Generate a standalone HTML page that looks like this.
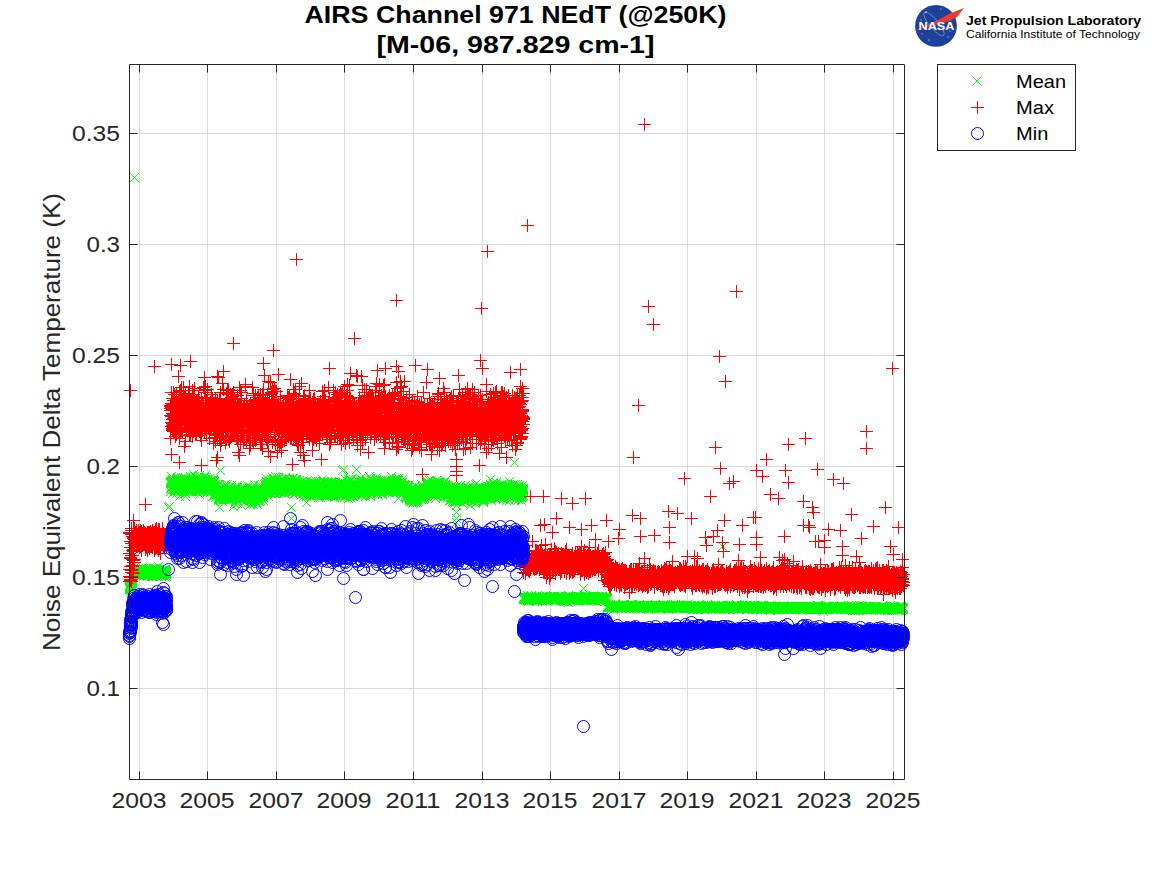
<!DOCTYPE html>
<html><head><meta charset="utf-8"><style>
html,body{margin:0;padding:0;background:#fff;width:1167px;height:875px;overflow:hidden}
svg{display:block}
text{font-family:"Liberation Sans",sans-serif}
</style></head><body>
<svg width="1167" height="875" viewBox="0 0 1167 875">
<defs>
<marker id="mx" markerUnits="userSpaceOnUse" markerWidth="20" markerHeight="20" refX="10" refY="10" viewBox="0 0 20 20" overflow="visible"><path d="M5.5 5.5L14.5 14.5M5.5 14.5L14.5 5.5" stroke="#00ff00" stroke-width="1" fill="none"/></marker>
<marker id="mp" markerUnits="userSpaceOnUse" markerWidth="20" markerHeight="20" refX="10" refY="10" viewBox="0 0 20 20" overflow="visible"><path d="M3.5 10H16.5M10 3.5V16.5" stroke="#ff0000" stroke-width="1" fill="none"/></marker>
<marker id="mo" markerUnits="userSpaceOnUse" markerWidth="20" markerHeight="20" refX="10" refY="10" viewBox="0 0 20 20" overflow="visible"><circle cx="10" cy="10" r="6" stroke="#0000ff" stroke-width="1" fill="none"/></marker>
</defs>
<rect width="1167" height="875" fill="#fff"/>
<g stroke="#dadada" stroke-width="1" fill="none"><path d="M139.5 64.5V779.5"/><path d="M207.5 64.5V779.5"/><path d="M276.5 64.5V779.5"/><path d="M344.5 64.5V779.5"/><path d="M413.5 64.5V779.5"/><path d="M482.5 64.5V779.5"/><path d="M550.5 64.5V779.5"/><path d="M619.5 64.5V779.5"/><path d="M687.5 64.5V779.5"/><path d="M756.5 64.5V779.5"/><path d="M824.5 64.5V779.5"/><path d="M893.5 64.5V779.5"/><path d="M129.5 688.5H904.5"/><path d="M129.5 577.5H904.5"/><path d="M129.5 466.5H904.5"/><path d="M129.5 355.5H904.5"/><path d="M129.5 244.5H904.5"/><path d="M129.5 133.5H904.5"/></g>
<path d="M129.5 588.5l0 0 0-3 0 4 0-3 0 1 0 0 0-1 1-1 0 3 0 0 0-3 0 6 0-2 0-3 0 3 0-2 0 0 1 2 0-3 0 2 0 2 0-1 0-2 0 2 0-4 0 2 0 1 0-3 1 2 0 3 0 1 0-2 0 0 0-3 0 0 0-1 0 3 0 1 0-2 1-17 0 2 0 1 0-1 0 2 0-2 0 0 0-2 0 2 0 2 1-2 0 0 0 1 0-1 0 1 0-396 0 396 0 0 0-2 0 2 0-4 0 3 1-2 0 2 0 1 0-2 0 1 0-3 0 1 0 3 0-3 0 3 0-3 1 0 0 0 0 2 0 1 0-3 0 2 0 3 0-4 0 0 0 2 1-1 0-1 0-2 0 4 0-2 0 1 0-2 0 4 0-1 0 1 0-2 1 1 0 1 0 0 0-1 0-1 0-1 0 0 0-1 0 3 0-1 0-4 1 4 0 2 0-2 0-3 0 3 0 1 0-1 0-1 0 4 0 0 1-3 0 1 0 0 0 0 0 2 0-2 0-1 0-1 0 0 0 1 0 2 1-1 0-1 0 0 0 0 0 1 0-3 0-2 0 3 0-1 0 5 0-3 1 0 0-3 0 4 0-2 0 3 0 0 0-3 0 2 0-6 0 4 1 3 0-1 0-1 0 0 0-3 0 1 0 2 0 3 0-7 0 5 0 0 1 1 0-4 0 1 0 1 0-2 0 0 0 0 0 2 0 1 0-1 0 0 1-1 0 0 0 3 0-2 0 0 0 2 0 0 0 0 0-1 0-1 1 1 0-1 0 3 0-2 0 0 0-1 0 2 0-6 0 5 0 0 0-3 1 6 0-4 0 0 0-2 0 4 0-2 0-1 0 1 0 1 0 1 0-2 1-2 0 1 0-3 0 3 0 2 0 0 0-1 0-1 0 4 0-2 1 1 0-1 0-2 0 4 0-5 0 0 0 1 0 0 0 0 0 0 0 3 1-2 0 1 0-4 0 1 0 4 0-4 0 4 0-4 0 3 0-3 0 2 1-2 0 2 0 3 0-4 0 5 0-5 0-1 0 2 0-1 0 4 1-1 0 0 0-1 0 3 0-3 0 0 0-2 0-1 0 2 0 2 0 0 1-4 0 3 0-1 0-2 0 3 0-5 0 4 0 4 0-6 0 2 0-3 1 2 0 2 0-3 0 2 0-1 0 0 0 1 0 1 0 1 0-1 1-2 0 4 0-1 0-5 0 4 0 0 0 1 0-1 0-3 0 2 0-4 1 4 0 4 0-3 0 1 0-3 0-1 0 0 0 2 0-1 0 0 0 3 1-5 0 1 0 1 0 1 0 0 0-3 0 3 0 0 0 1 0-3 1 2 0 0 0-1 0 1 0-1 0 3 0-8 0 3 0 0 0 2 0 0 1 0 0 2 0-4 0 1 0 2 0-2 0 3 0 0 0-2 0-2 0 6 1-2 0 0 0-1 0 0 0 1 0-1 0-1 0 2 0-1 0-1 1-1 0 4 0-1 0 3 0-5 0 0 0 2 0 1 0-1 0 0 0 2 1-4 0-1 0 1 0 0 0 2 0 1 0-1 0 2 0-4 0 4 0-4 1 3 0-4 0 3 0-1 0 1 0 0 0-1 0 0 0 0 0-2 1 1 0-2 0 3 0 4 0-3 0-3 0 1 0 3 0-3 0-2 0 1 1 0 0 0 0 3 0-1 0-3 0 2 0-1 0 0 0-1 0 6 1-4 0 2 0 1 0-3 0 2 0 0 0-1 0 4 0-3 0-1 0 1 2-66 1-1 1-15 0-3 0-5 0-2 0 0 0 1 1 4 0 2 0-12 0 8 0-3 0 6 0 1 0-6 0 1 0-2 1 5 0-7 0 1 0 2 0 7 0 4 0-8 0-5 0 5 0-4 0 5 1-6 0 3 0 1 0 2 0-2 0 5 0-4 0-7 0 10 0-5 0-1 1 8 0-9 0 4 0-3 0 7 0-6 0 2 0-6 0 11 0-9 1 7 0 1 0 0 0 2 0-11 0 6 0-1 0 1 0 2 0-3 0-3 1 2 0 6 0-10 0 5 0-4 0 7 0-9 0 4 0 1 0 1 0 8 1-3 0-9 0 11 0-12 0-2 0 1 0 6 0 1 0-9 0 9 1-2 0 3 0-4 0 5 0-1 0-7 0 10 0-5 0 2 0 2 0-8 1 3 0-2 0-1 0 4 0 1 0 3 0 0 0-5 0-3 0 15 0-4 1-8 0-3 0 2 0 3 0 3 0-1 0-2 0-2 0 1 0-2 1 2 0-1 0 2 0-8 0 5 0 0 0-3 0 4 0-3 0 1 0 1 1 1 0-2 0 6 0-3 0 1 0-1 0-3 0-1 0 7 0-5 0-5 1-1 0 8 0-3 0 2 0-1 0 0 0 1 0-4 0 4 0 4 1-1 0-9 0 2 0 0 0 4 0 4 0-2 0-8 0 7 0 2 0-4 1 8 0-9 0 7 0 4 0-13 0 3 0 4 0 9 0-18 0 9 0-1 1-3 0-2 0 2 0 0 0-3 0 10 0-9 0 2 0-1 0 1 1 2 0-3 0 2 0 7 0-3 0-5 0 5 0-6 0 3 0-6 0 1 1 1 0 8 0-4 0 1 0-1 0 1 0 0 0 1 0-2 0-4 0 1 1 7 0 1 0-3 0-8 0 11 0-4 0-2 0 1 0-2 0 8 1 0 0-10 0 3 0 2 0 3 0-13 0 12 0 3 0-8 0 1 0 5 1-3 0-6 0 0 0 1 0-2 0 5 0-1 0 2 0 2 0 4 0-6 1-7 0 11 0-5 0 5 0-6 0 3 0-2 0 0 0 5 0-7 1 3 0 0 0-2 0-6 0 9 0-12 0 5 0 4 0 3 0 2 0-1 1 0 0-4 0 6 0-6 0 5 0-12 0 5 0 1 0 2 0-8 0 11 1 1 0-1 0-4 0 7 0-8 0 6 0-4 0 0 0 0 0 0 1 4 0 2 0 0 0-2 0-1 0-1 0 5 0-8 0-1 0 3 0-7 1 6 0 0 0-3 0 1 0 5 0-3 0 1 0 3 0-6 0-2 0 4 1 2 0-8 0 9 0-4 0 0 0-2 0 3 0 4 0-2 0 1 1-4 0 7 0-1 0-5 0-9 0 10 0 9 0-10 0-3 0 10 0-9 1 4 0 1 0-8 0 6 0 4 0-6 0 4 0-3 0 4 0 3 1-10 0 2 0 3 0-4 0 0 0 1 0 1 0-2 0 4 0 1 0 0 1 0 0 2 0-9 0 4 0 1 0 1 0-7 0 12 0-10 0 4 0 2 1 1 0-6 0 1 0 3 0 1 0 1 0-4 0-2 0-2 0 11 1-11 0 7 0-1 0 1 0 1 0 1 0-5 0 2 0-9 0 8 0-4 1 3 0 5 0-4 0 3 0-4 0 2 0-3 0-8 0 7 0 2 0 1 1 0 0-1 0 4 0-1 0-4 0 5 0-11 0 7 0 0 0 5 1-6 0-4 0 6 0 6 0-7 0 0 0 0 0 1 0 4 0 3 0-6 1-2 0 7 0-6 0 0 0-2 0 0 0 2 0-1 0 2 0-1 0 2 1-4 0 1 0 1 0 0 0 0 0 4 0-8 0-3 0 9 0-3 1 5 0-5 0-4 0 12 0-6 0-3 0-1 0 5 0-5 0 4 0 3 1-9 0 3 0 3 0 5 0-3 0-5 0 7 0-7 0 1 0 2 0-5 1 15 0-7 0-3 0-3 0-2 0 6 0 1 0-4 0 1 0 3 1-2 0-6 0 9 0-2 0 2 0-5 0-5 0 4 0 5 0 7 0 1 1-7 0-7 0 5 0 3 0 0 0-1 0 4 0-8 0-4 0 5 0-1 1 12 0-8 0-5 0 8 0 1 0-3 0 1 0 3 0-2 0-4 1 5 0 1 0-2 0 2 0-1 0-3 0 1 0 3 0-4 0 6 0 0 1-11 0 7 0-2 0 0 0 3 0-1 0 3 0-1 0 1 0-4 0 1 1 7 0-14 0 15 0-9 0 7 0-14 0 8 0 5 0-3 0 3 1-7 0 1 0 0 0 4 0 0 0 12 0-14 0 0 0-1 0 2 0-4 0 3 1 0 0-1 0-22 0 21 0 8 0-8 0 4 0 3 0-2 0-2 0 3 0-9 1 1 0 3 0 1 0 0 0 7 0 0 0-7 0 1 0-4 0 5 1-6 0 10 0-7 0 4 0-7 0 10 0-3 0 5 0-7 0-6 0 3 1-2 0 10 0-8 0 0 0 5 0-2 0 1 0-3 0-6 0 3 0-3 1 12 0-1 0-5 0 4 0 0 0 0 0-1 0 2 0-3 0-8 1-2 0 14 0-2 0-12 0 10 0-4 0 2 0-8 0 12 0-3 0 3 1 1 0 1 0 1 0-4 0-1 0-3 0 4 0-2 0-4 0 9 0-2 1-12 0 3 0 6 0-4 0 9 0-4 0 2 0 1 0 1 0-5 1 3 0-2 0 2 0 0 0 3 0-3 0-4 0 2 0-5 0 6 0 4 1-8 0-3 0 5 0-1 0 2 0-3 0 3 0-4 0 9 0-6 0 2 1 1 0-3 0 2 0-2 0-1 0 1 0 2 0-6 0 1 0 1 1 1 0 6 0-5 0-1 0 2 0 3 0-6 0 6 0-12 0 5 0 9 1 0 0-5 0-2 0 5 0-5 0 7 0-1 0-2 0-5 0 6 1-4 0 0 0-1 0 1 0 2 0 2 0 0 0 9 0-14 0 6 0-7 1 2 0-3 0 8 0-3 0-1 0-1 0 4 0-5 0 3 0 8 0-10 1-1 0-2 0 7 0-3 0-3 0 0 0 3 0-4 0 11 0-8 1 0 0 0 0-6 0 2 0 3 0 2 0-5 0 11 0-5 0 3 0 0 1-5 0 10 0-9 0-7 0-2 0 9 0 3 0-3 0 6 0-7 0 3 1 0 0-6 0 5 0 0 0 3 0 0 0-1 0-6 0 5 0 2 1-4 0 3 0 0 0 1 0-4 0 2 0-2 0 0 0-2 0 1 0-3 1 3 0 3 0 0 0 0 0-3 0 6 0-7 0 5 0-2 0-4 0 0 1 5 0-2 0 1 0 10 0-9 0-2 0 2 0-4 0 1 0 2 1-4 0 3 0-1 0 1 0-7 0 13 0-7 0 3 0-6 0-1 0 5 1-1 0 3 0-6 0 0 0 5 0 1 0 1 0-3 0 1 0-4 0 8 1-1 0 0 0-10 0 9 0-6 0 5 0-1 0 3 0-5 0 0 1-3 0-1 0 7 0-6 0 6 0-4 0 0 0 5 0 0 0-7 0 3 1 1 0 2 0-5 0 1 0 1 0 3 0 1 0-5 0 8 0-5 0-4 1-3 0 4 0-7 0 9 0 2 0 2 0-3 0-7 0 5 0 3 1-10 0 5 0 5 0-2 0-8 0 6 0 2 0 7 0-9 0-2 0 5 1 0 0 1 0 3 0-6 0-4 0 5 0 0 0 3 0 0 0-6 0 5 1 1 0-4 0 4 0-3 0 0 0-1 0 4 0 7 0-9 0-5 1 3 0-1 0 3 0-2 0 10 0-7 0 4 0-9 0 2 0 8 0-13 1 6 0-6 0 11 0-10 0 4 0 0 0-5 0 15 0-10 0 7 0-9 1-3 0 6 0 0 0 10 0-14 0-2 0 3 0 4 0 1 0-5 1 1 0 4 0 2 0-6 0 2 0-10 0 6 0 5 0-1 0-1 0 6 1-6 0-3 0 4 0 0 0-4 0 7 0 3 0-8 0-2 0 3 0 5 1-6 0-1 0 1 0 3 0-1 0-1 0 5 0 4 0-10 0 5 1-2 0 9 0-14 0 2 0 2 0-5 0 4 0 3 0-8 0 6 0 6 1-9 0-1 0-5 0 8 0-5 0 8 0 4 0-4 0-5 0 5 0-4 1-2 0 2 0 2 0-2 0 4 0 5 0-5 0 0 0-5 0 7 1-3 0 2 0-6 0 3 0-9 0 7 0-1 0-1 0 10 0-12 0 5 1 0 0 3 0 1 0-9 0 4 0-1 0 5 0 1 0-5 0 0 0-2 1 5 0 4 0-4 0-4 0-1 0 0 0-3 0 12 0-6 0-2 1 9 0-7 0 4 0-4 0 3 0-4 0-2 0 3 0 1 0 1 0-3 1-2 0-1 0 3 0-3 0 0 0 3 0 0 0 0 0-5 0-3 0 7 1-1 0-2 0 2 0 2 0-4 0 2 0-5 0 3 0-3 0-2 1 7 0-12 0 10 0 3 0-2 0-7 0 6 0-7 0 3 0 8 0-5 1 4 0-8 0-4 0 5 0 7 0-2 0 1 0-5 0 0 0 0 1 11 0-10 0 6 0-7 0 5 0-8 0 2 0 3 0-4 0 1 0 1 1-1 0 7 0-1 0-9 0 11 0-7 0 0 0 0 0 4 0-1 0-4 1 2 0-5 0 11 0-9 0-1 0 1 0 3 0 2 0-4 0 2 1-2 0 6 0-4 0-7 0 12 0-4 0 6 0-10 0 1 0 1 0-4 1 3 0 6 0-2 0-11 0 13 0-3 0 2 0-3 0 0 0 0 0 0 1-4 0 7 0-3 0 1 0 0 0-2 0 0 0-4 0 6 0 0 1-2 0-6 0 11 0-5 0 1 0-1 0-2 0 1 0-2 0 2 0 9 1-3 0 3 0-10 0-4 0 2 0-5 0 14 0 0 0-4 0 1 0 0 1-2 0 3 0-6 0 2 0 1 0-5 0 2 0 5 0 0 0-10 1 12 0-2 0 1 0-3 0 3 0-7 0 4 0-3 0 2 0 6 0 1 1-5 0-2 0 4 0-1 0 6 0-5 0-11 0 9 0-2 0-1 0 3 1 0 0-2 0 7 0-4 0 0 0-1 0 4 0-8 0 8 0-5 1 6 0 0 0-4 0-3 0 3 0 0 0-7 0 4 0-1 0 8 0 1 1-9 0 1 0-3 0 6 0 2 0 3 0-11 0 8 0-4 0-2 0 1 1-1 0 4 0-1 0 4 0-6 0-5 0 3 0 5 0-7 0 3 1 5 0-7 0 8 0-2 0-3 0 1 0-1 0 0 0 0 0 2 0-1 1-2 0-1 0 11 0-11 0 3 0 5 0-1 0-6 0 10 0-1 0-8 1-3 0 7 0-3 0 0 0-2 0 0 0 3 0 3 0-11 0-1 1 12 0-6 0 5 0-2 0 4 0-1 0-4 0 0 0 2 0 1 0-5 1-3 0 6 0-1 0 0 0-3 0 6 0-9 0 5 0 6 0-8 0 5 1 0 0 0 0-7 0 9 0-3 0 1 0 0 0-1 0 4 0 1 1-12 0 4 0 2 0-7 0 13 0-8 0 5 0-2 0-1 0-3 0 2 1 2 0 2 0-3 0-1 0 1 0 5 0-3 0-4 0-2 0 3 0-2 1 2 0 7 0-3 0-2 0 1 0 5 0 15 0 11 0-36 0 5 0-2 0 1 1 0 0-2 0 4 0-10 0 9 0 1 0-6 0 0 0 10 0-10 0 2 1-1 0 0 0 0 0-5 0 16 0-11 0 4 0-2 0 5 0-2 0 2 1 0 0-1 0-3 0 3 0-9 0 9 0-1 0-1 0-6 0 9 1-7 0 5 0-9 0 6 0-2 0 0 0 0 0 9 0-7 0 2 0 6 1-13 0 11 0-7 0-1 0 1 0-5 0 1 0 2 0 2 0 4 0 1 1-5 0 3 0 0 0-2 0 1 0-3 0 5 0-3 0 1 0 0 1 0 0-3 0-2 0 5 0-2 0 0 0 2 0-3 0 5 0 0 0-5 1 5 0-5 0 6 0 0 0-3 0 4 0 0 0-2 0-8 0 7 0 0 1 3 0-7 0 6 0-1 0 0 0-5 0 1 0 7 0-1 0-3 1 4 0-3 0-2 0-4 0 9 0-4 0 1 0-7 0 5 0 3 0-2 1-2 0-1 0 5 0-2 0 0 0 0 0-1 0 1 0-1 0 2 1-4 0 1 0 4 0-1 0 1 0 7 0-5 0 2 0-3 0-2 0-2 1-4 0 2 0-3 0 4 0-2 0 3 0 3 0-1 0 4 0 0 0 1 1-1 0-2 0-3 0 4 0-3 0 0 0 2 0-5 0-2 0 7 1 5 0-2 0 9 0-18 0 3 0-6 0 5 0 10 0-1 0-10 0 3 1-2 0-2 0 4 0 0 0 1 0 1 0 1 0 3 0-5 0-1 0 1 1 2 0-3 0-3 0 2 0 5 0-7 0 7 0-8 0 7 0 0 1-3 0 1 0-1 0 7 0-8 0-1 0 4 0 3 0-3 0-2 0 5 1-7 0 0 0-1 0 8 0-12 0 3 0 6 0 0 0 5 0-5 0-3 1 7 0-1 0 0 0 0 0-2 0-7 0 1 0 11 0-7 0-7 1 7 0 3 0-2 0-1 0-8 0 8 0-1 0 7 0-6 0 0 0-2 1 1 0 2 0-3 0-1 0-2 0 5 0-1 0 0 0-5 0 3 0-4 1 10 0 1 0-3 0-2 0 2 0-6 0 0 0 9 0-8 0 4 1-3 0-6 0 6 0 6 0 1 0-13 0 3 0 4 0 5 0 1 0 1 1 1 0-8 0-2 0 7 0-4 0 1 0-1 0-1 0 5 0-7 0-2 1 3 0 3 0-1 0 0 0-6 0 4 0 7 0-5 0-2 0 7 1-6 0 4 0-2 0 1 0 2 0 5 0-4 0-7 0-1 0 3 0 0 1 3 0-2 0 0 0-6 0 5 0 3 0 4 0-4 0-2 0-5 0 5 1 0 0-1 0 1 0 1 0 0 0 7 0-12 0-2 0 7 0-6 1 4 0 0 0-2 0 5 0 0 0-2 0 2 0 1 0-5 0 4 0-2 1 0 0-2 0 8 0-5 0-7 0 7 0-11 0 11 0 1 0 3 0-5 1-3 0 9 0-3 0 1 0-5 0 3 0-9 0 8 0-9 0 4 1-2 0 10 0-1 0-6 0 7 0-4 0-8 0 6 0-5 0 7 0 1 1-4 0 5 0 1 0-7 0 6 0-3 0-1 0 8 0-9 0 1 0 1 1 3 0 0 0-6 0 8 0 2 0 1 0-7 0-2 0-2 0 5 1-2 0 0 0-2 0-5 0 6 0 1 0-1 0-4 0 5 0 0 0-4 1 7 0-3 0 1 0 1 0-2 0 0 0 2 0 1 0 1 0-4 0 3 1 2 0-10 0 4 0 1 0 1 0 6 0-2 0-5 0 0 0-4 1 1 0 8 0-11 0 9 0-5 0 1 0 1 0 7 0-5 0 0 0 2 1-11 0 14 0-12 0 3 0 5 0-7 0-2 0 11 0-6 0 5 0-2 1-2 0 7 0-7 0 8 0-11 0 0 0 1 0 3 0-4 0 1 1 8 0-5 0 4 0-3 0-3 0-1 0 3 0 0 0-2 0 0 0 7 1-2 0-2 0-3 0 0 0 9 0-9 0 10 0-11 0-3 0 13 0-8 1 6 0-4 0-2 0 4 0-4 0 2 0-2 0-6 0 8 0-3 1 1 0 2 0-6 0 7 0 0 0 5 0-4 0-2 0-4 0 3 0-5 1 6 0-2 0-1 0 2 0 1 0-1 0-5 0 9 0-4 0 1 1-1 0-4 0 4 0-2 0-2 0 4 0 2 0 0 0-2 0-3 0 1 1 1 0-5 0 8 0-2 0-5 0 10 0 1 0-11 0 4 0-3 0 6 1-7 0 6 0 0 0 2 0-10 0 4 0 2 0 4 0-3 0 2 1-1 0-5 0 3 0-1 0 0 0-2 0 6 0-2 0-7 0 9 0-5 1-3 0 10 0-5 0-18 0 20 0-2 0 0 0-6 0 9 0-5 0 2 0 0 1-3 0-1 0 4 0-19 0 24 0-7 0 0 0 3 0-3 0 7 0-3 1 7 0-8 0 7 0-10 0 3 0-4 0 2 0 0 0 4 0 2 0-5 1-5 0 5 0 0 0-1 0 5 0 1 0-7 0 0 0-7 0 7 0 5 1-6 0 7 0-1 0 0 0 0 0-3 0 4 0 0 0-2 0-2 1 5 0 1 0-8 0 5 0-2 0 8 0-10 0-1 0-1 0 7 0-7 1 6 0-4 0 6 0 1 0-1 0-12 0 2 0-4 0 19 0-12 0 1 1 2 0 2 0-4 0 2 0-1 0-4 0 11 0 0 0-7 0 0 1 7 0 2 0-8 0 1 0-3 0 3 0-11 0 1 0 10 0-2 0 2 1-1 0 1 0-1 0-1 0 2 0-4 0 7 0-8 0 2 0 5 0-5 1 5 0 2 0-3 0-4 0 8 0-5 0-5 0 11 0-7 0 1 1 2 0-6 0 5 0-7 0 1 0 2 0 9 0-6 0 2 0-5 0 3 1-9 0 6 0 3 0-4 0-5 0 1 0 8 0 3 0-6 0 7 0-11 1 7 0-1 0 3 0-9 0 9 0-4 0-3 0 1 0 1 0 2 1-4 0 0 0 3 0 0 0 2 0 1 0-10 0 7 0-19 0 20 0-1 0-4 1 6 0 4 0-7 0-2 0 6 0-3 0 0 0 1 0-3 0 2 0-3 1-4 0 10 0-2 0-2 0 5 0-5 0 5 0-1 0-4 0-4 1 6 0-1 0 3 0-9 0 5 0 1 0 1 0-1 0 1 0-10 0 7 1-1 0-3 0 6 0-2 0-3 0-1 0 7 0-11 0 9 0-4 0 5 1 6 0-3 0-4 0 6 0 1 0-3 0 3 0-6 0 2 0-3 1-1 0 1 0-2 0 2 0 8 0-5 0-3 0 7 0-1 0-10 0 2 1 9 0-6 0 0 0-3 0-2 0 8 0-7 0 5 0 5 0-5 0-3 1 4 0-1 0-3 0 2 0-5 0-2 0 4 0-4 0 4 0 2 1 1 0 6 0-10 0 1 0 0 0-2 0 11 0-10 0 2 0 0 0 10 1-10 0-2 0 8 0-7 0-6 0 12 0-1 0-8 0 0 0 5 0-4 1-2 0 1 0 11 0-2 0-8 0 3 0 1 0-1 0 1 0 6 1-9 0 0 0 3 0-3 0 1 0 0 0-2 0 8 0-7 0 7 0-8 1 0 0 4 0-1 0 4 0-1 0 6 0-19 0 7 0 3 0 0 0 0 1 10 0-18 0 11 0-3 0 0 0 4 0-4 0 3 0 2 0 0 1-11 0 4 0-2 0 1 0 3 0 8 0-10 0 1 0 1 0 6 0-8 1 4 0 1 0-1 0-9 0 2 0 8 0-9 0 5 0-4 0 7 1-2 0-6 0 5 0-3 0 2 0 7 0-4 0 0 0 5 0-6 0 5 1-4 0 0 0-2 0-2 0-1 0 1 0 5 0-1 0-4 0 7 0-6 1 0 0-3 0 2 0 6 0-1 0-4 0 6 0-4 0 0 0 4 1-2 0-3 0-3 0 9 0-14 0 7 0-5 0 5 0 5 0-4 0-1 1 2 0 7 0-2 0-4 0-4 0 1 0 3 0-2 0 0 0-3 0-1 1 1 0 5 0-5 0 13 0-7 0 0 0 1 0-7 0 0 0 3 1 3 0 0 0 4 0-1 0-1 0 0 0-3 0 2 0-4 0-1 0 5 1-9 0 11 0 2 0-9 0 5 0-2 0-4 0 5 0 0 0 2 0-5 1 2 0-3 0 6 0-4 0 3 0-5 0 3 0-4 0 1 0 6 1-4 0 0 0 3 0-6 0 10 0-10 0 2 0 9 0-14 0 13 0-5 1 0 0-6 0 5 0-5 0 8 0-5 0-1 0 0 0 2 0 4 0-2 1-5 0 0 0-1 0 7 0-1 0-6 0-2 0 6 0-2 0 4 1-2 0 1 0 2 0 1 0-5 0 4 0-5 0-2 0 5 0 3 0 1 1-5 0-6 0 7 0-2 0 3 0 2 0-6 0-1 0 2 0-1 0-2 1 5 0-4 0 2 0 0 0-1 0 4 0-4 0 2 0 3 0-4 1-4 0 3 0 0 0 4 0 4 0-5 0-2 0 6 0-8 0 4 0 1 1-2 0-1 0 2 0 4 0-3 0-4 0 3 0 2 0 3 0-3 0-2 1 4 0-2 0-3 0-2 0 2 0 3 0-7 0-2 0 8 0-8 1 1 0 4 0 0 0 1 0 0 0 2 0-3 0-2 0-7 0 14 0-1 1-1 0-2 0-3 0 5 0-2 0-5 0 8 0-8 0 3 0 8 0-9 1 3 0 4 0-4 0-5 0 3 0 2 0-6 0 11 0-4 0 1 1-1 0 0 0-3 0-4 0 8 0-2 0 5 0-9 0 4 0 7 0-12 1 0 0 5 0 6 0-11 0 5 0-1 0-1 0 1 0 5 0-4 0-5 1 2 0 3 0-5 0 2 0 1 0-6 0 14 0-12 0 6 0-1 1-2 0 7 0-4 0-3 0 7 0-2 0-6 0-2 0 9 0-4 0-5 1 8 0-8 0 3 0 0 0-5 0 10 0 10 0-10 0-1 0-2 0 0 1 2 0 1 0-4 0 2 0-1 0 3 0 1 0 1 0-6 0 0 1 4 0-3 0 0 0 2 0 0 0 4 0-10 0 9 0-6 0 4 0-7 1 4 0-1 0 8 0-10 0 8 0-7 0-1 0 5 0 3 0-4 0 2 1-1 0-1 0 5 0-5 0 4 0-8 0 4 0 4 0-5 0-6 1 11 0-1 0-3 0 2 0-2 0 3 0 3 0-3 0-1 0-2 0 2 1-2 0 6 0-7 0 1 0 4 0 0 0 0 0-3 0 3 0-6 0 0 1 1 0 6 0 3 0-6 0 0 0 1 0 7 0-5 0 0 0-3 1 4 0 3 0-4 0-3 0 8 0-5 0 6 0-10 0 4 0 1 0-7 1 7 0 2 0-3 0 2 0 0 0-4 0 6 0-6 0 2 0-1 1 5 0-4 0 0 0-6 0 7 0 5 0-11 0 8 0-1 0-6 0 5 1 5 0-3 0 1 0 3 0-5 0 4 0-7 0 1 0 9 0-1 0-1 1-9 0 5 0-3 0 10 0-11 0 0 0 2 0 4 0-3 0 1 1 2 0-1 0-7 0 2 0 10 0-5 0 6 0-1 0-1 0-4 0 5 1-7 0 10 0-6 0 0 0-4 0 0 0 1 0-1 0-1 0-1 0 5 1 3 0 3 0-4 0-3 0 2 0 4 0-6 0 4 0-3 0-1 1-2 0 5 0-6 0-1 0 5 0 2 0 0 0 0 0-4 0 1 0 4 1 3 0-17 0 14 0-3 0-1 0-3 0 1 0-2 0 5 0-5 0 3 1-4 0 9 0-2 0-6 0 6 0-4 0-1 0 3 0 3 0 2 1-4 0 3 0-2 0 0 0 1 0-8 0 3 0 7 0-10 0 2 0 10 1-11 0 4 0 1 0-2 0 4 0 0 0-6 0 9 0-9 0 1 0 1 1 1 0-4 0 5 0-9 0 6 0-2 0 1 0 2 0 1 0-3 1 3 0-6 0 4 0 5 0-6 0 1 0 1 0 3 0-1 0-2 0-3 1 4 0-11 0 12 0-4 0 5 0-3 0 5 0-7 0-5 0 7 0-1 1 1 0 4 0-7 0 5 0 1 0 1 0-11 0 7 0-3 0 2 1-3 0 2 0 4 0 3 0-4 0-7 0 9 0-9 0 3 0 5 0-6 1 5 0-4 0-3 0 5 0-3 0 8 0 0 0-1 0-9 0 10 0-6 1 1 0-1 0-3 0 2 0 3 0 2 0-4 0-2 0-1 0 0 1 7 0-4 0-1 0-7 0-1 0 9 0 0 0 1 0-3 0-3 0-4 1 3 0-5 0 9 0 0 0 3 0-11 0 1 0 7 0-1 0-8 0 4 1 3 0-2 0 3 0-1 0-2 0 3 0-1 0 4 0-9 0 4 1-2 0 2 0 2 0 1 0-10 0 12 0-2 0 0 0-2 0 3 0-2 1-8 0 4 0 2 0 0 0-1 0 4 0-6 0 1 0-1 0 4 0 1 1-4 0 4 0-3 0 7 0-13 0 8 0 4 0-6 0-2 0 1 1 5 0-4 0 6 0-4 0-2 0 0 0 4 0 1 0-6 0-1 0 0 1 6 0 4 0-8 0 4 0-4 0 5 0-8 0 7 0-7 0 2 0 4 1-2 0 1 0 2 0-1 0 4 0-2 0-6 0 3 0-2 0 0 1 8 0-9 0 8 0 0 0 5 0-10 0 1 0 0 0-2 0 7 0 1 1-15 0 7 0 5 0-8 0 1 0 3 0 0 0-1 0 0 0 7 0-14 1 6 0-2 0 5 0-3 0 4 0-2 0 8 0-13 0 3 0 5 1-4 0 1 0-6 0 8 0-3 0 3 0-5 0 1 0-1 0 9 0-13 1 8 0 0 0 3 0-3 0-5 0 6 0-8 0 10 0-5 0-2 1 1 0 4 0-8 0 12 0-9 0 8 0-5 0 7 0-12 0 8 0-3 1-2 0 5 0-4 0-2 0 2 0-2 0 2 0 1 0 4 0-5 0-2 1 6 0-5 0-2 0-1 0 11 0-7 0 7 0-10 0 0 0 10 1-7 0 0 0 0 0-3 0 8 0-9 0 8 0-7 0 13 0-7 0 2 1-10 0 7 0-4 0 0 0 0 0 6 0-3 0-2 0 0 0-1 0 1 1 1 0-3 0 1 0-5 0 8 0 2 0-3 0 7 0-8 0 3 1 4 0-3 0-4 0 4 0-2 0 5 0-1 0-3 0 3 0 4 0-2 1-1 0-4 0-1 0 0 0 6 0-7 0 5 0 5 0-12 0 7 0-5 1 4 0 2 0-5 0-1 0 3 0 2 0-2 0-2 0 7 0-7 1-1 0 6 0 7 0-9 0 1 0-3 0 2 0-2 0 5 0-3 0-1 1 7 0-9 0 9 0-4 0-3 0 3 0-1 0 2 0-1 0 7 0-3 1 0 0-8 0 3 0 6 0-2 0-3 0 0 0 4 0-11 0 4 1-2 0 10 0-10 0 4 0 6 0-6 0 2 0-1 0 3 0 5 0-12 1 4 0 6 0 3 0-9 0 5 0-2 0 0 0-8 0-1 0 7 0-1 1 0 0-4 0 10 0-6 0 10 0-10 0 2 0 1 0-4 0-2 1 1 0 2 0-1 0 9 0-9 0 4 0 0 0-2 0-4 0 5 0 2 1-3 0 0 0-8 0 3 0 4 0 1 0 2 0 9 0 7 0 6 0 4 0-30 0 2 0-4 0 6 1 0 0-3 0 4 0-5 0 0 0 0 0 9 0-13 0 6 0-2 1 2 0-6 0 8 0 0 0-3 0-1 0 2 0 3 0-9 0 11 0-7 1 5 0-6 0 10 0-6 0 5 0-9 0 0 0 7 0-2 0-1 0 3 1-3 0-3 0-5 0-2 0 11 0 0 0-6 0 6 0-3 0 1 1 3 0-9 0 7 0 1 0-3 0 1 0-4 0 4 0 2 0 1 0-6 1 6 0-2 0 1 0-2 0 2 0-2 0 9 0-10 0 5 0-4 0-6 1 7 0 3 0-2 0 1 0-6 0 4 0-6 0 11 0-1 0-9 1 2 0-3 0 2 0 1 0-3 0 3 0 4 0-3 0 3 0-3 0 1 1-5 0 8 0-8 0 3 0-3 0 6 0-5 0 6 0 5 0-6 0-10 1 12 0-3 0 2 0-1 0 3 0-1 0-4 0-4 0 4 0 3 1-9 0 7 0-7 0 11 0 2 0-3 0-5 0 5 0 2 0 1 0-1 1-1 0-8 0 3 0 2 0-1 0-7 0 6 0-2 0 3 0 1 0-7 1 3 0 3 0-4 0 4 0-3 0 0 0 6 0-4 0-1 0 7 1-6 0 1 0 0 0 11 0-9 0 1 0-5 0 5 0 1 0-9 0 6 1 5 0 0 0-5 0 7 0-11 0 7 0-2 0-6 0 7 0-8 0 2 1 2 0-4 0 9 0-6 0-3 0 6 0-1 0-4 0 2 0 5 1 0 0-9 0 9 0 0 0 1 0-6 0-1 0 2 0-2 0 2 0-1 1 1 0-1 0 2 0 0 0-1 0-1 0 8 0-3 0-1 0-5 1 5 0-3 0 3 0-1 0 8 0-9 0-4 0 8 0 0 0 1 0-15 1 6 0 1 0-3 0 6 0 2 0 2 0-1 0-3 0 5 0-4 0-12 1 9 0-1 0 4 0-3 0 0 0 7 0-8 0-3 0 6 0 2 1-3 0 0 0-2 0-2 0 2 0-1 0 8 0-6 0 7 0-6 0-3 1 4 0 0 0 4 0-12 0 6 0 3 0-4 0 3 0-2 0 7 0-1 1-12 0 2 0 2 0 3 0 0 0-1 0 4 0 1 0-3 0-2 1 2 0-4 0 6 0 0 0-6 0 9 0-6 0 3 0-3 0 0 0 3 1-6 0 3 0-4 0 6 0-2 0-1 0 0 0 4 0-2 0-1 0-1 1 8 0-1 0-10 0 9 0-3 0 0 0 0 0-7 0 14 0-1 1-7 0-1 0 1 0-3 0 4 0-2 0-4 0 2 0 0 0 0 0 1 1 3 0-4 0-4 0 11 0-7 0 7 0-4 0 1 0-5 0 3 0-2 1 1 0 2 0-3 0 5 0-9 0 2 0 5 0 0 0 2 0 2 1-4 0 1 0-2 0 0 0-1 0 1 0-3 0 2 0 3 0-1 0 2 1-6 0 1 0 3 0-5 0 0 0 5 0-3 0 4 0-3 0-2 0-2 1 8 0-5 0-3 0-2 0 1 0 3 0 6 0-8 0 4 0 0 1-13 0 8 0 7 0-10 0 11 0-4 0-6 0 13 0-7 0 6 0-5 1-4 0 7 0 3 0-2 0-9 0 6 0-6 0 2 0 7 0-10 0 14 1-15 0 1 0 8 0-4 0 1 0-3 0 6 0-2 0-1 0-3 1-2 0 5 0-8 0 6 0 4 0 1 0-4 0-8 0 11 0 1 0-3 1 5 0-1 0-10 0 5 0-1 0 8 0-2 0-3 0 1 0 1 0-5 1 1 0 1 0-1 0 0 0 2 0-6 0 1 0 7 0 3 0 1 1-13 0 7 0-4 0 1 0 1 0 3 0 0 0-11 0 7 0 6 0-3 1-7 0 2 0 1 0 7 0 2 0-10 0 6 0-3 0 3 0-3 0-3 1 2 0 0 0 7 0-8 0 5 0-5 0 1 0 3 0-3 0 9 1-2 0-9 0 6 0 4 0-10 0 3 0 6 0-8 0 5 0-2 0 1 1-5 0 4 0-2 0 8 0-4 0-2 0 0 0 3 0-9 0 2 0 1 1 0 0-3 0 8 0-4 0 7 0-5 0-1 0 3 0 0 0-3 1 3 0 3 0-7 0 7 0-6 0 4 0-3 0-1 0 2 0-5 0-2 1 6 0-1 0-3 0 12 0-7 0-4 0 5 0 0 0-3 0 0 0-6 1 8 0 6 0-3 0 0 0-6 0-2 0 7 0-2 0-2 0 0 1 4 0-1 0-4 0 2 0-6 0 2 0 6 0-4 0-1 0 4 0 4 1-8 0 2 0 0 0 10 0-5 0-3 0-6 0 8 0-1 0-3 0-2 1 1 0-4 0 5 0-1 0-1 0 2 0-5 0 10 0-5 0-3 1 7 0-1 0-4 0-3 0 5 0 2 0 0 0 1 0 0 0-8 0 5 1-7 0 10 0-2 0 2 0-3 0 0 0-2 0-8 0 9 0 10 1-4 0-6 0 2 0 1 0-4 0 2 0 1 0-3 0 4 0 2 0-1 1-2 0-2 0 4 0-5 0 0 0 7 0-6 0-4 0 8 0 0 0 1 1-4 0 4 0-4 0-4 0 3 0 2 0-5 0 3 0 2 0-2 1 1 0 0 0-3 0 4 0 1 0-9 0 5 0 5 0-1 0-9 0 8 1 4 0-2 0 0 0-3 0 0 0-4 0 4 0-29 0 38 0-9 0-3 0 5 1-9 0 15 0-6 0-3 0 0 0-2 0 4 0-1 0-5 0 9 1-5 0-3 0 8 0-1 0-5 0 0 0 6 0-5 0 2 0 4 0-9 1-1 0 2 0 1 0 2 0 4 0-5 0 7 0-5 0-8 0 7 0 3 1 1 0-6 0 2 0 8 0-7 0-4 0-2 0 4 0 3 0-6 1 9 0-7 0-4 0 9 0-2 0-1 0 5 0-7 0 5 0-4 0 7 1-5 0 0 0 2 0-3 0 2 0-2 0 3 0-2 0-2 0 4 0-1 1-5 0 2 0-4 0 6 0 3 0 5 0-7 0 2 0 2 0-3 1-9 0 5 0 3 0 0 0-1 0-4 0-3 0 8 0 3 0-6 0 4 1-4 0 1 0-2 0 6 0-7 0 110 0 1 0-1 0-1 0 1 0 0 1-1 0 1 0 0 0 1 0-1 0 0 0 1 0-3 0 3 0-1 1-1 0 1 0 1 0-2 0 0 0 2 0 1 0 0 0-2 0-1 0 0 1 1 0-1 0 1 0 1 0-2 0 2 0-2 0 0 0 0 0 2 0-1 1 0 0-3 0 2 0 1 0-3 0 5 0-2 0 1 0-1 0 1 1 0 0 2 0-4 0 3 0-3 0 1 0 0 0 0 0-2 0 2 0-1 1 1 0 0 0 0 0 0 0 1 0-1 0 1 0 0 0-1 0 0 0 1 1-1 0 1 0-2 0 1 0 0 0 0 0 0 0 0 0-2 0 3 1-1 0 1 0-2 0 2 0-2 0 3 0-2 0 0 0-3 0 1 0 2 1-1 0 0 0 1 0 1 0-1 0 0 0-1 0 0 0 1 0 0 0 0 1 0 0 0 0 1 0 0 0-2 0 0 0 2 0-1 0 1 0-2 1-1 0 0 0 1 0 1 0 2 0-1 0 0 0 0 0-3 0 2 0 0 1 2 0-3 0 0 0 1 0 0 0 0 0 0 0 0 0-1 0 1 0 2 1-3 0 2 0-2 0-1 0 3 0-1 0 1 0 0 0-1 0-1 1 3 0-2 0 2 0-1 0 0 0 0 0 0 0-1 0 3 0-4 0 0 1 2 0-1 0 1 0-1 0 1 0-1 0-1 0 1 0 1 0-1 0-1 1 1 0 1 0 0 0 0 0 0 0-1 0 2 0 0 0-2 0 0 1 0 0 1 0-1 0 0 0-1 0 1 0 0 0 1 0 0 0-1 0 0 1-1 0 2 0-1 0 1 0 0 0 0 0-1 0 0 0-1 0 1 0 1 1 1 0-2 0 0 0 3 0-3 0 0 0 0 0 0 0-2 0 3 1-3 0 2 0 0 0 1 0-1 0 0 0-1 0 1 0 0 0-1 0 0 1 0 0 1 0-2 0 2 0 0 0 1 0-2 0 0 0 1 0 0 1-3 0 4 0-1 0 0 0-1 0 1 0 0 0 2 0-1 0 0 0-2 1 0 0 1 0-1 0 3 0-2 0-1 0 1 0 2 0-2 0 1 0-3 1 1 0 1 0 0 0 0 0 0 0 1 0-3 0 2 0 1 0-1 1 1 0-1 0 0 0-1 0 2 0-2 0 1 0 0 0 1 0-1 0-1 1 2 0-2 0 0 0-1 0 2 0 0 0-2 0 2 0 0 0-1 0-1 1 2 0 1 0-3 0 3 0-1 0 1 0-2 0 2 0-1 0 1 1-1 0 1 0-1 0-1 0 0 0-1 0 2 0 0 0 0 0 0 0 0 1 0 0-1 0 2 0 1 0-3 0 0 0 1 0-1 0 2 0-2 0 0 1 0 0 2 0-3 0 2 0-2 0 3 0-1 0 1 0 1 0-2 1 1 0 0 0 0 0-2 0 2 0-1 0 2 0-1 0-1 0 1 0 0 1-1 0 3 0-4 0 0 0 0 0 1 0 0 0 1 0 0 0-1 0 0 1-1 0 2 0 1 0-2 0 1 0-1 0 0 0 0 0 1 0-2 1 1 0 1 0 0 0 0 0-3 0 1 0 1 0-1 0-1 0 3 0-1 1-2 0 2 0 0 0 1 0 0 0-2 0 0 0 1 0 1 0-1 0-1 1 2 0-1 0 1 0 0 0 0 0-3 0 1 0 0 0 0 0 1 1 0 0 1 0-2 0 2 0 0 0-3 0 1 0 0 0 2 0 0 0 1 1-4 0 2 0 0 0 0 0 0 0-2 0 2 0 0 0-1 0 2 0-2 1 1 0-1 0-1 0 2 0 0 0-1 0 1 0 2 0-1 0-1 1-1 0 2 0-2 0 0 0 3 0-2 0 1 0-1 0 3 0 0 0-3 1 1 0-1 0 1 0 0 0 0 0-1 0 0 0 3 0-2 0 1 0-1 1-1 0-1 0 0 0-1 0 1 0 0 0 2 0-3 0 3 0-3 1 5 0-3 0 0 0 2 0-2 0 0 0 0 0 1 0-1 0 2 0-1 1-1 0 1 0-1 0 0 0 0 0 1 0-2 0 1 0 1 0-2 0 1 1-1 0 1 0 0 0 0 0-1 0-1 0-1 0 7 0-5 0 0 1-1 0 3 0 0 0 0 0-2 0 2 0-2 0 2 0-1 0-2 0 2 1-1 0 4 0-4 0 1 0 0 0-1 0 0 0 1 0 0 0 0 0 0 1 0 0-1 0 1 0 0 0 1 0 0 0 0 0 0 0-2 0 2 1-1 0 0 0 0 0 1 0-2 0 2 0-1 0-1 0 1 0-1 0 2 1-2 0 1 0 1 0-3 0 3 0-1 0 0 0 0 0-1 0 3 0-1 1 0 0 0 0 0 0-1 0-1 0 0 0 0 0 1 0 1 0-2 1 1 0 1 0-1 0 0 0-1 0 1 0-1 0 0 0 1 0 0 0 1 1-2 0 1 0-1 0-1 0 1 0 1 0 0 0 0 0-2 0 3 0 0 1 0 0-3 0 2 0-1 0 0 0 1 0-2 0 3 0 0 0 0 1 0 0-3 0 2 0 0 0-1 0 2 0 2 0-4 0 2 0-1 0 0 1 0 0 1 0-2 0 1 0 2 0-2 0 0 0-2 0 2 0 1 1-1 0 2 0-4 0 3 0-3 0 1 0-1 0 3 0-1 0-1 0 1 1-2 0 1 0 1 0-1 0 1 0-2 0 2 0 0 0 0 0 1 0-1 1-1 0 1 0-1 0 3 0-2 0 0 0 0 0-1 0 1 0 0 1 2 0-1 0 1 0-2 0 0 0 1 0-11 0 9 0 0 0 2 0-1 0 0 1-2 0 1 0 0 0 0 0 1 0-1 0 0 0 3 0-2 0-1 0 3 1-2 0 0 0-3 0 4 0-1 0 1 0 1 0-3 0 3 0-1 1-1 0-2 0 4 0-2 0 1 0-2 0 2 0 0 0 0 0-2 0-1 1 1 0 0 0 1 0 0 0 0 0 1 0 1 0-2 0-2 0 2 0 0 1 0 0 0 0 0 0-2 0 2 0 0 0 0 0 0 0 1 0-3 1 2 0 0 0-1 0 1 0 1 0-1 0-1 0 0 0 1 0-1 0 1 1-1 0 1 0 1 0 0 0-1 0 0 0 1 0-2 0 1 0-1 0 2 1-1 0-1 0 0 0 2 0-1 0-2 0 4 0-2 0 0 0 0 1-1 0-1 0 2 0 0 0 0 0 1 0-1 0-1 0 1 0 1 0-2 1 3 0-3 0 3 0-2 0-2 0 2 0 0 0 0 0 0 0 0 0-3 1 4 0-1 0 0 0 1 0-1 0-1 0 2 0-1 0 0 0-1 1 1 0-1 0 3 0-3 0 2 0-3 0 2 0 0 0 1 0-1 0 2 1 1 0-4 0 2 0-2 0 0 0 1 0 1 0 0 0-1 0 1 0-2 1 0 0 1 0-2 0 3 0-1 0 0 0 0 0-1 0 1 0-2 1 2 0 0 0 2 0-2 0 1 0-1 0-2 0 3 0-1 0-1 0 2 1-2 0 1 0 1 0 0 0-2 0 1 0 0 0 1 0-1 0-2 0 2 1 2 0-3 0 1 0 1 0-1 0-1 0 1 0 0 0-1 0 1 1-1 0-1 0 1 0 1 0 0 0-1 0 2 0 0 0-1 0 1 0 0 1 0 0-2 0 2 0 0 0-1 0 0 0 0 0 0 0-2 0 4 0-2 1 2 0-2 0-1 0 2 0-1 0 1 0-1 0 0 0-1 0 0 1 1 0-1 0 1 0 1 0-2 0 1 0-1 0 1 0 0 0 1 0 0 1-2 0 2 0-2 0 0 0 0 0-1 0 2 0-2 0 2 0 3 0-4 1-1 0 2 0-1 0 1 0 0 0 0 0 2 0-2 0 0 0 0 1-1 0 0 0 0 0 2 0-1 0 1 0 7 0 2 0-2 0 1 0-1 1 1 0-1 0 0 0-1 0 2 0 0 0 0 0-2 0 2 0-2 0 0 1 0 0 2 0-1 0-1 0 1 0 0 0 0 0 0 0 0 0 1 1 0 0-1 0 0 0 1 0-1 0 1 0-1 0 0 0-2 0 1 0 0 1 1 0 2 0-3 0 1 0-1 0 1 0 0 0 1 0-2 0 1 0 0 1 0 0-1 0 0 0 1 0 1 0-1 0-1 0 1 0-1 0 2 1 2 0-3 0 1 0-2 0 1 0 0 0 1 0-1 0 1 0-2 0 1 1 0 0 0 0 0 0 2 0-2 0 1 0-1 0 2 0-2 0 1 1 0 0-4 0 3 0 1 0 0 0-2 0 1 0 1 0-2 0 0 0 2 1 0 0 0 0 0 0-1 0-1 0 1 0 0 0 0 0 0 0 1 0-2 1 1 0-1 0 3 0-2 0 1 0 0 0-1 0 0 0 0 0 0 1-1 0 1 0 1 0-1 0 1 0 0 0 0 0-1 0 0 0 1 0-1 1-1 0 2 0-1 0 1 0-1 0-1 0 1 0 0 0-1 0 2 0-1 1-1 0 0 0 1 0 1 0-1 0 1 0-1 0 1 0-2 0 2 1-1 0 1 0-2 0 0 0 2 0-2 0 1 0 0 0 2 0-1 0 0 1-1 0-1 0 3 0-2 0 0 0 0 0-1 0 2 0-1 0-1 0 0 1-1 0 2 0 0 0-1 0 1 0 0 0 1 0-1 0 0 0-1 1 0 0 0 0 1 0 0 0 1 0 0 0-2 0 2 0 0 0-1 0 1 1-1 0 2 0-1 0-1 0-1 0 1 0-1 0 1 0-1 0 2 0-1 1 1 0 0 0-1 0 1 0 0 0-2 0 2 0-1 0 2 0-2 1 1 0-2 0 2 0 0 0-1 0 1 0-2 0 1 0 0 0 0 0 0 1 1 0-1 0 0 0 0 0 1 0 1 0-1 0 0 0-2 0 1 0-1 1 0 0 2 0-1 0 1 0-1 0 0 0 0 0-1 0 1 0 1 1 0 0-1 0 1 0-1 0 1 0 1 0-2 0-1 0-1 0 2 0 0 1 1 0-1 0 0 0 1 0-2 0 1 0 0 0 0 0-1 0 2 0 0 1-1 0-2 0 2 0 0 0 1 0-1 0 0 0 1 0 0 0-1 1-1 0 0 0 2 0-1 0 0 0 0 0 0 0 0 0-1 0 1 0 0 1 0 0-1 0 3 0-3 0 2 0-2 0 2 0-2 0 2 0-1 0 1 1-1 0 0 0 0 0 0 0 0 0 1 0-2 0 0 0 0 0 2 1-2 0 1 0 0 0 0 0 0 0 0 0-1 0 2 0-1 0 1 0 0 1-1 0-1 0 1 0 1 0 1 0-1 0 0 0 0 0 1 0-1 0-1 1-1 0 3 0-2 0 0 0-1 0 0 0 1 0 0 0 0 0 1 1-1 0 0 0 0 0-1 0-1 0 2 0 1 0-1 0 0 0 0 0 2 1-1 0-1 0 0 0 1 0-1 0 0 0 1 0 0 0-1 0 3 0-2 1-2 0 2 0-1 0 2 0-1 0-1 0 1 0-2 0 1 0 1 1-1 0-1 0 0 0 1 0 1 0-1 0 0 0-1 0 1 0 0 0 1 1-1 0 1 0 0 0-1 0-1 0 1 0 1 0 1 0-2 0-1 0 0 1 0 0 1 0 0 0 0 0 0 0 0 0-1 0 1 0 0 0 0 1 0 0-1 0 2 0-1 0 0 0 0 0 0 0 1 0 0 0-2 0 0 1 2 0-1 0 2 0-3 0 1 0 0 0 0 0-1 0 1 0 2 1-2 0-2 0 3 0 0 0 0 0-2 0 2 0 0 0-1 0 0 0 1 1 0 0-1 0 0 0 2 0 0 0-3 0 3 0-2 0 1 0-2 0 1 1 0 0 1 0-1 0 1 0 0 0-1 0 1 0-1 0 0 0 0 1-1 0 1 0 0 0 1 0-1 0 2 0-1 0-1 0 0 0 0 0-1 1 2 0-1 0-1 0 2 0-1 0 0 0-1 0 1 0 1 0-1 0 0 1-1 0 2 0-1 0 0 0 1 0 0 0-1 0 1 0 1 0-3 1 1 0-1 0 1 0 1 0-1 0-1 0 1 0 1 0-2 0 0 0 2 1-2 0 1 0-1 0 0 0 2 0 0 0-1 0 2 0-2 0 1 0-1 1-1 0 2 0-1 0 1 0-1 0 0 0 2 0-1 0-1 0 1 1-2 0 2 0 2 0-3 0 1 0-2 0 1 0 1 0-2 0 0 0 2 1-1 0 1 0 0 0-2 0 0 0 0 0 2 0-2 0 0 0 1 0 0 1 0 0-1 0 2 0-2 0 1 0 0 0-1 0 2 0 0 0 0 1 1 0 0 0-1 0 0 0-1 0-1 0 2 0-1 0 0 0 0 0 1 1-1 0 2 0-1 0-1 0 1 0 0 0-2 0 1 0 0 0 0 0 0 1 0 0 1 0 0 0-2 0 2 0-1 0 0 0 0 0 2 0-2 1 0 0 1 0-1 0 1 0 0 0 1 0-2 0 0 0 1 0 1 0-1 1 0 0 0 0-1 0-1 0 3 0-1 0-3 0 3 0-1 0-1 0 1 1 1 0-1 0 0 0 0 0 0 0 1 0-2 0 0 0 1 0-1 1 1 0 0 0 1 0-1 0 1 0-1 0 1 0-1 0-1 0 1 0 0 1 0 0 1 0 0 0 1 0-2 0 0 0 1 0 1 0-2 0 1 0-1 1 0 0 1 0 0 0 0 0-1 0 0 0-1 0 2 0-2 0 1 1 1 0-1 0 1 0-1 0 3 0-4 0 1 0 0 0 3 0-3 0 1 1 0 0-2 0 2 0 0 0 1 0 0 0-1 0 0 0-1 0 0 0 0 1 1 0-1 0 1 0 0 0 1 0-2 0 0 0 1 0 0 0 0 1 1 0-2 0 1 0 1 0 0 0-3 0 1 0 2 0-1 0 0 0 0 1 1 0-1 0-1 0 1 0 1 0-1 0-2 0 0 0 2 0-2 0 2 1-1 0 1 0-1 0-2 0 4 0-2 0 0 0 2 0-1 0 0 1-1 0 1 0 0 0-1 0 1 0 0 0-1 0 0 0 1 0-1 0 1 1 0 0-1 0-2 0 3 0 0 0-1 0 0 0 1 0-2 0 3 0-1 1 1 0-2 0 1 0 0 0-2 0 1 0 1 0-1 0 0 0 1 1 1 0-2 0 0 0 0 0 1 0-2 0 2 0 0 0 0 0 0 0 0 1 1 0-1 0-1 0 2 0-1 0-1 0 0 0 1 0-2 0 2 0 0 1 1 0-2 0 0 0 0 0 1 0 0 0 0 0 0 0-1 0 1 1 0 0 0 0 0 0-2 0 1 0 0 0 0 0 0 0 1 0 0 0 1 1-2 0-1 0 2 0-1 0 0 0 1 0-1 0-1 0 2 0-2 1 2 0-2 0 0 0 2 0 0 0-1 0-1 0 2 0 0 0 0 0-1 1-1 0 1 0 2 0-2 0 0 0 0 0 1 0 0 0-1 0 2 0-1 1 0 0-1 0-1 0 2 0-1 0 1 0-2 0 3 0-1 0 0 1-1 0 1 0 0 0 0 0 0 0-2 0 2 0 0 0-1 0 1 0 0 1 0 0-1 0 0 0 1 0 0 0-1 0 1 0-2 0 2 0-1 0 1 1 1 0-2 0 1 0-2 0 2 0 1 0-3 0 1 0-2 0 3 1 1 0-2 0 1 0 1 0-2 0 1 0-1 0 0 0 1 0 0 0 0 1 0 0-1 0 1 0 0 0 0 0-2 0 1 0 0 0 2 0-1 0 1 1-2 0-1 0 1 0 1 0-1 0 1 0 1 0-2 0 1 0-2 1 1 0 0 0 0 0-1 0 1 0 1 0 0 0 0 0-1 0 2 0-1 1-1 0 1 0-1 0 1 0 0 0 0 0 1 0 1 0-2 0 0 0 0 1 0 0 0 0-1 0 1 0 2 0-2 0 1 0-1 0 1 0-1 1-1 0 0 0 1 0 1 0-2 0 0 0-1 0 2 0-1 0 0 0 0 1 0 0 1 0-1 0 1 0-1 0 0 0 1 0 0 0-1 0 1 0-1 1 1 0-1 0 0 0 1 0-1 0 1 0 0 0-1 0 0 0 1 1 2 0-2 0 0 0 0 0 0 0 1 0-2 0 0 0 2 0-2 0 0 1 1 0 0 0 1 0 1 0-4 0 1 0 0 0 1 0-1 0 1 0 0 1 0 0-1 0 1 0-1 0 0 0 0 0 1 0-2 0 2 0 1 1-1 0-1 0 1 0 1 0-1 0-1 0 1 0-1 0 0 0 1 0-1 1 0 0 2 0-1 0 1 0-3 0 0 0 1 0 1 0-2 0 2 0-1 1 0 0 1 0-1 0 0 0 0 0 0 0 2 0-2 0 0 0 0 1 1 0 0 0 0 0-1 0 2 0-1 0-2 0 0 0 1 0 0 0-1 1 1 0 1 0 1 0-1 0 0 0 1 0 1 0-1 0-1 0 0 0-1 1 1 0 1 0-1 0-1 0 1 0 0 0-1 0-1 0 2 0-1 1 2 0-2 0 1 0-1 0 2 0 0 0-1 0 1 0-2 0 1 0-1 1 1 0-1 0 1 0-2 0 1 0 2 0-3 0 1 0 0 0-2 0 3 1-1 0 2 0-3 0 2 0 1 0-3 0 2 0 0 0 0 0 1 1-1 0-1 0 0 0 1 0 1 0-1 0 0 0 0 0 0 0 0 0 1 1 0 0-2 0 0 0 1 0 0 0 0 0 1 0-2 0 1 0 0 0 1 1-2 0 2 0 0 0-1 0 1 0-1 0 0 0 2 0-1 0-1 1 0 0-1 0 0 0 2 0-1 0 1 0-1 0 0 0 0 0 0 0-1 1 1 0-2 0 0 0 1 0 0 0 1 0 0 0 1 0 1 0-4 0 3 1 0 0-2 0 1 0-2 0 2 0 1 0-2 0 0 0 1 0 0 1 0 0-1 0 1 0-1 0 3 0-1 0-1 0-1 0 0 0 0 0 0 1 1 0-1 0 1 0 0 0-1 0 2 0-1 0 0 0-1 0 0 1 1 0-1 0 1 0-1 0 1 0 0 0 0 0-1 0 0 0 1 0-1 1 1 0 1 0-3 0 1 0 1 0-1 0 0 0 0 0 1 0-2 0 2 1 0 0 0 0-1 0 1 0-1 0 0 0 3 0-1 0-2 0 0 1 1 0 1 0-1 0 0 0 0 0 1 0-2 0 0 0 1 0 0 0 0 1 1 0-1 0 0 0-1 0 1 0 0 0-1 0 1 0-1 0 1 0 0 1-2 0 2 0-61 0 60 0 0 0 2 0-1 0 1 0-2 0 2 0-2 1 1 0-2 0 2 0-1 0 0 0 1 0 0 0 0 0 0 0 0 0 0 1 0 0 0 0 2 0-3 0 0 0 0 0 0 0 1 0 1 0 0 0-1 1 0 0 1 0-1 0 1 0-2 0 2 0 0 0-2 0 1 0 0 1-1 0 2 0 0 0-1 0 0 0 0 0 0 0 1 0-2 0 1 0 0 1-1 0 0 0 1 0-2 0 2 0 0 0-1 0 1 0-1 0 0 0 2 1-2 0-1 0 2 0-1 0 0 0 2 0-1 0 1 0-2 0 0 1 0 0 1 0-1 0-1 0 2 0-1 0 1 0 0 0 2 0-2 0 1 1-2 0 1 0 0 0-2 0 1 0 0 0 1 0-1 0 0 0 0 0 1 1 0 0 0 0 0 0 0 0-1 0 1 0 0 0 0 0 1 0-1 1-1 0 2 0 0 0 0 0 0 0-2 0 1 0 1 0 0 0-1 0 0 1-1 0 1 0-2 0 2 0 1 0-2 0 2 0 1 0-2 0-1 0 1 1-1 0 2 0-2 0 1 0-1 0 1 0-1 0 1 0-1 0 2 1-1 0 0 0 1 0-2 0 0 0 1 0-1 0 2 0-1 0 0 0 0 1-3 0 4 0-1 0-2 0 1 0 1 0 1 0-1 0 0 0 0 0-1 1 0 0 1 0-1 0 1 0 0 0-2 0 2 0 0 0 0 0 1 1-2 0 3 0-2 0 2 0-2 0 0 0 0 0 0 0-1 0 0 0 1 1 0 0-1 0 1 0-1 0 1 0 1 0-2 0 0 0 1 0-1 0 2 1 0 0 0 0-1 0-1 0 0 0 1 0 1 0-1 0 0 0 1 1 0 0-2 0 1 0 1 0-3 0 1 0 1 0-1 0 1 0 0 0-2 1 1 0-1 0 1 0 1 0 0 0 0 0 1 0-2 0 0 0 1 0 1 1-1 0 0 0 0 0-1 0-1 0 2 0 0 0 0 0-1 0 0 1 2 0-1 0 1 0-2 0 1 0 0 0 1 0-1 0 0 0 0 0 0 1 0 0 0 0-1 0 1 0-1 0 1 0 0 0 0 0 0 0 0 0-1 1 2 0-2 0-1 0 2 0 0 0 0 0 0 0-1 0 2 0-3 1 4 0-4 0 1 0 1 0-1 0 1 0-1 0 1 0-2 0 3 0-1 1-1 0 1 0 1 0-1 0-1 0 1 0 0 0 0 0 0 0 0 0-1 1 1 0-1 0 1 0-1 0 1 0 0 0 1 0-2 0 2 0-2 1-1 0 1 0 2 0-1 0 0 0 0 0 0 0-1 0 2 0 0 0-1 1-1 0 0 0 1 0 0 0-1 0 2 0 0 0-1 0 0 0 0 1 0 0 0 0-1 0 2 0-2 0 1 0 1 0 1 0-2 0 1 0 0 1 0 0 1 0-3 0 2 0-1 0 0 0 0 0-1 0-1 0 2 0 0 1-1 0 1 0-1 0 0 0 1 0 1 0-3 0 2 0 1 0-2 1 1 0 0 0 1 0-2 0 0 0 0 0 1 0 0 0 0 0-2 0 3 1-2 0 1 0 0 0 0 0 0 0 0 0-1 0 0 0 3 0-1 0 0 1 0 0-2 0 3 0-2 0 0 0 1 0-2 0 2 0-3 0 3 1-1 0-1 0 2 0 0 0 0 0 0 0-1 0 1 0 0 0 0 0 0 1-2 0 1 0-1 0 0 0 1 0 0 0 0 0 0 0 0 0 0 0 0 1 0 0 1 0-2 0 0 0 2 0-1 0-2 0 3 0 0 0-3 1 1 0 0 0 0 0 0 0 1 0 1 0-3 0 2 0 1 0-3 0 2 1 0 0-1 0 2 0 0 0 0 0 1 0-3 0-1 0 2 0 0 0 1 1-1 0-1 0 2 0-1 0 0 0 0 0 0 0 0 0 0 0-2 1 1 0 1 0 1 0 0 0 0 0 1 0-1 0 0 0 0 0-1 0-1 1 0 0 1 0-1 0 1 0 1 0-2 0 2 0-1 0-1 0 2 0 0 1-1 0 1 0-2 0 1 0 0 0-1 0 1 0 1 0-1 0-1 1 0 0 0 0 0 0 0 0 1 0 0 0-1 0 1 0 1 0-1 0 0 1 1 0-1 0 1 0 1 0-2 0-1 0 1 0-1 0 1 0 1 0 0 1 1 0-1 0-1 0-2 0 3 0-1 0 0 0 0 0 2 0-1 1-1 0-1 0 1 0 0 0 1 0 0 0 0 0-2 0 2 0 2 0-4 1 0 0 1 0 1 0-1 0 0 0 1 0-2 0-1 0 1 0 2 0 0 1-1 0-1 0 0 0 1 0 1 0-1 0-1 0 0 0 1 0 1 1-1 0 0 0 0 0 0 0-1 0 0 0 1 0 0 0 1 0-1 0-1 1 1 0 0 0 1 0-1 0 1 0 0 0 0 0 0 0-2 0 2 0 1 1-1 0 1 0-1 0-1 0 1 0-1 0 0 0 2 0-3 0 2 1-1 0-1 0 2 0-1 0 0 0 1 0 0 0 0 0-1 0 0 0 1 1-1 0 1 0-2 0 1 0 0 0 1 0-2 0 1 0 1 0 2 0-2 1 0 0-1 0 2 0-2 0 0 0 0 0-1 0 0 0 1 0 0 1 1 0-1 0 2 0-1 0-1 0 0 0 1 0-1 0 1 0-1 0 0 1 0 0 2 0-2 0 0 0-1 0 1 0 1 0-1 0 1 0 0 0-1 1 0 0 1 0 0 0-1 0-1 0 2 0-1 0 0 0 0 0 2 1-2 0 0 0-1 0 1 0 0 0 1 0 0 0-1 0 1 0-1 0 0 1 0 0-1 0-1 0 4 0-3 0 1 0 1 0-1 0 1 0-2 0 1 1 1 0 1 0-1 0-1 0 1 0-1 0-1 0 1 0 1 0-1 1-1 0 1 0-1 0 0 0 2 0 0 0 0 0-2 0 0 0 2 0-1 1 0 0-1 0 1 0-1 0 2 0 0 0-2 0 2 0-2 0 2 1-1 0 0 0 1 0-2 0 1 0 0 0-1 0 0 0 1 0 0 0-1 1 2 0 0 0 0 0-1 0 0 0 1 0-1 0-1 0 0 0 2 0 0 1-2 0 1 0 1 0 0 0-1 0 0 0 1 0 1 0-1 0 0 1 1 0-3 0 2 0 1 0-1 0-1 0 0 0 0 0-1 0 1 0-1 1 1 0 0 0 0 0 0 0 0 0-1 0 2 0-1 0 1 0-1 0 0 1 0 0 0 0 0 0 0 0 0 0 0 0 0 0 0 0 0 0 1 1-1 0 0 0 0 0 0 0 1 0-1 0 0 0 0 0 1 0-1 0 0 1 0 0-1 0 2 0 1 0-2 0 1 0-1 0 2 0-2 0 1 0 0 1 0 0 0 0-1 0 0 0 1 0-1 0 2 0-1 0-1 0-1 1 2 0 1 0-1 0 0 0 0 0-1 0 0 0 1 0 0 0-1 0-1 1 2 0 0 0-1 0 1 0-1 0 0 0 0 0 0 0 1 0 0 0 0 1-1 0 0 0 0 0-1 0 1 0 1 0 0 0-1 0 1 0-2 1 2 0-1 0 0 0 1 0-1 0 2 0-2 0 0 0 1 0-2 0 1 1-1 0 3 0-2 0 0 0-1 0 3 0-3 0 0 0 1 0-1 0 0 1 1 0 1 0 0 0-2 0 1 0 1 0 0 0-1 0 0 0 0 1 1 0-1 0 2 0-2 0 1 0 0 0 2 0-1 0-3 0 2 0-2 1 3 0-2 0-1 0 1 0 0 0 2 0-2 0 1 0-1 0 0 0-1 1 1 0 0 0 0 0 0 0 0 0 0 0 1 0-1 0 0 0 0 1 0 0 0 0-1 0 2 0 0 0 0 0 0 0-2 0 1 0 0 0 0 1 1 0 0 0-2 0 1 0 1 0-1 0 1 0-2 0 1 0 0 0-1 1 2 0 0 0 0 0-1 0 0 0 0 0 1 0 0 0 1 0-2 1 1 0-1 0 0 0 0 0 0 0 0 0 1 0 0 0-1 0 0 0 0 1 0 0 1 0-1 0-1 0 1 0 1 0 1 0-1 0-2 0 1 0 0 1 0 0 0 0 2 0-3 0 1 0 0 0 0 0 0 0 1 0-1 1 1 0-1 0 1 0-2 0 1 0 0 0 1 0-1 0 0 0 0 0 2 1-3 0 2 0-1 0 2 0-1 0-1 0 1 0 0 0-1 0-1 0 0 1 1 0 0 0 0 0 1 0 0 0 1 0-2 0-1 0 2 0 0 1-2 0 2 0 1 0-1 0 1 0-3 0 2 0-2 0 0 0 0 0 2 1 0 0 1 0-2 0-1 0 2 0-1 0-1 0 2 0 0 0-1 0 1 1 0 0-1 0 0 0 1 0 1 0-2 0 1 0 0 0 0 0-1 1 0 0 1 0-1 0-2 0 3 0-1 0 0 0 2 0-1 0-2 0 1 1-1 0 2 0-3 0 3 0-1 0 0 0 1 0 1 0-3 0 1 0 0 1 0 0 0 0 1 0 0 0-1 0-1 0 2 0 1 0-1 0 0 1 0 0-2 0 2 0 0 0-1 0 1 0-1 0 0 0 0 0-1 0 1 1 2 0 0 0-2 0 1 0 1 0-2 0 0 0-1 0 3 0-2 1 0 0 0 0 0 0 3 0-1 0 0 0-3 0 2 0-1 0 0 0 1 1 1 0 0 0-2 0 4 0-2 0-2 0 0 0 0 0 1 0-1 0 0 1 1 0-1 0 1 0-1 0 0 0 2 0-1 0 0 0 0 0 1 1-1 0 1 0-2 0 2 0-1 0-1 0 0 0-1 0 1 0 1 0-1 1 2 0-3 0 1 0 0 0 0 0 1 0 0 0 1 0-2 0 0 0 0 1-1 0 1 0 1 0 0 0-1 0 0 0-1 0 0 0 1 0 1 1 0 0-1 0 1 0-2 0 1 0 1 0-1 0 1 0-1 0 0 0 1 1-1 0 0 0 1 0-1 0 1 0 1 0 0 0-2 0 2 0-3 0 0 1 2 0-1 0 0 0 0 0 0 0 0 0 0 0 0 0 0 0 1 1 0 0 0 0-1 0 0 0 0 0 0 0 1 0-1 0 1 0 0 0-1 1 1 0-1 0 0 0 1 0 0 0-1 0 1 0 0 0 0 0-1 0 1 1-2 0 3 0-4 0 2 0 0 0 1 0 0 0 0 0-2 0 3 1-1 0-2 0 2 0-2 0 1 0 1 0 0 0-2 0 1 0 1 0 0 1 0 0-2 0 2 0 0 0-1 0 2 0-2 0 1 0-1 0 1 0 0 1-1 0 1 0 0 0-1 0-1 0 2 0-1 0 1 0-1 0 2 1-1 0 1 0 0 0-1 0-1 0-1 0 2 0 0 0 0 0 1 0-2 1 0 0 1 0-1 0 0 0 1 0-1 0 1 0-1 0 0 0 0 0 1 1-1 0 1 0-2 0 2 0 0 0 0 0 0 0-1 0 1 0 0 1 0 0 0 0 0 0 0 0-2 0 1 0 0 0 2 0-1 0 0 0-1 1 0 0 1 0-1 0 1 0-1 0 0 0 0 0 0 0 0 0 2 0-1 1 0 0-1 0 1 0-1 0 0 0 0 0-1 0 2 0-1 0 1 1-1 0-1 0 1 0 0 0 2 0-2 0 0 0 1 0-1 0 1 0 0 1-1 0 2 0 0 0-1 0 1 0-1 0-1 0 0 0 0 0 1 0 0 1 1 0 0 0-1 0 0 0 1 0-1 0-2 0 1 0 1 0 0 1 0 0 0 0-2 0 3 0-1 0 0 0-2 0 2 0-1 0-1 0 2 1 0 0-1 0 0 0 1 0 0 0 0 0 0 0-2 0 2 0-1 0 1 1-1 0 0 0 2 0-1 0 0 0 0 0 1 0-4 0 3 0 0 1 1 0-1 0 0 0 0 0 0 0-1 0 1 0 1 0-1 0-2 0 2 1-1 0 1 0-1 0 1 0 0 0 0 0-1 0 1 0 1 0-2 0 1 1-1 0 0 0 1 0 0 0 0 0-1 0 1 0-1 0-2 0 4 1-1 0-1 0 2 0-1 0-2 0 2 0 2 0-2 0 0 0-2 0 0 1 0 0 3 0-1 0-2 0 2 0-2 0 0 0 2 0-1 0 1 1 0 0 1 0-2 0 0 0 0 0 3 0-1 0 0 0-1 0 0 0 1 1-1 0-2 0 0 0 4 0-3 0 0 0 1 0 1 0-2 0 1 0 0 1-1 0 1 0 1 0-1 0 0 0 0 0 0 0-1 0 0 0 1 1-2 0 1 0 1 0 1 0-1 0-1 0-1 0 2 0 0 0 0 0 0 1-1 0 0 0 1 0-1 0-1 0 1 0 0 0 2 0 1 0-2 0-1 1 1 0 0 0-1 0-2 0 3 0-1 0 1 0-1 0 0 0 1 1-2 0 1 0 1 0 0 0-2 0 2 0 1 0-1 0 0 0 0 0 0 1-1 0 2 0-1 0-2 0 2 0 0 0 0 0-1 0 1 0-3 0 4 1-1 0-2 0 0 0 4 0-2 0-1 0 1 0-1 0 1 0 0 1 0 0-1 0 1 0 0 0-1 0 2 0-1 0-1 0 2 0-1 0 1 1-2 0 0 0 1 0-1 0 1 0-2 0 3 0-1 0 1 0 0 0-1 1 1 0-3 0 1 0 0 0 1 0-1 0 1 0 1 0-1 0 0 1-2 0 1 0 1 0-1 0 1 0-1 0 1 0-1 0 1 0 1 0-1 1 2 0-2 0 0 0-1 0 2 0-1 0 0 0 1 0-2 0 1 0 0 1-1 0 0 0 2 0-2 0 0 0 0 0 0 0 0 0 1 0-1 1-1 0 2 0 0 0 1 0-2 0 0 0 2 0-1 0-1 0 0 0 1 1 0 0-1 0 0 0 0 0 2 0-3 0 1 0 2 0-3 0 1 0 1 1-1 0 0 0 0 0 1 0-1 0 0 0 1 0 0 0 1 0-2 1 1 0-1 0 2 0 0 0-2 0-1 0 3 0-3 0 0 0 1 0 2 1 0 0-1 0 0 0 0 0 1 0-2 0 2 0-1 0-1 0-1 0 3 1-1 0-1 0 0 0 0 0 0 0 1 0 0 0 0 0-1 0 2 1-2 0 0 0 1 0-1 0 1 0 0 0 1 0-2 0-1 0 3 0-1 1 1 0-1 0-1 0 1 0-1 0 0 0 1 0 0 0-2 0 2 0 0 1 1 0-2 0 1 0-1 0 0 0 2 0-1 0 0 0 1 0 0 1-2 0 0 0 1 0 0 0-1 0 1 0-1 0 1 0 0 0 0 0 0 1 0 0 0 0-1 0 1 0 0 0-1 0 3 0-2 0 0 0 0 0 0 1 0 0-1 0 1 0 1 0 0 0-1 0 0 0-1 0 1 0 1 1 1 0-2 0-1 0 0 0 1 0 1 0-2 0 0 0-1 0 3 0-2 1 1 0 0 0-2 0 1 0 2 0-1 0 0 0 1 0-1 0 0 0 0 1 0 0 1 0-1 0 1 0 0 0-1 0 0 0-1 0 1 0 1 1 0 0-1 0 0 0 0 0 0 0 0 0 2 0-4 0 1 0 2 0-1 1 0 0 0 0 0 0 0 0-1 0 1 0 1 0 0 0-1 0 0 0 0 1-1 0 1 0-1 0 0 0 1 0 0 0 0 0 0 0-1 0 1 1 0 0 0 0 0 0 0 0 1 0 0 0 1 0-2 0 1 0-2 0 2 1-1 0 0 0 1 0-1 0-1 0 2 0-1 0 1 0-2 0 0 1 0 0 0 0 2 0-1 0-1 0 1 0 0 0-1 0 1 0-1 0 2 1-1 0 0 0-3 0 3 0 0 0-1 0 1 0-1 0 2 0-2 0 1 1 1 0 0 0-1 0-1 0-1 0 2 0 0 0 0 0 0 0 2 1-1 0-1 0 0 0 0 0 0 0 0 0 0 0 0 0 0 0 0 0-1 1 3 0-2 0 0 0-1 0 1 0-1 0 2 0-1 0-1 0-1 0 3 1-2 0 1 0 0 0-2 0 2 0 1 0-2 0-1 0 0 0 2 1 0 0 1 0-1 0-1 0 1 0 0 0 0 0-1 0 1 0 1 0-1 1 0 0-1 0 1 0-1 0 0 0 2 0-1 0 0 0-1 0 1 0 1 1-1 0 0 0 1 0 1 0-2 0 1 0-1 0 0 0 0 0 1 1-1 0 0 0 0 0 0 0 0 0 1 0-1 0-1 0 2 0-2 0 2 1-3 0 2 0 2 0-2 0 1 0-1 0-1 0 1 0 1 0 0 0 0 1 0 0-1 0-2 0 1 0 2 0-2 0 1 0 0 0-1 0 1 1 0 0 0 0 0 0 0 0-1 0-1 0 4 0-3 0 1 0 0 0 0 1-1 0 1 0 0 0 0 0 0 0 0 0-1 0 1 0 1 0 0 0 0 1-2 0 2 0-1 0 1 0 0" fill="none" stroke="none" marker-mid="url(#mx)"/>
<path d="M129.5 532.5l0 0 0 37 0-36 0 20 0 23 0 5 1-5 0-19 0-10 0 11 0-17 0 6 0 19 0 14 0-190 0 187 0 2 1-51 0 15 0 27 0 9 0-7 0 9 0-26 0 21 0-42 0 36 0-40 1 6 0 14 0 9 0 6 0-10 0 14 0-10 0 18 0-11 0 6 0-7 1-45 0 17 0 14 0 22 0-23 0-20 0 8 0 11 0 13 0-2 0-10 1 12 0-17 0 14 0-22 0 8 0-17 0 9 0 5 0-6 0-3 0 6 1-1 0 1 0-2 0-5 0 5 0-1 0-3 0 2 0 3 0 0 0-4 1-1 0 2 0 0 0 2 0 9 0-9 0-7 0 15 0-7 0-2 1 4 0-4 0 10 0-8 0 0 0-2 0 4 0-3 0-1 0 1 0-3 1 8 0 2 0-10 0 2 0 4 0-7 0 2 0 5 0-1 0 1 0-10 1 13 0-4 0-1 0 9 0-4 0-11 0 15 0-11 0 2 0-5 1 12 0-7 0 3 0 2 0-4 0-9 0 16 0-9 0-5 0 5 0 0 1 0 0 1 0 3 0 6 0-4 0-3 0 9 0-10 0 11 0-11 0-8 1 14 0-7 0 0 0 0 0 1 0 3 0-3 0-6 0 8 0 0 1-3 0 3 0 1 0-11 0-1 0 5 0 8 0-11 0 12 0-8 0 5 1-4 0-1 0 1 0-2 0-1 0 1 0 2 0 0 0-5 0 4 0 1 1-33 0 38 0-1 0-2 0 1 0-7 0 4 0 5 0-1 0 5 0 3 1-2 0-11 0 0 0 1 0 8 0-5 0-2 0-4 0 5 0-1 0 7 1 5 0-17 0-1 0 11 0-1 0-6 0 4 0 1 0-7 0 8 0-5 1 3 0 5 0-10 0 8 0 0 0 3 0-11 0 6 0-9 0 7 1 6 0 3 0-6 0-8 0-2 0 9 0-5 0 5 0-2 0 0 0 8 1-14 0 5 0 5 0 3 0-12 0-1 0 4 0-6 0 2 0 12 0-10 1-2 0 4 0 2 0-4 0 4 0 4 0-1 0-4 0 6 0 2 1-5 0-11 0 13 0-6 0 6 0-7 0 0 0 0 0 0 0 11 0-11 1 1 0 2 0-6 0 3 0-2 0 9 0-11 0 6 0 1 0 5 0-2 1-2 0-6 0-168 0 184 0-5 0-4 0-9 0 4 0-3 0 0 0 2 1-4 0 1 0 4 0 1 0-8 0 8 0 8 0-8 0-2 0 0 0 13 1-6 0 0 0-1 0-3 0 9 0-10 0-9 0 13 0 1 0-2 0 1 1 0 0-1 0 8 0-2 0-4 0-2 0-3 0-3 0-1 0 0 1 5 0-1 0 5 0-3 0-10 0 2 0 5 0 14 0-13 0 4 0-1 1-4 0 6 0-13 0 5 0-3 0 9 0 8 0-11 0-4 0 0 0 5 1 0 0 2 0-4 0-1 0 9 0 0 0-2 0-8 0 10 0 9 1-19 0 9 0-5 0 3 0-1 0 2 0-6 0 4 0-4 0 4 0-1 1-3 0 2 0-2 0 4 0 0 0 0 0-12 0 10 0-2 0 0 0 7 1-1 0-3 0 6 0 0 0-5 0 3 0 4 0-13 0-1 0 1 1 3 0 2 0 6 0-9 0 10 0-1 0 0 0-6 0-4 0 10 0-4 1-3 0 5 0-2 0-5 0 5 0-1 0-2 0 3 0-6 0 4 1-2 0 6 0-3 0-2 0 5 0-7 0 0 0 8 0-9 0 11 0-2 4-134 0-4 0 32 0-23 0-7 0-3 1-2 0 51 0-32 0-6 0-24 0 18 0 16 0-62 0 43 0-2 1-7 0 27 0-16 0 20 0 0 0-25 0 24 0-5 0-10 0 17 0-11 1-1 0-18 0 27 0-14 0 18 0-17 0 14 0-10 0 6 0-32 0 24 1-3 0 0 0-10 0-9 0 29 0-8 0 2 0 10 0-19 0 23 1-8 0-4 0-2 0 19 0-15 0 2 0-19 0 17 0-18 0 4 0 13 1-8 0-18 0 9 0 5 0 14 0-13 0 18 0-9 0-20 0 36 0-20 1-7 0 0 0 8 0-5 0 8 0 6 0-7 0-10 0 20 0-15 1 8 0-44 0 52 0-20 0 17 0-24 0 12 0 18 0-2 0-10 0 5 1-33 0 16 0 6 0-22 0 17 0 9 0 8 0-14 0 27 0 24 0-48 1 9 0 4 0 4 0-41 0 32 0-57 0 41 0-6 0 0 0 10 0 9 1-12 0-20 0 17 0 24 0-25 0 18 0 7 0-21 0-1 0-10 0 33 1-7 0-8 0 3 0-10 0 5 0 20 0-11 0 3 0-2 0-14 0 10 1-17 0-14 0 26 0-8 0 1 0-9 0 12 0 1 0-7 0-4 1-1 0 3 0 20 0-20 0 20 0-24 0 2 0 47 0-50 0 27 0-20 1 14 0 2 0 4 0-12 0-5 0 35 0-21 0 0 0-16 0-11 0 27 1 10 0-24 0-6 0 24 0-18 0 12 0-17 0 12 0-9 0 4 1-4 0 12 0-7 0 7 0-9 0 13 0-15 0 4 0 16 0-10 0-15 1 7 0-3 0 21 0-12 0 0 0-18 0 28 0 0 0 4 0-27 0 27 1-25 0-16 0 29 0 13 0-31 0 17 0 8 0 13 0-24 0 8 1 10 0-20 0-48 0 49 0 4 0 15 0-19 0 6 0-7 0 7 0 18 0-12 1-2 0-13 0 0 0 17 0 4 0-27 0 8 0-3 0 4 0 14 0-23 1 25 0 5 0-41 0 25 0-4 0-9 0 34 0-5 0-26 0 3 1 8 0 13 0-2 0-33 0 7 0-5 0 17 0 8 0 3 0 7 0-17 1-1 0 15 0-15 0 11 0-36 0 41 0-11 0 1 0 6 0-10 0-18 1 12 0 25 0-21 0 1 0-5 0 3 0-5 0-5 0 12 0-7 1-6 0 26 0-15 0 6 0 15 0 1 0-25 0 10 0-5 0-12 0 15 1-9 0-2 0 8 0 3 0 9 0-13 0 13 0-16 0 0 0 13 0-23 1 20 0 8 0-20 0-1 0 8 0 5 0-11 0 1 0-13 0 20 1 6 0 1 0-11 0 7 0 11 0-2 0-13 0-1 0 9 0-5 0-17 1 24 0-11 0 13 0-18 0 19 0-10 0-10 0-2 0 28 0-14 1 5 0-16 0 3 0-2 0 7 0-5 0 6 0-21 0 42 0-37 0 62 1-46 0 11 0-14 0 12 0-4 0-21 0 2 0-3 0 23 0-12 0 3 1 1 0-3 0 1 0-28 0 17 0 20 0-6 0-3 0 8 0-2 1 2 0 7 0-38 0 28 0-30 0 41 0-7 0-47 0 37 0 1 0 14 0-18 1 3 0 10 0-35 0 27 0 8 0 0 0-3 0-24 0 32 0-25 0-18 1 34 0-4 0 3 0 3 0 11 0-7 0-26 0 21 0-1 0-6 1 2 0-2 0 10 0-18 0-17 0 25 0-8 0 6 0 4 0-19 0 20 1-14 0 1 0 4 0-3 0 16 0-17 0 10 0 0 0-2 0 12 0 4 1-5 0 15 0-22 0 14 0-4 0-19 0 23 0-23 0-2 0-2 1 18 0-19 0 24 0-24 0 10 0 4 0-5 0-3 0 16 0 2 0-10 1-19 0 31 0-16 0-3 0 9 0-24 0 33 0-23 0 18 0-4 0-10 1 16 0-3 0-7 0 4 0 2 0-10 0-4 0 10 0-18 0 7 1 19 0 0 0-9 0 12 0-12 0-6 0 18 0-10 0 1 0-3 0 28 1-19 0 4 0-12 0 8 0-14 0 4 0 2 0 1 0 20 0-27 0 18 1-7 0-1 0 21 0-32 0-10 0 36 0-9 0-25 0 24 0-18 1 10 0 16 0-25 0 8 0 17 0-15 0-4 0 20 0-4 0 1 0 29 1-60 0 1 0-25 0 37 0-12 0 8 0-5 0 22 0 4 0-18 0 45 0-19 1-32 0 9 0 1 0 9 0 4 0-52 0 45 0-1 0 5 0-15 1 9 0-11 0 10 0-3 0 5 0-22 0-1 0 40 0-16 0-12 0 18 1 15 0-11 0-25 0 4 0-13 0 3 0 29 0 15 0-25 0-17 0-11 1 29 0-3 0-1 0 2 0 21 0-28 0 10 0 1 0 13 0-18 1-1 0 9 0-7 0-12 0 11 0-4 0-5 0-26 0 22 0 8 0 14 1 5 0-61 0 49 0-3 0 3 0 5 0-16 0-20 0 34 0-7 0 10 1-3 0-8 0 11 0-10 0 7 0-14 0 14 0 1 0-13 0 8 1 18 0-23 0-9 0 30 0 7 0-21 0 3 0 3 0-12 0 13 0-12 1-23 0 21 0 8 0 17 0-22 0-6 0 8 0-2 0-5 0 20 0-9 1-13 0 10 0 8 0-26 0-12 0 25 0-6 0-7 0 11 0-10 1 36 0-18 0 8 0-18 0 13 0-35 0 16 0 17 0-22 0 18 0-24 1 19 0 9 0 3 0-8 0-7 0 31 0-33 0 3 0 5 0 5 0-16 1 4 0 16 0-1 0-20 0 20 0-16 0 23 0 6 0-35 0-8 1 14 0 6 0-6 0 5 0 20 0-12 0 4 0-28 0 26 0-9 0 5 1-2 0 15 0-38 0 30 0-28 0 27 0-5 0 17 0-18 0 6 1-31 0 29 0-2 0-4 0 0 0-72 0 78 0-20 0 17 0 13 0-4 0-13 1-15 0 6 0-3 0 10 0 4 0 13 0-17 0 0 0 23 0-21 0-16 1 23 0-18 0 16 0 11 0-5 0-15 0 6 0-7 0 22 0-5 1-6 0 5 0 13 0-27 0 14 0 11 0-21 0 17 0-8 0-17 0 10 1-22 0 34 0-26 0 14 0-3 0 26 0-14 0-6 0 18 0-28 0 22 1-8 0-2 0 6 0-22 0 32 0-13 0 0 0-1 0-2 0 30 1-33 0-15 0 11 0-28 0 37 0-10 0 4 0-7 0 8 0 36 0-46 1 21 0-3 0 0 0-5 0 8 0 3 0-18 0-25 0 35 0-20 0 39 1-31 0 9 0-30 0 31 0-2 0 14 0-11 0 1 0-1 0-26 1 32 0-8 0 0 0 3 0-11 0 3 0 0 0 7 0 9 0-10 0 3 1-15 0 30 0-6 0 0 0-29 0 25 0-25 0 9 0-3 0-6 0 17 1 16 0-27 0 18 0-10 0-6 0 9 0 2 0-14 0-6 0 7 1-26 0-2 0 26 0 11 0-6 0-2 0-4 0 0 0 8 0-5 0 1 1 7 0 12 0-28 0-4 0 42 0-36 0 4 0 13 0-8 0 16 0-13 1 9 0-6 0 4 0-11 0-2 0 9 0-14 0 26 0-15 0-3 1 22 0-25 0-1 0 18 0-12 0 2 0 2 0 6 0-12 0 18 0-22 1 10 0-6 0 20 0-25 0 38 0-38 0 14 0-1 0 3 0-1 0-20 1-1 0 14 0 3 0-18 0 20 0 12 0-14 0 6 0-19 0 37 1-25 0 1 0 0 0-5 0 4 0 2 0-15 0 20 0-2 0-10 0-9 1 9 0-7 0 32 0-7 0-12 0-5 0 14 0-3 0 13 0-53 0 39 1-31 0 47 0-49 0 13 0 2 0 7 0 0 0 15 0-13 0 3 1 2 0-21 0 31 0-27 0 25 0-4 0-20 0 32 0-13 0-2 0-2 1 0 0 5 0 6 0-37 0 45 0-18 0 2 0-11 0 1 0 11 0-26 1 5 0 22 0-5 0-7 0 24 0-17 0 2 0-5 0 1 0-9 1 24 0-33 0 11 0-15 0 17 0 7 0-2 0 6 0-13 0 11 0-17 1 2 0 9 0 17 0-39 0 13 0 0 0 14 0-9 0 8 0 10 0-10 1-3 0-10 0-7 0 12 0 22 0-30 0 12 0-11 0 16 0 14 1-33 0 14 0-3 0-3 0-6 0 15 0 0 0 24 0-50 0 23 0-9 1 2 0 29 0-9 0-17 0 1 0 4 0 26 0-15 0-13 0-13 0 8 1 24 0-29 0 6 0-17 0 27 0-4 0 30 0-54 0 10 0-7 1 28 0-8 0-15 0 24 0-63 0 68 0-4 0-38 0 17 0-8 0 22 1-45 0 46 0-15 0 28 0-22 0 16 0-6 0-2 0 1 0-7 0-6 0-4 1 9 0 11 0 12 0-16 0-5 0-1 0 2 0-13 0-4 0 22 1 7 0 4 0-8 0-13 0 26 0-13 0-10 0 25 0-22 0 15 0-18 1 4 0 0 0 0 0-1 0 4 0 20 0-21 0-11 0-15 0 33 1 10 0-32 0 17 0 29 0-42 0 4 0 16 0-22 0-3 0 11 0-34 1 18 0 27 0-13 0 0 0 3 0-4 0-4 0 2 0-9 0 20 0-6 1 9 0-12 0 24 0-19 0-35 0 47 0-23 0 28 0 22 0-51 1-4 0 21 0 4 0-1 0-19 0-4 0-9 0 28 0-13 0-16 0 29 1 5 0-5 0-10 0 14 0-36 0 30 0 5 0-10 0-14 0 7 0 35 1-92 0 58 0-17 0 27 0-19 0 16 0-11 0 12 0-14 0 22 0 0 1-4 0 1 0 0 0-9 0 4 0 8 0-11 0-10 0-15 0 33 0 11 1-13 0-2 0-9 0 7 0 11 0 14 0-15 0-5 0 24 0-2 0-51 1 20 0-15 0-5 0 29 0-4 0-1 0 11 0-8 0 3 0 1 1-14 0 36 0-15 0-12 0 6 0-12 0 11 0 1 0-17 0 3 0 43 1-48 0 30 0-24 0-36 0 39 0 14 0-24 0 36 0-12 0-8 0 22 0-29 1 33 0-25 0 6 0-9 0-5 0 2 0 16 0-11 0-5 0-7 1-11 0 46 0-21 0-18 0 10 0 8 0-9 0 4 0 1 0 6 0-4 1 9 0 1 0-8 0 1 0-7 0 14 0 21 0-26 0 3 0 13 0-29 1 8 0 11 0-8 0 11 0-12 0 20 0-13 0-13 0-9 0 27 1-17 0-1 0-5 0-7 0 28 0-17 0 6 0-11 0 0 0 10 0-3 1 16 0-4 0-2 0 10 0-13 0-11 0 19 0 9 0-23 0 19 0-9 1-7 0-18 0 11 0-2 0 20 0-25 0 31 0-4 0-16 0-2 1-9 0 15 0-4 0 1 0-3 0 4 0 20 0-20 0-8 0-6 0 19 1-17 0 14 0-1 0-8 0-14 0 20 0-23 0 39 0-29 0 8 0 4 1-9 0 22 0-20 0 11 0 4 0 10 0-6 0 7 0-8 0-31 1 30 0-12 0 8 0-3 0 13 0-34 0 27 0-9 0-21 0 20 0 6 1-4 0 1 0-7 0 10 0-4 0-12 0 32 0-35 0 29 0-21 0-32 1 46 0-16 0-6 0 7 0 27 0-36 0 37 0-8 0 0 0-6 1-15 0 5 0 10 0 5 0-1 0-9 0-5 0 50 0-58 0 14 0-14 1 27 0-19 0 12 0 11 0-48 0 17 0-12 0 8 0 0 0 6 0 25 1-16 0 6 0 13 0-16 0-4 0 16 0-10 0-15 0-14 0 17 1 8 0-9 0 16 0 13 0-9 0-40 0 24 0-6 0 22 0 0 0-10 1-2 0-3 0-16 0-139 0 159 0-10 0 7 0 25 0-24 0 12 0-8 0-15 1 22 0-12 0 10 0-6 0 13 0-6 0-7 0-12 0 37 0-26 1-16 0 18 0-4 0-11 0 10 0-6 0 22 0 14 0-33 0 9 0 8 1-25 0 8 0-1 0 25 0-10 0-17 0 11 0 0 0 0 0-34 0 32 1 4 0 4 0-5 0-11 0 5 0 14 0 23 0-42 0 22 0 0 1-14 0-35 0 42 0-12 0-1 0 13 0-16 0-2 0 23 0 1 0 8 1-14 0-4 0 6 0 6 0 6 0-7 0-1 0-15 0 18 0 8 1 13 0-33 0-22 0 7 0 17 0-16 0 4 0 30 0-38 0-8 0 19 1 5 0 40 0-35 0 2 0-2 0-30 0 4 0 4 0 15 0-17 0 28 1-9 0 6 0 1 0-7 0-20 0 9 0 12 0-19 0 14 0-12 1 20 0 0 0-4 0 7 0 3 0-11 0 3 0 13 0-11 0-4 0-3 1-3 0-3 0 14 0-4 0-7 0 17 0 2 0-13 0-11 0 14 0-4 1 7 0-6 0 11 0-25 0 13 0-3 0 7 0-12 0-7 0-1 1 16 0 20 0-1 0-24 0 5 0 4 0-33 0 37 0 8 0-18 0-19 1 4 0 27 0-16 0 4 0 9 0-7 0-4 0 0 0-17 0 35 0 1 1-20 0 12 0-22 0 22 0-7 0-6 0-4 0 22 0-12 0 10 1-19 0 40 0-26 0-19 0 30 0-29 0 27 0-2 0 10 0-25 0-14 1 23 0 10 0-12 0-2 0 18 0-7 0-27 0 19 0-18 0 9 0-16 1 10 0-3 0-8 0 20 0 4 0-9 0-11 0 35 0-20 0-3 1-1 0 23 0-30 0 13 0-15 0 26 0-27 0 4 0 18 0-2 0 5 1-2 0 14 0-31 0 15 0 3 0-4 0 12 0-5 0-6 0 10 0-21 1 8 0-9 0 21 0-23 0-1 0 14 0-3 0-14 0 13 0 14 1-14 0-15 0 12 0-10 0 2 0 20 0-4 0 10 0-25 0 7 0-10 1 23 0-21 0-1 0-2 0 20 0-1 0-4 0 13 0-13 0-10 0 33 1-34 0 3 0 21 0-13 0 2 0-21 0 10 0-2 0 15 0-8 1 8 0-13 0 5 0 7 0-18 0 3 0 23 0-19 0 47 0-31 0-1 1-10 0 6 0-3 0-17 0 10 0 2 0 19 0-18 0-25 0 30 0-5 1 12 0-6 0-26 0 5 0 10 0-9 0 15 0-7 0 6 0 9 1-10 0-2 0 15 0 1 0-4 0-24 0 19 0-4 0 14 0-40 0 28 1 1 0 5 0-10 0 0 0 5 0-18 0 19 0-20 0 9 0 19 0-5 1 0 0 8 0-20 0 14 0-15 0 1 0 24 0-25 0 20 0-7 1 14 0-27 0 21 0-19 0 3 0 16 0 6 0-14 0 12 0-10 0-7 1 12 0-25 0 0 0-18 0 35 0-13 0 5 0 5 0-1 0 8 0-8 1 15 0-34 0 30 0 1 0-62 0 46 0 22 0-20 0 28 0-5 0-15 1-5 0 10 0-7 0-3 0 4 0-12 0 6 0-8 0 33 0-21 0 5 1-9 0-5 0 25 0-4 0-19 0-3 0 9 0 3 0-10 0 17 0-9 1-13 0 9 0 3 0 0 0-7 0 13 0-24 0 22 0-7 0-10 1 3 0-10 0-10 0 10 0 20 0-4 0-12 0 6 0-6 0 23 0-20 1 11 0 4 0 2 0 12 0-22 0-16 0 25 0 1 0-27 0 19 0 5 1-8 0 4 0-25 0 14 0-2 0 31 0-18 0-4 0-6 0 12 1-1 0-4 0-10 0 2 0-6 0-3 0 24 0-11 0 12 0-7 0-1 1-1 0 4 0 21 0-14 0-15 0 22 0-19 0-10 0-8 0 3 1 27 0 6 0-25 0 9 0-13 0 14 0 12 0-6 0-9 0-6 0 12 1 3 0-9 0 2 0 12 0-8 0-16 0 28 0-15 0-20 0 42 0-4 1-15 0-8 0-13 0 14 0-18 0 30 0 0 0-30 0 43 0-10 1 18 0-21 0 8 0-10 0-16 0 13 0-24 0 12 0 10 0-12 0-3 1 23 0-10 0 1 0 5 0-28 0 26 0-12 0 15 0-1 0-3 0 17 1-15 0-5 0 4 0 2 0 11 0 9 0-20 0-7 0 1 0 1 1 16 0-21 0-8 0-16 0 28 0 2 0-6 0 4 0 2 0-9 0 9 1-11 0 6 0 32 0-21 0-4 0-3 0 2 0 14 0-24 0 10 0-4 1 16 0-6 0-14 0-14 0 29 0 7 0-21 0 22 0-32 0 1 1-5 0 27 0-12 0 17 0-44 0 39 0-6 0 17 0-12 0-32 0 45 1-18 0 13 0-24 0 15 0 6 0 8 0-10 0-22 0 10 0-8 0 15 1-35 0 50 0-34 0 24 0-20 0 37 0-5 0-40 0 0 0 23 1-22 0 15 0 13 0-21 0-32 0 37 0 1 0 6 0 10 0-4 0-22 0 2 1 16 0 12 0-21 0-3 0 6 0-1 0 7 0-5 0 5 0-11 0 19 1-2 0-2 0-6 0-8 0-6 0 17 0-6 0-1 0 20 0-20 1 20 0 6 0-8 0-17 0 8 0-8 0 7 0 0 0-19 0 14 0 4 1 9 0-6 0-4 0-5 0 16 0-19 0-73 0 69 0 11 0-3 0-12 0 22 1 5 0-10 0-2 0 2 0 8 0-21 0 12 0 12 0-23 0 18 1-51 0 53 0 9 0-10 0-4 0-16 0 0 0-1 0 18 0-8 0 14 1-15 0 11 0-4 0-5 0-5 0 14 0-50 0 69 0-33 0 11 0 17 1-37 0 4 0 22 0-26 0 13 0-1 0 6 0-6 0 10 0-21 1 13 0-15 0 22 0-27 0 25 0-12 0 24 0-13 0 4 0-14 0 10 1 7 0-4 0 25 0-31 0 22 0-38 0 10 0 4 0-2 0 10 0-11 1-10 0 10 0-10 0 14 0 0 0-41 0 56 0-25 0 8 0 4 1-4 0 13 0 3 0-46 0 57 0-31 0 8 0-4 0-15 0 15 0 2 1 1 0 10 0-1 0-18 0 23 0-8 0-18 0 17 0 4 0-12 0 2 1-28 0 6 0 17 0 2 0 13 0-35 0 15 0 8 0-11 0-1 1 32 0-18 0 16 0-29 0 22 0 1 0 12 0-21 0 14 0-3 0-12 1-15 0-13 0 20 0 4 0 11 0 4 0-24 0 17 0 1 0 3 0-29 1 5 0 23 0-10 0-10 0 29 0-25 0-9 0 9 0 25 0-19 1 12 0-4 0 30 0-44 0 13 0-1 0-6 0 5 0-22 0 24 0-20 1 27 0-13 0-17 0 13 0 13 0-17 0-15 0 21 0 3 0-1 0 3 1 12 0-2 0 1 0-15 0 23 0-39 0 2 0-4 0 17 0 5 1-14 0 12 0 15 0-10 0-1 0 8 0 4 0-25 0 7 0-17 0 9 1 0 0 4 0-14 0 14 0 6 0-14 0 7 0 15 0-1 0-18 1 4 0 4 0 9 0 4 0-16 0 1 0 7 0-9 0 10 0-20 0 7 1 28 0-18 0-13 0 24 0-11 0-1 0 2 0 22 0-28 0-6 0 17 1 2 0-19 0 6 0 22 0-9 0 9 0-20 0 4 0-14 0-13 1 36 0-23 0 12 0-9 0 9 0-32 0 53 0-20 0-8 0 7 0-29 1 35 0-15 0 21 0-26 0 30 0-61 0 36 0 21 0-5 0-13 0 16 1-20 0 21 0 7 0 1 0-38 0 36 0-1 0-12 0 0 0 4 1-13 0 2 0 10 0 4 0-10 0-32 0 38 0-30 0 38 0-6 0-19 1 21 0 0 0-16 0-12 0 30 0-10 0-8 0 21 0-23 0 21 0 6 1-27 0 1 0 16 0-8 0-22 0 34 0-18 0 19 0-30 0 20 1 1 0 1 0-22 0-2 0 26 0 4 0-10 0 4 0-14 0-11 0 34 1 3 0 5 0-18 0-21 0-15 0 36 0 9 0-5 0 0 0-21 0 27 1 3 0 14 0-15 0 3 0-52 0 12 0 6 0 26 0-10 0-12 1 1 0 17 0-26 0 25 0 0 0 19 0-24 0-50 0 28 0 38 0-14 0-3 1-7 0 13 0-18 0 8 0-1 0 20 0-6 0-23 0 15 0-6 0 8 1 4 0-9 0 17 0-8 0-18 0 12 0-13 0-6 0 2 0 3 1 1 0 18 0-2 0-17 0 2 0 14 0 3 0 10 0-13 0 3 0-24 1 14 0 10 0-14 0-1 0 35 0-14 0-34 0 34 0-9 0-11 0 6 1-1 0 14 0-14 0 1 0-12 0 0 0 11 0 1 0 8 0 3 1-7 0-21 0 25 0-24 0 20 0 4 0 10 0-21 0 6 0-2 0-17 1 28 0-16 0 14 0-23 0 20 0 3 0-8 0 25 0-22 0 7 0-33 1 32 0-28 0 6 0 3 0 4 0 26 0-23 0 4 0-9 0 6 1-19 0 24 0 0 0-21 0-7 0 15 0 10 0-13 0-9 0 26 0-25 1 28 0 6 0-37 0 30 0 0 0 0 0 10 0 3 0-15 0 0 0-4 1-3 0 18 0-4 0-8 0-120 0 66 0 83 0-12 0-3 0-52 0 41 0 19 1 4 0-18 0-14 0 2 0 5 0-2 0 13 0-2 0-42 0 35 0 4 1-20 0-5 0 17 0-1 0 29 0-27 0 11 0 5 0-2 0-63 0 42 0 8 1-9 0-3 0 22 0-27 0 1 0 1 0 13 0-2 0 7 0 1 1-44 0 18 0 17 0 9 0 1 0-23 0 5 0-21 0 37 0-28 0 30 1-10 0-9 0-9 0 39 0-51 0 16 0 30 0-27 0 19 0 10 0-1 1-6 0-5 0 10 0-9 0 3 0-9 0-2 0-12 0 33 0-14 1 19 0-41 0-9 0 24 0-7 0 8 0-5 0 2 0 6 0 15 0-7 1-18 0 9 0-1 0 22 0-58 0 29 0 14 0-12 0 20 0-21 0 9 1 10 0 11 0-6 0-19 0 17 0-23 0 7 0 17 0-30 0 31 1-27 0 21 0-7 0 5 0-2 0-20 0 16 0 8 0-11 0 12 0-33 1 16 0 24 0-14 0-1 0 3 0 19 0-31 0 18 0-10 0 0 1-17 0 34 0-12 0-10 0 3 0-5 0 19 0-28 0 10 0 5 0 3 1-11 0-1 0 26 0 4 0-29 0 5 0-1 0-3 0 22 0-41 0 11 1 9 0 10 0 4 0 1 0 0 0-23 0 14 0 7 0 8 0 0 1-16 0-2 0 11 0 3 0 19 0-27 0-3 0 10 0-25 0 27 0-15 1-1 0 7 0-14 0 7 0 32 0-47 0 23 0-13 0 32 0 1 0-44 1 27 0-1 0 6 0 3 0-7 0 4 0-16 0 29 0-14 0-20 1 10 0 1 0-12 0-8 0 11 0 27 0 3 0-16 0 13 0-29 0 13 1-5 0 18 0-26 0 11 0 0 0-4 0-8 0 21 0-20 0-46 0 60 0-19 1-1 0 5 0 2 0 21 0-20 0-1 0 3 0 12 0 6 0-18 1 4 0 17 0 2 0-14 0-2 0-26 0 16 0 25 0-19 0-17 0 18 1-3 0 14 0-8 0 3 0 16 0-22 0-6 0 11 0 2 0-16 0 20 1-26 0 8 0 16 0 19 0-27 0 13 0-12 0-9 0 6 0 12 1-1 0 12 0-14 0 11 0 2 0-29 0-1 0 11 0 15 0 2 0-22 1 2 0-6 0 1 0 37 0-27 0-13 0 3 0-10 0 36 0-16 0 26 1-16 0-21 0-4 0 0 0 27 0 39 0-55 0-1 0 3 0-12 1-17 0 24 0-8 0 14 0-3 0-4 0 13 0-21 0 28 0-4 0 2 1-18 0 8 0 13 0-9 0-22 0 23 0-10 0 2 0 1 0-16 0 9 1-4 0 2 0 15 0-1 0 4 0-11 0 2 0-2 0-6 0 23 1-14 0 5 0-2 0 17 0-29 0 6 0-9 0 5 0 15 0-10 0-38 1 30 0 13 0-2 0-6 0 12 0-9 0 2 0-53 0 61 0-1 0-25 0 15 1 18 0-12 0 9 0-16 0 13 0-9 0-2 0 6 0 8 0-19 1 6 0-9 0 7 0 3 0-2 0 3 0 13 0-24 0-14 0 42 0 4 1-36 0 9 0 15 0-11 0-5 0-4 0-9 0 41 0-23 0-18 0 25 1 5 0-9 0 3 0-21 0 22 0-9 0-2 0-4 0 12 0 29 1-34 0 3 0-2 0 1 0 20 0-9 0 13 0-3 0-38 0 39 0-21 1-17 0 2 0 13 0 17 0-5 0-7 0-12 0 8 0 5 0 3 0-11 1-17 0 6 0 21 0-7 0 9 0 4 0-21 0 14 0 14 0-36 1 8 0 20 0-16 0 7 0-4 0 1 0-1 0 15 0-10 0-3 0 5 1-8 0-7 0-4 0 20 0-13 0-4 0 19 0 7 0-7 0 0 0-20 1 36 0-1 0-25 0-2 0-23 0 17 0 20 0 9 0-23 0-6 1 10 0-6 0 5 0 9 0-37 0 28 0-28 0 39 0-21 0-19 0 35 1-6 0-8 0 25 0-23 0-3 0 9 0-2 0-42 0 72 0-32 1 10 0-12 0-2 0 1 0-7 0 25 0-27 0 15 0 4 0-26 0 28 1-17 0 0 0-2 0 21 0-26 0 1 0 19 0 22 0-13 0 2 0-32 1 33 0-17 0-1 0 26 0-4 0-15 0-20 0 22 0 7 0-8 1 12 0-20 0 12 0 5 0-12 0-34 0 50 0-14 0 3 0-17 0 16 1 1 0 0 0-4 0 2 0-5 0 5 0-8 0-2 0 25 0-48 0 10 1 19 0-5 0 29 0-13 0 6 0-25 0 2 0-11 0 10 0 16 1-18 0 19 0-7 0-26 0 6 0 13 0 11 0-17 0 0 0 7 0 3 1 1 0 7 0-28 0 16 0 10 0 12 0-11 0-8 0 3 0-12 0 7 1-10 0 1 0 4 0 8 0 11 0-12 0 18 0 3 0-5 0-9 1-2 0-4 0 10 0-8 0-8 0 15 0 3 0-14 0-6 0 7 0-20 1 41 0-23 0 15 0-4 0-11 0 4 0-24 0 22 0-13 0 23 0-12 1 8 0-11 0-11 0 6 0 25 0-6 0-9 0-24 0 15 0 11 1-7 0 30 0-36 0 13 0-16 0-1 0-3 0 23 0 3 0 7 0-5 1-13 0-9 0 3 0-16 0 21 0-2 0 0 0 24 0-34 0 17 0-11 1 4 0 2 0 18 0-21 0 9 0 19 0 0 0-14 0 1 0 15 1-13 0-12 0-4 0-1 0 11 0-4 0 29 0-33 0 26 0-16 0-2 1 9 0-11 0-1 0-19 0 16 0-11 0 15 0 37 0 7 0 5 0 4 0-57 0-1 0-8 0 5 1 29 0-13 0-14 0 12 0-11 0-16 0 15 0 2 0-9 0 3 1 11 0-13 0 8 0 6 0-49 0 33 0 6 0-7 0 18 0 11 0-9 0-29 1 32 0-21 0 12 0-15 0 35 0-18 0-10 0 9 0 15 0-48 0 40 1-10 0-21 0 24 0 4 0-12 0-9 0 4 0 10 0 10 0-8 1 7 0-22 0-2 0 30 0 5 0-27 0 8 0-1 0 8 0 1 0-4 1-6 0-22 0 40 0-41 0 13 0-10 0 12 0-5 0 6 0-5 0 17 1-2 0-20 0 28 0-22 0 35 0-24 0 3 0-7 0 11 0 24 1-26 0-2 0-7 0-3 0 17 0 3 0-27 0 12 0-2 0-4 0 7 1-8 0-2 0 41 0-56 0 18 0 13 0-14 0-6 0 17 0 3 0 11 1-37 0 19 0 10 0 13 0-11 0-23 0 15 0-4 0 7 0 4 1 9 0-26 0 23 0-18 0-5 0 0 0 1 0 15 0-2 0-36 0 30 1 8 0 2 0 0 0-12 0 8 0-28 0 20 0-9 0-9 0 1 0 14 1 9 0-28 0 20 0 9 0-13 0 17 0-15 0 12 0-3 0 13 1 1 0-31 0 28 0 15 0-51 0 40 0-11 0-17 0 27 0-8 0-15 1 3 0 1 0 3 0 0 0-3 0-7 0 10 0 6 0 6 0-18 0-3 1-21 0 46 0-4 0-27 0-8 0 22 0-16 0 23 0 18 0-27 1-11 0 24 0 1 0-4 0-5 0-4 0 6 0-24 0 22 0-2 0 5 1-32 0 29 0 2 0-13 0 12 0-13 0 11 0-22 0 14 0 7 1-5 0 16 0-8 0-22 0 9 0 19 0-6 0 8 0-16 0 7 0 5 1-24 0 17 0-19 0 4 0 27 0-8 0-3 0-4 0 11 0-18 0 34 1-17 0 0 0 2 0-15 0 18 0-5 0-12 0 3 0-1 0-8 1-13 0 21 0 7 0 11 0-10 0 15 0-21 0 1 0 3 0-6 0 16 1-23 0 12 0 2 0-6 0 48 0-39 0-10 0 18 0-13 0 5 0-13 1-14 0 44 0-15 0-12 0-9 0 6 0-53 0 55 0 2 0-22 0 17 1 23 0-7 0 11 0-14 0-12 0 22 0-21 0-106 0 114 0 1 0-1 0-21 1 33 0-23 0 17 0-17 0 9 0 8 0-29 0 2 0-33 0 59 0-18 0-4 1 28 0-6 0-6 0 10 0-16 0 14 0-1 0 0 0-10 0 15 1 3 0 5 0-25 0 0 0 16 0-11 0 23 0-19 0-4 0-14 0 20 1-12 0 21 0-8 0 0 0-6 0-13 0 13 0-10 0 11 0-7 0 19 1-1 0-14 0 4 0-40 0 35 0 7 0 26 0-31 0-30 0 41 0-11 1-170 0 163 0-4 0 19 0-17 0 21 0-9 0-14 0 11 0 9 0-18 0-8 1 17 0 27 0-33 0-1 0-4 0 26 0-17 0 2 0 5 0-1 0-23 1 27 0-21 0-5 0 13 0 8 0-6 0-7 0-1 0 4 0 2 1-11 0-4 0 14 0-3 0-18 0 23 0 13 0 3 0-5 0-16 0-2 1 14 0-17 0-5 0 42 0-45 0 19 0-17 0 23 0-18 0 16 0 4 1-2 0 3 0 12 0-36 0 4 0 26 0-12 0 6 0-7 0-2 1-3 0 18 0-8 0 15 0-34 0 1 0 9 0-23 0 0 0 15 0 1 1 5 0-6 0 13 0-9 0-15 0 24 0 16 0-4 0-20 0 19 0-8 1-8 0 12 0-16 0 23 0-31 0 1 0-13 0 30 0-13 0 2 1 12 0 12 0-17 0-27 0 46 0-31 0 15 0 4 0 6 0-11 0 18 1-11 0-4 0-5 0 4 0-13 0 1 0 13 0 20 0-43 0 20 0 7 1-17 0 5 0 14 0-27 0 24 0 4 0-9 0 10 0-9 0-4 1 3 0-19 0 4 0 25 0-9 0 7 0 4 0-26 0 46 0-46 0 28 1-31 0 24 0-9 0-20 0 17 0 0 0-3 0 6 0-5 0 9 0 11 1-21 0-6 0 40 0-40 0-15 0 42 0-33 0 26 0-11 0-13 1 23 0-21 0 28 0-38 0 28 0-5 0-9 0-17 0 19 0 8 0 0 1 14 0-2 0-29 0 8 0-7 0 13 0 3 0 3 0-11 0 20 0-35 1 24 0 16 0-25 0 5 0-23 0 36 0 1 0-8 0 4 0-25 1 34 0-7 0 12 0-31 0-3 0-3 0-3 0 24 0-5 0-11 0 17 1 9 0-23 0 14 0-5 0 2 0 10 0-18 0 10 0-27 0 26 0 34 1-18 0-10 0-22 0 19 0-8 0-4 0 7 0 1 0 17 0-21 1-23 0 20 0 20 0-16 0 9 0-2 0-8 0 12 0 3 0 1 0-26 1 13 0 0 0 3 0-20 0 7 0 19 0 3 0-14 0-17 0 38 1-13 0 5 0-15 0 2 0 3 0 2 0-19 0 12 0-45 0 51 0-19 1 35 0-9 0 1 0 9 0-12 0-12 0 2 0 4 0-10 0-7 0 18 1 22 0-21 0-17 0-12 0 0 0 12 0 18 0-12 0-8 0 13 1-1 0 10 0-2 0-6 0-14 0-1 0 12 0-5 0 22 0-1 0-31 1 34 0-38 0 22 0 8 0-30 0 22 0-4 0 14 0-15 0-4 0 17 1-1 0 3 0-13 0-12 0 28 0-6 0 23 0-34 0-17 0 16 1 10 0-26 0 8 0 13 0-6 0 14 0-15 0 33 0-33 0 8 0-13 1 12 0 1 0-10 0-6 0 39 0-28 0 0 0-20 0 47 0-35 0 12 1 1 0 13 0-26 0 17 0-1 0-9 0-8 0-2 0 11 0-13 1 20 0 10 0-9 0 8 0-25 0-11 0 23 0 9 0-15 0-9 0 10 1 4 0-48 0 57 0-14 0 8 0-7 0-27 0 43 0-25 0 35 0-1 0-25 1 2 0 15 0-10 0 16 0 1 0-36 0-8 0 36 0 8 0-21 1-5 0 10 0-10 0-23 0 9 0 12 0 19 0-18 0 6 0-16 0 33 1-40 0 31 0-5 0-1 0-1 0 145 0-2 0 4 0 8 0-9 0-10 1 6 0 6 0-1 0-1 0-2 0-5 0 2 0-3 0 10 0 0 1 8 0-7 0-5 0 4 0 1 0-11 0 8 0-18 0 13 0 2 0 0 1 7 0-8 0 5 0-9 0 12 0-5 0 7 0-7 0-2 0-5 0 11 1 3 0-6 0-1 0-337 0 333 0 11 0-9 0 6 0-13 0 10 0 0 1 3 0 3 0-10 0 0 0 6 0 2 0-13 0 4 0 12 0-10 0 1 1 0 0 3 0 0 0-4 0 11 0-2 0-6 0-1 0-4 0 7 0-9 1 4 0 1 0 1 0-66 0 64 0 9 0-8 0 5 0-2 0-3 0 3 1-3 0-3 0-1 0 7 0-6 0 5 0-1 0 2 0-1 0-3 0 5 1-3 0 2 0-2 0-2 0-19 0 19 0 1 0-3 0 5 0-1 0-1 1-2 0 9 0 0 0-1 0-6 0 2 0 4 0-8 0 7 0 0 1 3 0-6 0-6 0 7 0-1 0 0 0-1 0 1 0 1 0-6 0 1 1-2 0 0 0 9 0 1 0-14 0 10 0 1 0 0 0 3 0-17 0 18 1-10 0-8 0 17 0-3 0-10 0-3 0 10 0 7 0-1 0-8 1 1 0 6 0-5 0-2 0 3 0-4 0-6 0 10 0-4 0 9 0-4 1-4 0-4 0 4 0 3 0-3 0-6 0 7 0 5 0-9 0 1 0-6 1 9 0-3 0 5 0-4 0-3 0 9 0-4 0 4 0 5 0-10 1 9 0-8 0-5 0 10 0-13 0 12 0-1 0-38 0 40 0 2 0-3 0-2 1 4 0-1 0 1 0-6 0 7 0 0 0 1 0-23 0 17 0-7 0 7 1-8 0 7 0-1 0 0 0 0 0 0 0 8 0-12 0 3 0 0 1 3 0-6 0 2 0-62 0 69 0 6 0-8 0-5 0 11 0-3 0-4 0 0 1 3 0 0 0-6 0 5 0-9 0 6 0-2 0-35 0 39 0 3 0 4 1-3 0-10 0 6 0 6 0-12 0 5 0 7 0-25 0 14 0 4 0-2 1 5 0-6 0 3 0-2 0-3 0 4 0 16 0-10 0 10 0-19 0 6 1 1 0-6 0 2 0 3 0 8 0-10 0-6 0-1 0 18 0-12 1 1 0 1 0-6 0 0 0 6 0 4 0-2 0-5 0 2 0 7 0-5 1-3 0 7 0 10 0-18 0-2 0 3 0-6 0 3 0 2 0 0 0 0 1 0 0-5 0 10 0-4 0-1 0 4 0-4 0 4 0 11 0-17 1-1 0 3 0 4 0-15 0 14 0 0 0 0 0-4 0 3 0 1 0 0 1-6 0 7 0-7 0 9 0-34 0 30 0-3 0 5 0-5 0 13 0-12 1 8 0-5 0 0 0 7 0-5 0-7 0 4 0-3 0 6 0-4 1-9 0 5 0 4 0 4 0 0 0-12 0 10 0-3 0-12 0 13 0-2 1-1 0-7 0 19 0-10 0 3 0 10 0-5 0-2 0-2 0-6 0 3 1-43 0 45 0 5 0-2 0 0 0-1 0-1 0 1 0-13 0 2 0 0 1 8 0 4 0-2 0 2 0-3 0 2 0-9 0 10 0-8 0 3 0 0 1-7 0 3 0-1 0 13 0-13 0 12 0-5 0-2 0 1 0 7 0-16 1 10 0 4 0-9 0 6 0 0 0-4 0 9 0-9 0 2 0 4 1-3 0 1 0-6 0 11 0 4 0-5 0-4 0 5 0-2 0-6 0 1 1 4 0-68 0 66 0-4 0 3 0 5 0-5 0-2 0 3 0-11 0 12 0 6 1-9 0-8 0 10 0-2 0-7 0 3 0 8 0 1 0-4 0-1 1 4 0-7 0 2 0 1 0 0 0 0 0-8 0 12 0-6 0 3 0-1 1 0 0 7 0-7 0 9 0-8 0-7 0 7 0-3 0 8 0-12 0 6 1-11 0 11 0-7 0 12 0-2 0-3 0 4 0-8 0 3 0-2 1 5 0-9 0 14 0-8 0-3 0 13 0 2 0-6 0-18 0 15 0-4 1-1 0-3 0 6 0-3 0 7 0-8 0 8 0-2 0 4 0-12 0 5 1 0 0 3 0-2 0-3 0 2 0 3 0-3 0 2 0-8 0 7 1 6 0 0 0-7 0-34 0 36 0-2 0-5 0 9 0-2 0 2 0 8 1-13 0 7 0-1 0 4 0 1 0-7 0-5 0 2 0 0 0 7 0-11 1 9 0-8 0-2 0 8 0-4 0 4 0-5 0 8 0 2 0-10 1 5 0-61 0 57 0-5 0-1 0 18 0-11 0-5 0 8 0-1 0-10 0 10 1-3 0-1 0 5 0 7 0-4 0-2 0 0 0 0 0 4 0 1 0-12 1-2 0 5 0 8 0 1 0-6 0 2 0-6 0 4 0-5 0 6 1-10 0-2 0 3 0 5 0 2 0 3 0-4 0 4 0-5 0 0 0 4 1-9 0 3 0 2 0-2 0 0 0 1 0 3 0-7 0 1 0 4 0 3 1-2 0 1 0-11 0 10 0-6 0 7 0 4 0-8 0 4 0-9 1 4 0 6 0-6 0 4 0 3 0-6 0 9 0-14 0 5 0 2 0 2 1-11 0 16 0-6 0 0 0 3 0-4 0 4 0-3 0-2 0-2 1 13 0-17 0-1 0 8 0-2 0 15 0-3 0-8 0-4 0 6 0-6 1 11 0-7 0 5 0 2 0-8 0 8 0-12 0 6 0-35 0 17 0 18 0-2 1 7 0-8 0 4 0-5 0 10 0-4 0-2 0-2 0 1 0-2 1-5 0 0 0 1 0 0 0 12 0-10 0 5 0 3 0-14 0 2 0 8 1 11 0-21 0 10 0-3 0 2 0 0 0-2 0 5 0 3 0-1 0-17 1 17 0-69 0 62 0-1 0 8 0-3 0 6 0-15 0 12 0-6 0 4 1-3 0-1 0-4 0-1 0 16 0-10 0 7 0-9 0 8 0-5 0-1 1-2 0 7 0-9 0 1 0 11 0-7 0 0 0-8 0 4 0 9 0-8 1-6 0 12 0-11 0 10 0 8 0-4 0-7 0-3 0-1 0 5 1-1 0 7 0-7 0 6 0-3 0 6 0-20 0 13 0-5 0 1 0-13 1 16 0-6 0 10 0 4 0-2 0-14 0 7 0 0 0-6 0 11 0 1 1-11 0 8 0-2 0-38 0 38 0 5 0-6 0 4 0-4 0-2 0-3 1 9 0-6 0 10 0-8 0-4 0 1 0 6 0-4 0 0 0-3 0 5 1-1 0 5 0-10 0 11 0-11 0 2 0 8 0 1 0-6 0 0 0 1 1-3 0 2 0 7 0 0 0-6 0 1 0-1 0 6 0-13 0 8 1-1 0-1 0 0 0-23 0 24 0-11 0 8 0 6 0 3 0-3 0-3 1-1 0 0 0-5 0 6 0 4 0-6 0 3 0-5 0 4 0 1 0-1 1-10 0 3 0 5 0 0 0 3 0-2 0-8 0 6 0-2 0 8 1-1 0-1 0 4 0-5 0-13 0 8 0 9 0-13 0 12 0-13 0 17 1-5 0 1 0-5 0-4 0 6 0-2 0-2 0 1 0 5 0-3 0-5 1 7 0 0 0 0 0-5 0 0 0 3 0 6 0-10 0 0 0 3 1-5 0 14 0-11 0 7 0-7 0 13 0-5 0-2 0 2 0 0 0-10 1 8 0-1 0 5 0-4 0-6 0 12 0-8 0-3 0-6 0 11 0-8 1 5 0 2 0-10 0 3 0-4 0 10 0-1 0 0 0 0 0 4 1 14 0-14 0-2 0-1 0 8 0-15 0 7 0 6 0-10 0 9 0-10 1 4 0-2 0 3 0-11 0 9 0 1 0-1 0 6 0-2 0-4 0 5 1-7 0 3 0 3 0-2 0-43 0 48 0-6 0-2 0 7 0-3 0 2 1 9 0-8 0-4 0 0 0-4 0 4 0 11 0 7 0-4 0-5 0 7 1 3 0-2 0-1 0 5 0-43 0 33 0 5 0-2 0 3 0-8 0 10 0-6 1 5 0 2 0-4 0 7 0-12 0 1 0-1 0 2 0 5 0 2 1-5 0-3 0-9 0 4 0 8 0-8 0 12 0-10 0 14 0-18 0 13 1-11 0 6 0-1 0 4 0 5 0-2 0-11 0 11 0-12 0 4 0 9 1-11 0 2 0 3 0-6 0 8 0-9 0 12 0-9 0 4 0 5 1-10 0 7 0 0 0-2 0 1 0-3 0-4 0-3 0 12 0 1 0-4 1-1 0-7 0 15 0-9 0 5 0 0 0-7 0 5 0 2 0-4 1 2 0 1 0-13 0 13 0-3 0 1 0-7 0 4 0 2 0-2 0 3 1-3 0 2 0 0 0 9 0-9 0-7 0 1 0 9 0 1 0-5 0-7 1 11 0-10 0 10 0-1 0 0 0-10 0 10 0 3 0-5 0-2 1-2 0 4 0 4 0-2 0 1 0 3 0-7 0-5 0-32 0 33 0 5 0 1 1 0 0 6 0-10 0 3 0-47 0 40 0 1 0 1 0 4 0 11 0-9 0 1 1-7 0 4 0-2 0 8 0-5 0 5 0-9 0 5 0 2 0 5 1 1 0-12 0 9 0-6 0 0 0 0 0 1 0-8 0 10 0-5 0 4 1-10 0 8 0-1 0 0 0 2 0 4 0-4 0 2 0-5 0-3 0 3 1 0 0 5 0 0 0 1 0-2 0-3 0-2 0 9 0 0 0-12 1 17 0-13 0 8 0-9 0 6 0-1 0 3 0-3 0-4 0 10 0-14 1 5 0-5 0 11 0-3 0-2 0 8 0-4 0-4 0 1 0 1 0-1 1 5 0-11 0 7 0 2 0-4 0 5 0 2 0-4 0-3 0 2 1-3 0 8 0 0 0-7 0 3 0-4 0 3 0-3 0 8 0-9 0 9 1-8 0 5 0-3 0-2 0 0 0 4 0 1 0 0 0 0 0-3 0 5 1-5 0 0 0 0 0 2 0-8 0 9 0-1 0 1 0 12 0-13 1-7 0-1 0 9 0-4 0 4 0-1 0-6 0-4 0 4 0 1 0 4 1-4 0 4 0 7 0-11 0-5 0 0 0 9 0-2 0 11 0-15 0-3 1 7 0 4 0 4 0 1 0-70 0 67 0-5 0-1 0-2 0 6 0-2 1-6 0-115 0 119 0-3 0 6 0 0 0 1 0-7 0 2 0 1 0-6 0 5 1 1 0 2 0-3 0 9 0-4 0-5 0-1 0 2 0 4 0 1 0 0 1-1 0-1 0-6 0 3 0 2 0 2 0-8 0 9 0 1 0-12 1 0 0 2 0 1 0 6 0 3 0 1 0-7 0-1 0 9 0-3 0-5 1 0 0-1 0 5 0-3 0 0 0-1 0 4 0 1 0-1 0-2 0-8 1 9 0-2 0-8 0-164 0 170 0-2 0 4 0 0 0 3 0 5 0-14 1 11 0-10 0 9 0-3 0-1 0-14 0 16 0 1 0-2 0 2 0 4 1-6 0 1 0-2 0-4 0 10 0-1 0-7 0-57 0 18 0 40 0 5 0-3 0-4 1 0 0 10 0-9 0 1 0 4 0 0 0 1 0-5 0-5 0 7 1-4 0 12 0-9 0 5 0-8 0 1 0 0 0 0 0-4 0 4 0 5 1 3 0-1 0 0 0 3 0-6 0 3 0 1 0-7 0 2 0 4 0 3 1-27 0 26 0-8 0-3 0 1 0-4 0 7 0 1 0-454 0 459 0-2 1 3 0-3 0 4 0-9 0-1 0 3 0-1 0 3 0-4 0-1 0 8 1-3 0 3 0 1 0-9 0 7 0-2 0 1 0 0 0-6 0 1 1-3 0-1 0 2 0-3 0 10 0-2 0-1 0 3 0-11 0 17 0-14 1 6 0-1 0-272 0 269 0 5 0-3 0 4 0 1 0-5 0 9 0-5 0-5 1-1 0 6 0-14 0 6 0 5 0-13 0 13 0 0 0-4 0-1 1 11 0-8 0 3 0-2 0 6 0-14 0 8 0-3 0 3 0 2 0-6 1 10 0-8 0 4 0-2 0-4 0 8 0-3 0 2 0-2 0 2 0-7 1 0 0 6 0-2 0-1 0 0 0-5 0 9 0 0 0-4 0-5 1-247 0 247 0 9 0-4 0 2 0-3 0 4 0-1 0-6 0-2 0 4 0-1 1-1 0 10 0 0 0-3 0-44 0 43 0 9 0-13 0 3 0-2 0-2 0 9 1-5 0-3 0 0 0 2 0-1 0-3 0 2 0 5 0-8 0 4 1 8 0-4 0-4 0 3 0-2 0 0 0 6 0-4 0 2 0-4 0 0 1 4 0 4 0-5 0-4 0 6 0-2 0-3 0 0 0 2 0-6 0 4 1-5 0 12 0-4 0 1 0-6 0 7 0-1 0-5 0 8 0-6 1 1 0 1 0-5 0 3 0 0 0 1 0-2 0 4 0-5 0-3 0 6 1-2 0 3 0 6 0-3 0 0 0-4 0 0 0-1 0 1 0 2 0 1 1-3 0-3 0 7 0-12 0 5 0 4 0 6 0-4 0 4 0-5 1-8 0 5 0-2 0 3 0-2 0 0 0 5 0 0 0 5 0-9 0 2 1 2 0-2 0-3 0 1 0-6 0 4 0 4 0-1 0-3 0 2 0 12 1-6 0-4 0-5 0 8 0-8 0-6 0 12 0 6 0-15 0-1 1 5 0 5 0-4 0 0 0-7 0 11 0 2 0-5 0 3 0-5 0 5 1-2 0-2 0 1 0-9 0 10 0 8 0-2 0-3 0-1 0-7 0 7 1-7 0 7 0 2 0-11 0 5 0 6 0-3 0-1 0 6 0 0 1-8 0-65 0 60 0 5 0 3 0 9 0-5 0-7 0 7 0-7 0-1 0 0 1 3 0-51 0 54 0-1 0-6 0 4 0-10 0 7 0-33 0 34 0 10 0-5 1-8 0 7 0 0 0-5 0 2 0-5 0 12 0-7 0-5 0-2 1 14 0-13 0 5 0-2 0 1 0 3 0 2 0-5 0 1 0 4 0-1 1 3 0-11 0 11 0 1 0-11 0-11 0 18 0 0 0 3 0 2 0-1 1-10 0 11 0-2 0-8 0 0 0 6 0-5 0 0 0-2 0 10 1-7 0 7 0-10 0 2 0 4 0 2 0 5 0-7 0-2 0-4 0 11 1-5 0 0 0 0 0 0 0-1 0 1 0 0 0 0 0 3 0-2 0-8 1 1 0 2 0 3 0 3 0 1 0-2 0-3 0-4 0 6 0 1 1-6 0 6 0 0 0-5 0 5 0-1 0-3 0 2 0-65 0 65 0-1 0-6 1 8 0-7 0 9 0-2 0 3 0-3 0-3 0 2 0-5 0 8 0-1 1-2 0 5 0-15 0 11 0-5 0-3 0 5 0-2 0 10 0-8 1-5 0 14 0-4 0 1 0-2 0 0 0 3 0 0 0-11 0 11 0-15 1 9 0 0 0-6 0 9 0-1 0 5 0-14 0 5 0 5 0 0 1-7 0 4 0-2 0 3 0-1 0-5 0 2 0-1 0 5 0 4 0 2 1-2 0-3 0-9 0 9 0-13 0 7 0 2 0 3 0 0 0-6 0-2 1 9 0-2 0-6 0 9 0-7 0-95 0 103 0 1 0 3 0-6 0-7 1 14 0-15 0 6 0-3 0 4 0 3 0 1 0-10 0-6 0 15 0 1 1-3 0 3 0-7 0 1 0-6 0 9 0-5 0 6 0-6 0-1 0-5 1 8 0-1 0 4 0-23 0 22 0-4 0 2 0-3 0 2 0 3 1 4 0-7 0 2 0 4 0-8 0 9 0-6 0 1 0 3 0-2 0 3 1 1 0-1 0-3 0-6 0 5 0-5 0 3 0 5 0-2 0 0 0-2 1 2 0 1 0-3 0 3 0-7 0 5 0 2 0-8 0 5 0 1 1-2 0 5 0 5 0-2 0-4 0-61 0 63 0 4 0-8 0 2 0 1 0 2 1-7 0 5 0-10 0 10 0-4 0 1 0 11 0-11 0-7 0 9 0 1 1-4 0 1 0 2 0 0 0-7 0 2 0 5 0 0 0-1 0 5 1-2 0-5 0-20 0 26 0-10 0 4 0 2 0-8 0 13 0 0 0-16 1 6 0 10 0 2 0-5 0 5 0-5 0-2 0 6 0-9 0 0 0 2 1-1 0-3 0 0 0 12 0-7 0-12 0 6 0 1 0 3 0-4 1 10 0-7 0 5 0-6 0 3 0-7 0-12 0 17 0 5 0-7 0 9 1-9 0 4 0 1 0-2 0-2 0-1 0 5 0-4 0 10 0-4 0-4 1-4 0 9 0 4 0-12 0-3 0 10 0 5 0-5 0-7 0 2 1 5 0-7 0 5 0 2 0 2 0-9 0 5 0 2 0-3 0 3 0-4 1-3 0-2 0 5 0 1 0 4 0-3 0-5 0 6 0 6 0-11 0 4 1-9 0 18 0-6 0 2 0-5 0 1 0-2 0-2 0 10 0-3 1-7 0 1 0 2 0 1 0 6 0-14 0-1 0-1 0 6 0 3 0 7 1-3 0-1 0-5 0 10 0-3 0-7 0-1 0 6 0-8 0 1 0 6 1-2 0-41 0 39 0 2 0-1 0 0 0 2 0-8 0 10 0-4 0 0 1 1 0 2 0 8 0-13 0-1 0 3 0-1 0-5 0 5 0-31 0 31 0 8 1-3 0-11 0-1 0 16 0-8 0-7 0 5 0 8 0-3 0 6 0-1 1-8 0 5 0-10 0 8 0 0 0-1 0 1 0 7 0-12 0 1 1 3 0-2 0 5 0-3 0-6 0 7 0-4 0-3 0 9 0-7 0 1 1 5 0-6 0-79 0 79 0 1 0 3 0-1 0 5 0-8 0 8 0-2 0 0 1-3 0-5 0 4 0 4 0 2 0-7 0 2 0 2 0 2 0-3 1-6 0 1 0 5 0-3 0 12 0-15 0 6 0-4 0 5 0 6 0-16 1 7 0-1 0 4 0-4 0 3 0-5 0 9 0-47 0 46 0-6 0-7 0 8 1 1 0-4 0 10 0-12 0 14 0-7 0 2 0-7 0-1 0 7 1 6 0-9 0 7 0-4 0-133 0 128 0 5 0 2 0-4 0 3 0-1 0 4 1-7 0 0 0 5 0-10 0 6 0-2 0 1 0 1 0 1 0-1 1 4 0-52 0 52 0-6 0 4 0 5 0-6 0-4 0-3 0 4 0-1 1-1 0 0 0 2 0-1 0-7 0 9 0 7 0-20 0 13 0 2 0-4 1 0 0-1 0 2 0-1 0 8 0-227 0 218 0 2 0 2 0 2 0 4 1-7 0 0 0 7 0 0 0-6 0-4 0-106 0 112 0-8 0 12 0-3 0-8 1 9 0-8 0 2 0 7 0-10 0-3 0 3 0 6 0 0 0-4 0-5 1 6 0-2 0-32 0 39 0-11 0 11 0-4 0 2 0 1 0 0 0-7 1 8 0-8 0 8 0-30 0 25 0 2 0 1 0 0 0 3 0-3 0-2 1-57 0 58 0-3 0-1 0 6 0 3 0 0 0 0 0 1 0-8 0 6 0-8 1 6 0-5 0 5 0 1 0 0 0-4 0-1 0-195 0 200 0 4 0-8 1-6 0 8 0 4 0-6 0 0 0 5 0 2 0-9 0-1 0 3 0-4 1 4 0-4 0 11 0-7 0 0 0 5 0-1 0-1 0 1 0-5 0 11 1-14 0 3 0-2 0 0 0 9 0 1 0 0 0-4 0-8 0 0 1 2 0 1 0 5 0 0 0-2 0-6 0 9 0-3 0-7 0-88 0 94 0-2 1 11 0-13 0 8 0-4 0-8 0 3 0 0 0 5 0 6 0-3 0 5 1-4 0 3 0-5 0 2 0 0 0-4 0 2 0-4 0 2 0-2 1 2 0 0 0 5 0-7 0 0 0 4 0-3 0 0 0 3 0 1 0-1 1 4 0 2 0-104 0 102 0-6 0-4 0 0 0 0 0-1 0 7 0-3 0 2 1 2 0-1 0-9 0 1 0 13 0-7 0 7 0-7 0 2 0-4 1 5 0 1 0-2 0 3 0-3 0-9 0 11 0 1 0-7 0 7 0-9 1 4 0 3 0-12 0 12 0-2 0 4 0-291 0 285 0 2 0 0 0 0 0-4 1 9 0-11 0 4 0 3 0-4 0 7 0-6 0-1 0 5 0 6 1-9 0 6 0-7 0 2 0 0 0-18 0 20 0-5 0 1 0 1 0 3 1 9 0-11 0 8 0 1 0-43 0 32 0-2 0 9 0-11 0 12 0-6 0 3 1-1 0-9 0 11 0-2 0-12 0 3 0 8 0 0 0-1 0-4 1 0 0 2 0 7 0-15 0-1 0 16 0-3 0 5 0-4 0 2 0-4 1-7 0-47 0 49 0 8 0-3 0 3 0 3 0-7 0 9 0-11 0 2 0 3 1-13 0 9 0 5 0-11 0 9 0 2 0-3 0-1 0 1 0-4 1 12 0-8 0-1 0 1 0 1 0-4 0-5 0 12 0-7 0 1 0-6 1 9 0 2 0-11 0 9 0-9 0 15 0-5 0-4 0 5 0-2 0 0 1-4 0 3 0-2 0 4 0-3 0 2 0-2 0 3 0 1 0-3 1 4 0-4 0 12 0-7 0 0 0-11 0 4 0 2 0 2 0-1 0 1 1-7 0 13 0-7 0 1 0-2 0 0 0 0 0 7 0-9 0 4 0 3 1-11 0 2 0-1 0 7 0-9 0 5 0 1 0-1 0-6 0 15 1-11 0 1 0 7 0-7 0 0 0-2 0 3 0 2 0 4 0-5 0-12 1 4 0 9 0 3 0 0 0-11 0 3 0-3 0 6 0 6 0-12 1 8 0-4 0 7 0-7 0-5 0 5 0 2 0-1 0-2 0 2 0 4 1-4 0-59 0 63 0-1 0 5 0 2 0 0 0-10 0 5 0-4 0 3 0 1 1-3 0 0 0 4 0-6 0-1 0-7 0 5 0 8 0 2 0-6 1-2 0 9 0-7 0-2 0 1 0 5 0-3 0 7 0-3 0-65 0 62 0-8 1 3 0 11 0-1 0-3 0 0 0-111 0 67 0 7 0 35 0-1 0-4 0 7 0-1 0-6 1-1 0 7 0-5 0 10 0-6 0-5 0 2 0-1 0 0 0 6 1-6 0-1 0-6 0 13 0-3 0-9 0 14 0-7 0 10 0-7 0-3 1 5 0 2 0-10 0 6 0 2 0-4 0-3 0 2 0 6 0 0 0-3 1 7 0-5 0 2 0-1 0-2 0-2 0-21 0 20 0 1 0-11 1 5 0 1 0 13 0-16 0 9 0 3 0-5 0 0 0 2 0-9 0 8 1 6 0-2 0-4 0 0 0 5 0-8 0 4 0 4 0-107 0 97 0 4 0 5 1 5 0-13 0 8 0 4 0-5 0-2 0-1 0-5 0 11 0-12 1 6 0-2 0 4 0-4 0 8 0-13 0-1 0 8 0-6 0 9 0 0 1 0 0-7 0 1 0 1 0 3 0-3 0 5 0-5 0 10 0-7 0 1 1-12 0-109 0 115 0 8 0-6 0 0 0-3 0 4 0 4 0-3 0 5 1-9 0 7 0-2 0 0 0-7 0 6 0 1 0-7 0 9 0-3 0-5 1 10 0-10 0 7 0-9 0 12 0-3 0-2 0-3 0-2 0 11 0-7 1 6 0-9 0 4 0-5 0 7 0-10 0 11 0-8 0 7 0-1 1-1 0 0 0 7 0-11 0 1 0 8 0-2 0 3 0-4 0-4 0-82 0 84 1 2 0 1 0-2 0-4 0 2 0 8 0-10 0 9 0-12 0 2 0-2 1 10 0-6 0 1 0 7 0-4 0-8 0 2 0-3 0 11 0-4 1-4 0 4 0 3 0 1 0 6 0-13 0 7 0 0 0-2 0-13 0 5 1 14 0-11 0 4 0-4 0 12 0-5 0-7 0-2 0 8 0 2 0-6 1 5 0-3 0 0 0 1 0-7 0 2 0 5 0-1 0 6 0-12 1 7 0 9 0-8 0 1 0-5 0 0 0 4 0-6 0-2 0 0 0 0 1 10 0-1 0 1 0-4 0 1 0-7 0 5 0 4 0-6 0-5 0 10 1-8 0 8 0-4 0-1 0 0 0 0 0 5 0-1 0-82 0 84 0-2 1-2 0 3 0-4 0-2 0-18 0 19 0-5 0 2 0 7 0-2 0-1 1 2 0 1 0 3 0-2 0-2 0 1 0-1 0-9 0 16 0-12 0 7 1-5 0-5 0 12 0-8 0 1 0-8 0 13 0-5 0-2 0 8 1-5 0-17 0 21 0-8 0 2 0-1 0-7 0 8 0 2 0-11 0 17 1-8 0 11 0-9 0 7 0-5 0 0 0-11 0 15 0-11 0 9 0-10 1-1 0 1 0 1 0 1 0 6 0 1 0-44 0 23 0 24 0-2 0-1 1-1 0 5 0-6 0-8 0 5 0 9 0-7 0-107 0 106 0 7 0-4 0 0 1-1 0 7 0-5 0-1 0 0 0-3 0 2 0 8 0-7 0 5 1-8 0 1 0-2 0 4 0 4 0-6 0-14 0 9 0 10 0 0 0-3 1-135 0 38 0 101 0-2 0-3 0-7 0 7 0-4 0 6 0 2 0-5 0-6 0 12 1-1 0 0 0-9 0 4 0 5 0-17 0 17 0-12 0 15 0-9 1 0 0 6 0-5 0-1 0 3 0-1 0 0 0-1 0-3 0 2 0 1 1 0 0 4 0 5 0-15 0 8 0 1 0-6 0 2 0 1 0 1 0-1 1 0 0 5 0-9 0 8 0 1 0-1 0-8 0-1 0 5 0-2 1 0 0 9 0-10 0 8 0 2 0 1 0 2 0-26 0 18 0-6 0 5 1-1 0 9 0-4 0-3 0-6 0 1 0 3 0 3 0 3 0-3 0-1 1 3 0-8 0 2 0 0 0 3 0 2 0-4 0-6 0 8 0-5 1 7 0-12 0 17 0-12 0 12 0-5 0 3 0-1 0-8 0 1 0-1 1-1 0 9 0-9 0 2 0-6 0 9 0-7 0 16 0-10 0-1 0 3 1-5 0 1 0 2 0 1 0 2 0-3 0-9 0 8 0-2 0 2 1 2 0-1 0 9 0-12 0-1 0 4 0 1 0 5 0-9 0 6 0-1 1-1 0 0 0 0 0-6 0 3 0 3 0 6 0-3 0-3 0 0 0 1 1 0 0 2 0-10 0 5 0 11 0-6 0-5 0-1 0 3 0-6 1 2 0 7 0 0 0-16 0 13 0-2 0-4 0 2 0 1 0 2 0-4 1 0 0 6 0-3 0 5 0-4 0-3 0-2 0 0 0 9 0-81 0 24 0 57 0 0 1-3 0-2 0-2 0 7 0-4 0-1 0 0 0 2 0-3 0 3 1 3 0 0 0-144 0 138 0 4 0-2 0-4 0-2 0 9 0 6 0-6 0 3 1 3 0-2 0-10 0 5 0-3 0-6 0 12 0-7 0 8 0-7 0 2 1-2 0 1 0 4 0-2 0 0 0-2 0 3 0-7 0 5 0 2 1-5 0 8 0-5 0-6 0 4 0 4 0-2 0-54 0 46 0 10 0-5 0 3 1-52 0 59 0 0 0-8 0-6 0 8 0 7 0-3 0 4 0-15 0 9 1-5 0 0 0 5 0-3 0-5 0-4 0 7 0-2 0 14 0-14 1 10 0-9 0-4 0 10 0 3 0-4 0 2 0-5 0-4 0 12 0 1 1-80 0 74 0 7 0-13 0 4 0-3 0 5 0-7 0 6 0 2 0 3 0-5 1-68 0 76 0-13 0 6 0 6 0-14 0 5 0 2 0 4 0-2 0-8 1 3 0 1 0 5 0 3 0-7 0-4 0-2 0 9 0 2 0-7 0-3 1 0 0 5 0-8 0 5 0 1 0-36 0 39 0-5 0 7 0-12 0 13 1-11 0 7 0 3 0-5 0 3 0-1 0-1 0 6 0-10 0 8 1 4 0-4 0-7 0 5 0 2 0 0 0-113 0 102 0-1 0 15 0-3 0-2 1-2 0 4 0-41 0 44 0-3 0-6 0 4 0 7 0-8 0-4 0 8 0-6 1 1 0 8 0-2 0-9 0 8 0 1 0 1 0-6 0 1 0 7 1-23 0 11 0 0 0 8 0 0 0-7 0 8 0-7 0-1 0 2 0-7 1 2 0 7 0-2 0-2 0 8 0-3 0-2 0 0 0 5 0 5 1-14 0 3 0-1 0 4 0-7 0 4 0 8 0-8 0-3 0 6 0 1 1-6 0 9 0-5 0 5 0-3 0-3 0-1 0 4 0-7 0-2 0 13 1-12 0 3 0-37 0 39 0-6 0 2 0 7 0-2 0-33 0 36 1-1 0-4 0-5 0 13 0 4 0-13 0-6 0 17 0-10 0 3 0-3 1-2 0 2 0-1 0 3 0-3 0 8 0-7 0 7 0-11 0 5 0 1 1-4 0 5 0-3 0 8 0-2 0-4 0-10 0 9 0 6 0-4 1-3 0-1 0-6 0 12 0-7 0 3 0-50 0 52 0-5 0 2 0 2 0 5 1-7 0-1 0 2 0-2 0 6 0-9 0 4 0 1 0-5 0 7 0-5 1 1 0-3 0 4 0 0 0-5 0 7 0 9 0-9 0-3 0-1 1 8 0-5 0-3 0-4 0 11 0-14 0 11 0-5 0 9 0-6 0-1 1 7 0-11 0 9 0 0 0-13 0 5 0 1 0 2 0 2 0-1 0 3 1-4 0-5 0-4 0 6 0 1 0 0 0-96 0 102 0-3 0-7 0 4 1 2 0 12 0-8 0-4 0 3 0 3 0-9 0 12 0-11 0 7 0 4 1-7 0 3 0-7 0 10 0-2 0 5 0-5 0-7 0-1 0 0 0 1 1 8 0-12 0 1 0 2 0-3 0 2 0 9 0-6 0 0 0 0 1 4 0 2 0-2 0-2 0-4 0-2 0 7 0 1 0 1 0-3 0-4 1 0 0 6 0-5 0-2 0-2 0 3 0 7 0-1 0 4 0-4 0-1 1 3 0 1 0-6 0-11 0 11 0-3 0 0 0 4 0-4 0-3 1 8 0 3 0-11 0 8 0-5 0 4 0-49 0 57 0-15 0 8 0 6 0-8 1-5 0-6 0 7 0 6 0-6 0 10 0-16 0 4 0 8 0-2 0 3 1-1 0-5 0-29 0 29 0 9 0-5 0 4 0-3 0-25 0 25 0-4 1-3 0 10 0-7 0-5 0 13 0-5 0 0 0-6 0 8 0-3 0-95 0 89 1 3 0-2 0 12 0-9 0 4 0 3 0 4 0-11 0-2 0 8 0 0 1 7 0-12 0 9 0-3 0-4 0-14 0 14 0-2 0-8 0 13 1-7 0-1 0 3 0 6 0 4 0-4 0-2 0-2 0-7 0 2 0 4 1 0 0-2 0 10 0-2 0-9 0 8 0-4 0 11 0-6 0-1 0-2 1 2 0-4 0 8 0-8 0-7 0 7 0 3 0-10 0 0 0 6 1 6 0-2 0-15 0 15 0-5 0-2 0 4 0 10 0-16 0 5 0-9 1 12 0-1 0 0 0 1 0-8 0 5 0 0 0-3 0 7 0-1 0-7 1 5 0 2 0-1 0 1 0-2 0-2 0-4 0 2 0-61 0 65 0 0 1-6 0 5 0 3 0 3 0-3 0-3 0 4 0-15 0 13 0-5 0 11 1-12 0 8 0 5 0-10 0-1 0 2 0-1 0-3 0 2 0 6 1-1 0-7 0 0 0 5 0 1 0-1 0 0 0 8 0-3 0-2 0-6 1 10 0-8 0 2 0-12 0 15 0-11 0 4 0 8 0-6 0-3 0 7 1 1 0-3 0 2 0-8 0 6 0-3 0-21 0 24 0-3 0 0 1 2 0-1 0 4 0-6 0 5 0-5 0 5 0-2 0 3 0 3 0-6 1 3 0-7 0 2 0-5 0 12 0-10 0 4 0 6 0-13 0 10 0-3 1 9 0-9 0-3 0 10 0 1 0-5 0 6 0-10 0 3 0-18 1 13 0 5 0-2 0 9 0-11 0 4 0-11 0 11 0-3 0-1 0 4 1-42 0 40 0-4 0 8 0-10 0 1 0 12 0-6 0 4 0 0 0-6 0 3 1-2 0-3 0 2 0 9 0-7 0 7 0-4 0-9 0 5 0 4 1-3 0 2 0-1 0-4 0 7 0 4 0-10 0 1 0 2 0 3 0-5 1 6 0-8 0 0 0-5 0 10 0 2 0-7 0 3 0-3 0-1 0 11 1-2 0-14 0 13 0-3 0 7 0-6 0-1 0-5 0 3 0 0 1-6 0 10 0-5 0 3 0 2 0-11 0 6 0-2 0 1 0-3 0-142 0 17 0 131 1-7 0 4 0 0 0 0 0 1 0 1 0 1 0 8 0-12 0 2 0-2 1 11 0-15 0 2 0 9 0-2 0-8 0 11 0-9 0 0 0 10 1 0 0-2 0-3 0 3 0-7 0 12 0-16 0 10 0 3 0-10 0 3 1 3 0 6 0-3 0 1 0-5 0 2 0 0 0 4 0-12 0 7 0-1 1-2 0 10 0-19 0 13 0-1 0 2 0-6 0-2 0 13 0-3 1-6 0-2 0 3 0 0 0-2 0 5 0-2 0-2 0 2 0-4 0 6 1-56 0 54 0-10 0 12 0-5 0 1 0 4 0-3 0 2 0-8 0 11 0-6 1 6 0-4 0 0 0 4 0-2 0-3 0 2 0 7 0-8 0-2 1 4 0-8 0 7 0-3 0 3 0-12 0 15 0-4 0-4 0 7 0-6 1-4 0-3 0 8 0-1 0 1 0-1 0 4 0 1 0-7 0 9 0-16 1 14 0 1 0-4 0-2 0-10 0 21 0-16 0 7 0 0 0 5 1-2 0-4 0-2 0 12 0-10 0-2 0 10 0-8 0-4 0 8 0-5 1-7 0 8 0 3 0-9 0 6 0 6 0-7 0-3 0 1 0 7 0-5 1 4 0-3 0-3 0 8 0 4 0-13 0 6 0 1 0-1 0 0 1 6 0-6 0 1 0-2 0 4 0-6 0 0 0 5 0 2 0-3 0 1 1-12 0 5 0 4 0 4 0-8 0 6 0-2 0 3 0-4 0 6 0-7 1 9 0-8 0 4 0-8 0 2 0-3 0-3 0 9 0 1 0 14 1-15 0 8 0-8 0-2 0 8 0-3 0 5 0-12 0-2 0 12 0 0 1-78 0 78 0-6 0 6 0-5 0-3 0 3 0-8 0 12 0 0 0-8 0-3 1 9 0 3 0-15 0 9 0-2 0 9 0 1 0-13 0 3 0-5 1 8 0 1 0 4 0-14 0 1 0 9 0 0 0-5 0 3 0 3 0-3 1 8 0 0 0-5 0-3 0-5 0 4 0 0 0-12 0 13 0 2 1-2 0-7 0 1 0 8 0 2 0-8 0-2 0 3 0 3 0 9 0-5 1-2 0-4 0-31 0 33 0-4 0 8 0-3 0-5 0 5 0 7 0-11 0-1 1 3 0 1 0 2 0-2 0 4 0-3 0 1 0 6 0-13 0 1 1 5 0-5 0 2 0 13 0-15 0 1 0 6 0-2 0-8 0 9 0-213 0 218 1-7 0 3 0-3 0-4 0 1 0 6 0-1 0-27 0 18 0 12 0-3 0 1 1 2 0-12 0 6 0-2 0 0 0 3 0 2 0-3 0 10 0-13 1 17 0-12 0 8 0-6 0-6 0 3 0-2 0 6 0-2 0-7 0 16 1-6 0-12 0 4 0 2 0 2 0 0 0-2 0 9 0-14 0 9 0-2 1 5 0-7 0 1 0 9 0-7 0-2 0 0 0-1 0-5 0 0 1 4 0 2 0 4 0-5 0 0 0 1 0-2 0 2 0-52 0 57 0-8 0-2 1 3 0 2 0-4 0 7 0 6 0-4 0 2 0 0 0-3 0-3 0 0 1-7 0-2 0 6 0-2 0 1 0 6 0-3 0-1 0 10 0-11 1 2 0 5 0-6 0 7 0-9 0 10 0-5 0-9 0 7 0 3 0-4 1 3 0-3 0 4 0-3 0 5 0-2 0 2 0 0 0-25 0 8 0 14 1 4 0-3 0-8 0 11 0 0" fill="none" stroke="none" marker-mid="url(#mp)"/>
<path d="M129.5 635.5l0 0 0 1 0 2 0-5 0-2 0 1 1-6 0-2 0 8 0-1 0-12 0 4 0 7 0-2 0-3 0-4 1 6 0-3 0 0 0-1 0-1 0-5 0-3 0 1 0-4 0 6 0-1 1-7 0 7 0-3 0-2 0 5 0-3 0-10 0 8 0 2 0-9 0 0 1 0 0 0 0 1 0-7 0 6 0 2 0 1 0-3 0 2 0-4 1 0 0 2 0 1 0-6 0 7 0-2 0-9 0 0 0 10 0-4 0 8 1-5 0 2 0 4 0-7 0-2 0 11 0-10 0 0 0-3 0 5 0 0 1-4 0 0 0-2 0 13 0-6 0 3 0-3 0 1 0 0 0-5 1 5 0-1 0-4 0 6 0-2 0-1 0 3 0-7 0 8 0-3 0-5 1 9 0-1 0-10 0 9 0-2 0 1 0-2 0 7 0-2 0-13 0 6 1 4 0-8 0 5 0 3 0-3 0-9 0 8 0 2 0-2 0 6 1 1 0-10 0-1 0 4 0 5 0-2 0 1 0-3 0-4 0 3 0 4 1 1 0-4 0 0 0 0 0 5 0-5 0 0 0-4 0 13 0-6 0-4 1-3 0-5 0 7 0 4 0 3 0-2 0-1 0-1 0 1 0-5 1 10 0-7 0-6 0-2 0 7 0 2 0-2 0 4 0-5 0-1 0 2 1 3 0 4 0-5 0 1 0-5 0 7 0-8 0 8 0-7 0 0 0-3 1 7 0 2 0-8 0 6 0 1 0-2 0 3 0-1 0-4 0-2 1-1 0 4 0 3 0 2 0-2 0 0 0-2 0 0 0 2 0-5 0 6 1-3 0-4 0 9 0-9 0 1 0 0 0 10 0-6 0 0 0-4 0 11 1-7 0-8 0 6 0 1 0 1 0-4 0 5 0 0 0-1 0-1 1-5 0 14 0-11 0 11 0-7 0 1 0 0 0 0 0-1 0-11 0 9 1-3 0 6 0-4 0 1 0-3 0 5 0-2 0-2 0 3 0 6 0-10 1 4 0-7 0 12 0-1 0-7 0 3 0-5 0 4 0 4 0 4 1-11 0 2 0-4 0 7 0 3 0 1 0-5 0 4 0-4 0-1 0 5 1-9 0-3 0 5 0-2 0 5 0-1 0 3 0-8 0 9 0-4 0 5 1-2 0-6 0-1 0 4 0 7 0-3 0-3 0-2 0 1 0 8 1-13 0-3 0 10 0-3 0-6 0 7 0-3 0 5 0-5 0 0 0 1 1 1 0 2 0 3 0-5 0-2 0 8 0 6 0-2 0-4 0-5 0 1 1 4 0-2 0-1 0-4 0 0 0 4 0-4 0-10 0 14 0 0 1 6 0-6 0-11 0 12 0 2 0-12 0 8 0-2 0-4 0 10 0 2 1-2 0-1 0-1 0-8 0 3 0 0 0-3 0-1 0 6 0 2 0 2 1-8 0 3 0 0 0 3 0-7 0 5 0 3 0-6 0 2 0 1 1-3 0 4 0-1 0 8 0-10 0-4 0 6 0 1 0 9 0-9 0 0 1-3 0 7 0-5 0 4 0-5 0 20 0-11 0-8 0 6 0-5 0-5 0 1 1 4 0-16 0 18 0-2 0 3 0-15 0 11 0 2 0-6 0 25 0-27 1 1 0 8 0-1 0 3 0 0 0-1 0-8 0 9 0 4 0-19 0 15 1-4 0 4 0-6 0 3 0-1 0-8 0 6 0-6 0 2 0 3 1 1 0 4 0-7 0 8 0 3 0 0 0-11 0 6 0-6 0-3 0 13 2-40 2-30 0-1 0 6 0-7 0 15 0-8 1 5 0-7 0-4 0-2 0 3 0 0 0-2 0-6 0 9 0-6 1-5 0 10 0-7 0 14 0 0 0-13 0 4 0 8 0-5 0-12 0 9 1 7 0-5 0-13 0 15 0 3 0-17 0 11 0 3 0-9 0 17 0-24 1 15 0 7 0-29 0 10 0 17 0-17 0 0 0 15 0-2 0-1 1 13 0-11 0 9 0-6 0 3 0-6 0-1 0-2 0 12 0-12 0 1 1-11 0-3 0 13 0 3 0-9 0-1 0 4 0 9 0-14 0 16 0-5 1 1 0 6 0-14 0 23 0-17 0 14 0-16 0 6 0 7 0-28 1-2 0 22 0-22 0 17 0 10 0-8 0 2 0-5 0-1 0 6 0-1 1-4 0 14 0-13 0 19 0-12 0-3 0-9 0 0 0-2 0 19 0-2 1-12 0 13 0-1 0-7 0-8 0 8 0 7 0-23 0 13 0-6 1 7 0 15 0-14 0 4 0-4 0-11 0 13 0-13 0 13 0-3 0 2 1 1 0 3 0-16 0 7 0 1 0 6 0-10 0 4 0-16 0 11 0 5 1 4 0-6 0 7 0 19 0-18 0-4 0 7 0-2 0-17 0 9 1 4 0-8 0 2 0 1 0 5 0 3 0 0 0-11 0 5 0 2 0 3 1-6 0-1 0 8 0 5 0-16 0 7 0-2 0-11 0 13 0-5 0 12 1-6 0-6 0 14 0-2 0 4 0-18 0 1 0 0 0 6 0 21 1-30 0 19 0-3 0-9 0 3 0 5 0-7 0 8 0-2 0-6 0-12 1 12 0 0 0 0 0 13 0-21 0 21 0-16 0-2 0 5 0 1 0-8 1 6 0-8 0 16 0 1 0-4 0-14 0 1 0 12 0-14 0 16 1-1 0 3 0-4 0 1 0 2 0-8 0 8 0 1 0-10 0-5 0 14 1-17 0 12 0-4 0 2 0-6 0 15 0-4 0 2 0-6 0 2 0-8 1 5 0 4 0 6 0 1 0-2 0 6 0 9 0-16 0-9 0 21 1-27 0 14 0-9 0 0 0 23 0-5 0-19 0 11 0-12 0 2 0 1 1 4 0-5 0-6 0 14 0-4 0-1 0-1 0 8 0-7 0-1 0 1 1-10 0 12 0 3 0-23 0 23 0-9 0 12 0-16 0-1 0 16 1-12 0 17 0-4 0-12 0 20 0-16 0 1 0-10 0 20 0-7 0 6 1-11 0 7 0-24 0 29 0-20 0 12 0 7 0-1 0-15 0 6 0 4 1 4 0-5 0-13 0 9 0 15 0-10 0 1 0-3 0-13 0 22 1 3 0-11 0 2 0 0 0-9 0 6 0-12 0 16 0 17 0-26 0-12 1 21 0 1 0-7 0 4 0-2 0 10 0-10 0 0 0-1 0 8 1-8 0-18 0 5 0 2 0 15 0 1 0 1 0-6 0-17 0 18 0-11 1 9 0 1 0 6 0 11 0-20 0 10 0-14 0-4 0 14 0-6 0 8 1 4 0-1 0-13 0 3 0 3 0-7 0 5 0-12 0-3 0 15 1 6 0-5 0 10 0-10 0-9 0 23 0-17 0 15 0-11 0-2 0-5 1 2 0 0 0-6 0 10 0-11 0 10 0 7 0-1 0-8 0-6 0 11 1 4 0 0 0-7 0-10 0 7 0-8 0 3 0 10 0-5 0 2 1-4 0-6 0 15 0-5 0-2 0-6 0 5 0-5 0 20 0-15 0 2 1 1 0 5 0 9 0-12 0-14 0 21 0-15 0 17 0-19 0 10 0-3 1 1 0 0 0 9 0-3 0 1 0-9 0 4 0 0 0-11 0 14 1-1 0-5 0 5 0 4 0 13 0-12 0-10 0 4 0-4 0-7 0 14 1-12 0 2 0 19 0-21 0 0 0 10 0-11 0 15 0-16 0 17 0-4 1-2 0-3 0-2 0 8 0 6 0-13 0 5 0-6 0 12 0-13 1-4 0 3 0 9 0-8 0 5 0-6 0 3 0 3 0 2 0-4 0-3 1-6 0 16 0-16 0 9 0 9 0-20 0 16 0-5 0 14 0-8 0-2 1 1 0 4 0 0 0-13 0 16 0-3 0-8 0-4 0 14 0-10 1 6 0-7 0 7 0-8 0 5 0-5 0 7 0-4 0 6 0 5 0-13 1 9 0-5 0 18 0-23 0 27 0-30 0 0 0 19 0-5 0 14 0-19 1-3 0-1 0 6 0 6 0-24 0 4 0 10 0 0 0 7 0 1 1-7 0 5 0 14 0-23 0 4 0 4 0-1 0 7 0-11 0 9 0-9 1 12 0-21 0 25 0-11 0-3 0 8 0-20 0 19 0 24 0-27 0-2 0 17 1-18 0 7 0-5 0-5 0 13 0-3 0-12 0 6 0 4 0 8 1-13 0 15 0-6 0-8 0-4 0 11 0-7 0 1 0-9 0 14 0-6 1-4 0 5 0 1 0-12 0 18 0-5 0-4 0 0 0-3 0 9 0 4 1-17 0 10 0 11 0 6 0-16 0-4 0-12 0 15 0-19 0 10 1 3 0 4 0 0 0 5 0-10 0 2 0 4 0-1 0-5 0 6 0-7 1 11 0 8 0-2 0-14 0 13 0-18 0-3 0 3 0 4 0 13 0-5 1 0 0-13 0 3 0 5 0 6 0 6 0 2 0 4 0-14 0 17 1-21 0-10 0 7 0-10 0 13 0 3 0 3 0-6 0-4 0 7 0-11 1 13 0 2 0-15 0 13 0 0 0-15 0 9 0 7 0-13 0 10 0-3 1-9 0 19 0-5 0 6 0 2 0-17 0 3 0-11 0 22 0-12 1 15 0-14 0-4 0 18 0 4 0-23 0 6 0 16 0-20 0 8 0-9 1 7 0 3 0-1 0 13 0-28 0 24 0-8 0-14 0 18 0-9 1-11 0 16 0-14 0 7 0-7 0 16 0-5 0-5 0 13 0 4 0-10 1 1 0-3 0 20 0-30 0 11 0 1 0 3 0 11 0-15 0-3 0 3 1 0 0-3 0-5 0 11 0-10 0 4 0 6 0-17 0 10 0 1 1-3 0 28 0-14 0-7 0 6 0-8 0 28 0-31 0 2 0 1 0 3 1 3 0-5 0-4 0-1 0 10 0 5 0-17 0 8 0-12 0 12 0 3 1 8 0-7 0-10 0 6 0 5 0-2 0-13 0 15 0-10 0 2 1-4 0 2 0 4 0-8 0 19 0-14 0 3 0 1 0 0 0-12 0 7 1 9 0-12 0-1 0-2 0 8 0 12 0-15 0-4 0 10 0-2 0 10 1-14 0 1 0 8 0-19 0 3 0-2 0 33 0-19 0-5 0-5 1 16 0-14 0 7 0 19 0-22 0 13 0-23 0 16 0-7 0 5 0 5 1-2 0-1 0-5 0-1 0 4 0 13 0-19 0 34 0-24 0-6 0-1 1 2 0-5 0 5 0-11 0-5 0 24 0-7 0-1 0-2 0-2 1-10 0 20 0-14 0 12 0-13 0 9 0-9 0 2 0 15 0-11 0 3 1 2 0 4 0-5 0-4 0-1 0 0 0 6 0-15 0 12 0 10 0-15 1 5 0-3 0-9 0 23 0-6 0-8 0 9 0-19 0 18 0 4 1-4 0-9 0 4 0 4 0-19 0 17 0-16 0 3 0 9 0 18 0-21 1 9 0 2 0 1 0-9 0-1 0 6 0 1 0-7 0 10 0-12 0 18 1-9 0-8 0 11 0-16 0 10 0 5 0-5 0-4 0 7 0-8 1 2 0-2 0 0 0 14 0-10 0-1 0-6 0 9 0 10 0-18 0 12 1-12 0 8 0 5 0 1 0-16 0 30 0-17 0-17 0 16 0-5 0 4 1 0 0-2 0-5 0-4 0 2 0 14 0-10 0 5 0 9 0-6 1 4 0-12 0-2 0 16 0 2 0-8 0-1 0 1 0-11 0 1 0 10 1-2 0 10 0-23 0 11 0 2 0 2 0 1 0-9 0 18 0-10 0-3 1-5 0-11 0 12 0 11 0-6 0 0 0-12 0 7 0-2 0 15 1 10 0-22 0 11 0-6 0-5 0 5 0 0 0-3 0-1 0 4 0-4 1-3 0-4 0 13 0-6 0 0 0 9 0-4 0-13 0 8 0 5 0-4 1 2 0-1 0 0 0 3 0-2 0 8 0-14 0 12 0 1 0-19 1 2 0 4 0 2 0 3 0-10 0 17 0-1 0-11 0 9 0-10 0-1 1 20 0-16 0 6 0-16 0 16 0-3 0 14 0-8 0 0 0-18 0 16 1-4 0 19 0-28 0-1 0 3 0 4 0 9 0-9 0 1 0-1 1 9 0-14 0 3 0 1 0 4 0-1 0 2 0-2 0-12 0 11 0 3 1-3 0-14 0 5 0 14 0-8 0-8 0 20 0-9 0-3 0 10 0-10 1 3 0 11 0-11 0-2 0 0 0-2 0 7 0 22 0-33 0 16 0-8 1-9 0 12 0-9 0 2 0 20 0-20 0 4 0 4 0-14 0 3 0 30 1-18 0-6 0 7 0 5 0-10 0 1 0-13 0 17 0-8 0 6 1 1 0-6 0 3 0-9 0-1 0 11 0-15 0 15 0-17 0 4 0 4 1 19 0-5 0-9 0 10 0-5 0-4 0 3 0-4 0-3 0 2 0 0 1 2 0-4 0-2 0 13 0-17 0 8 0 11 0-10 0 1 0 7 1-11 0 13 0 3 0-8 0 0 0-7 0-1 0 10 0 2 0 0 0 6 1-23 0-1 0 1 0 3 0 13 0-8 0-10 0 19 0-17 0 3 0 9 1 4 0-26 0 34 0-9 0 3 0-8 0-1 0-14 0 14 0-4 1 7 0-11 0 4 0 14 0-4 0 0 0-11 0 8 0 7 0-17 0 9 1-10 0 3 0 13 0-7 0 5 0-19 0 3 0 12 0-3 0-3 0-1 1 5 0 5 0 11 0-17 0-1 0 0 0-2 0 9 0-7 0 0 1-9 0 9 0 2 0 2 0 10 0-17 0 8 0 5 0-3 0-7 0 17 1-15 0-3 0 2 0-1 0-1 0-4 0 17 0-15 0 8 0-15 0 11 1-5 0-4 0 19 0-11 0 14 0-6 0-9 0 2 0 10 0-17 1 14 0-4 0 5 0-9 0-3 0-2 0 1 0 8 0-3 0-6 0 1 1 7 0-4 0-3 0 11 0 8 0-6 0-7 0 8 0-15 0 14 0-12 1 2 0-3 0 0 0 6 0 4 0 0 0-3 0-10 0 9 0-2 1-6 0-12 0 12 0 15 0-18 0 21 0-16 0-5 0 28 0-10 0-8 1-4 0 13 0-6 0 3 0 3 0-8 0 5 0 13 0-12 0-11 0 8 1-5 0-4 0 8 0 2 0 11 0-13 0-5 0 11 0-15 0 10 1-1 0-7 0 9 0-3 0-11 0 3 0-2 0 19 0-5 0-9 0-3 1 1 0 5 0-1 0-3 0 0 0 0 0 3 0 4 0 0 0 3 0-8 1-1 0 5 0 1 0-4 0 4 0 11 0-11 0 2 0 2 0 0 1-3 0-3 0 6 0-4 0-10 0-3 0 26 0-15 0 3 0 15 0-10 1-36 0 22 0 14 0-21 0 8 0 11 0-11 0 10 0-6 0-4 0 9 1 0 0 0 0-21 0 23 0-13 0 14 0-9 0 12 0-13 0 1 1 6 0 3 0 1 0-11 0 4 0-14 0 28 0-2 0-14 0-2 0 2 1-12 0 17 0 5 0-2 0 2 0-18 0 12 0 7 0-11 0 1 0 12 1-9 0-2 0-3 0-9 0 5 0 4 0 0 0-8 0 9 0 13 1-1 0-5 0-7 0-8 0 25 0-20 0 14 0-19 0-4 0 10 0-12 1 11 0 5 0-3 0-2 0 9 0-8 0 7 0 2 0-5 0 4 0-7 1-4 0 9 0-11 0 7 0 20 0-15 0 9 0 13 0-27 0 10 1-16 0 4 0 11 0-8 0 10 0-6 0-6 0-2 0-9 0 20 0-16 1 4 0 6 0 4 0-7 0 6 0 4 0-8 0-3 0 8 0-5 0 10 1-9 0 0 0 11 0-31 0 28 0-8 0-2 0 11 0-10 0 18 1-12 0-9 0 11 0-1 0-14 0 29 0-10 0-10 0 1 0-9 0 14 1-8 0-8 0 17 0-30 0 13 0 9 0-4 0-2 0 2 0 1 1 0 0 0 0 5 0 1 0-19 0 16 0-3 0 10 0 1 0-7 0-3 1 4 0-2 0 2 0 8 0-11 0-8 0 16 0-11 0 11 0-13 0 1 1 13 0-23 0 4 0 14 0-4 0-14 0 8 0 6 0-6 0 8 1-2 0-2 0 2 0 0 0 5 0-6 0-3 0 3 0-8 0-5 0 15 1-8 0 4 0-2 0-2 0 2 0 14 0-24 0 9 0 10 0-7 0 17 1-25 0 3 0 14 0-12 0 7 0 4 0 0 0-13 0-6 0 1 1 15 0 5 0-11 0 7 0-2 0-2 0 4 0 2 0 9 0-5 0-20 1 18 0-9 0-3 0 6 0 8 0-6 0-3 0 5 0-13 0 10 0-2 1-4 0 6 0-15 0 26 0-14 0-7 0 15 0 6 0-9 0-6 1-1 0-6 0 19 0 0 0-9 0 24 0-36 0 15 0-5 0 1 0-11 1 15 0-6 0 0 0 14 0-17 0 6 0-4 0 9 0 7 0-6 0-3 1 2 0-17 0 24 0-17 0 5 0-3 0-3 0 21 0-17 0 7 1-9 0 32 0-25 0-1 0-7 0 3 0 6 0-4 0 1 0 5 0 6 1-18 0 7 0-4 0 4 0-8 0 11 0-10 0 1 0 6 0 1 0-6 1-2 0 7 0-9 0 5 0 4 0-5 0 9 0-2 0 0 0 5 1-12 0 1 0 5 0-7 0 1 0-1 0 4 0 3 0 1 0-1 0 4 1-2 0-2 0-18 0 9 0 3 0 11 0-22 0 13 0 7 0-3 0 7 1-10 0 9 0-22 0 15 0-10 0 9 0 5 0-9 0-2 0 15 1-10 0-4 0-11 0 0 0 20 0-6 0-3 0-1 0 1 0 0 0 8 1-4 0 9 0-15 0 11 0-14 0 11 0-7 0-4 0 8 0-2 0 17 1-11 0-8 0 10 0-13 0 9 0 2 0 1 0-15 0-2 0 15 1 10 0-7 0-2 0-1 0-5 0 8 0-17 0 12 0-10 0 0 0 10 1 6 0-10 0 5 0 3 0 5 0-1 0-11 0-1 0 2 0 0 0-3 1 8 0-9 0 7 0 7 0-7 0-5 0-2 0 9 0 0 0-4 1 1 0-5 0-19 0 47 0-29 0-11 0 14 0 18 0-6 0-20 0 16 1-10 0 7 0-4 0 7 0-1 0 7 0-24 0 17 0-20 0 12 0-1 1 11 0-12 0 8 0-9 0-9 0 23 0-9 0 5 0-4 0 12 1-9 0 3 0 5 0-3 0-14 0 12 0-23 0 25 0-16 0 6 0-3 1-1 0 18 0-13 0-2 0 1 0 8 0-2 0 5 0-13 0 0 0 10 1-8 0 14 0-33 0 27 0-4 0-1 0 16 0-34 0 19 0-11 1-5 0 14 0-4 0 11 0-15 0 3 0 11 0-18 0 20 0-7 0 0 1 0 0-9 0 8 0 2 0 0 0-7 0 4 0 2 0-1 0 7 0-7 1-1 0 16 0-6 0-3 0-3 0-8 0-6 0-3 0 13 0 11 1-7 0-7 0-3 0 4 0 17 0-10 0 7 0-7 0-11 0 7 0-6 1 1 0-1 0 6 0 15 0-23 0 6 0-9 0 13 0 0 0-8 1 8 0-4 0 2 0 3 0 10 0-21 0 11 0-2 0-4 0 17 0-9 1-18 0 15 0-8 0 26 0-17 0-2 0 7 0 6 0-18 0 5 0-10 1 5 0 8 0-13 0 19 0-35 0 26 0-1 0 12 0-6 0-18 1 19 0-12 0 8 0-12 0 15 0-8 0 2 0 10 0-13 0 8 0-10 1-4 0 13 0-3 0-1 0-8 0 14 0-3 0 2 0 0 0 2 0-6 1-1 0 33 0-43 0 11 0-4 0-4 0-2 0 10 0 4 0 7 0-8 1 12 0-21 0 6 0-13 0 16 0 1 0 4 0-1 0 2 0-5 0-6 1 14 0-24 0 28 0-12 0-15 0 12 0-1 0 6 0-16 0 8 0 8 1-12 0-4 0 3 0 14 0-6 0-1 0 11 0 8 0-19 0 5 1-3 0 6 0-6 0-13 0 10 0-3 0 16 0-5 0 3 0-12 0-2 1 15 0-21 0 21 0-8 0 5 0-10 0-10 0 4 0-2 0 14 0-3 1-15 0 22 0-12 0 6 0-12 0 4 0 4 0-8 0 6 0 0 1 3 0-4 0-12 0 6 0 1 0 7 0-5 0 4 0 10 0-7 0 1 1-8 0 20 0-10 0 10 0-15 0 15 0-15 0-3 0-1 0 4 0-5 1 10 0-5 0-5 0 12 0-3 0-4 0-4 0 6 0 6 0 4 1-10 0-9 0 17 0-6 0-8 0 15 0-3 0-18 0 14 0-5 0 2 1-6 0 13 0-18 0 14 0-4 0 9 0-17 0 10 0 9 0-3 0-3 1-8 0 3 0 8 0-8 0-1 0 3 0-6 0 58 0-59 0 11 0 11 1-6 0-8 0 3 0-7 0 19 0-15 0 4 0-4 0-8 0 11 0-11 1 1 0 5 0-10 0 8 0 0 0-10 0 4 0 3 0 10 0-10 0 9 1 0 0-17 0 24 0 9 0-22 0 10 0-2 0-18 0 7 0 3 1 7 0-18 0 20 0-4 0-5 0 3 0 3 0-4 0-4 0 9 0-13 1-5 0 15 0 14 0-15 0-3 0-4 0 15 0 6 0-10 0-10 0 4 1-9 0 17 0-15 0 15 0-4 0-3 0 4 0 7 0 5 0-4 1-1 0-12 0-9 0 6 0 6 0-2 0 10 0-8 0-1 0-2 0 4 1 0 0-17 0 39 0-25 0 6 0-9 0 17 0 11 0-24 0-2 0-4 1 3 0 4 0 5 0-11 0-4 0 6 0 11 0-19 0 21 0-10 1-11 0 14 0-2 0 8 0-7 0 2 0-7 0 9 0-24 0 20 0-5 1-8 0 18 0-9 0 3 0 5 0 3 0-3 0-9 0 1 0 18 0-20 1 0 0 7 0 3 0-4 0-11 0 8 0 7 0-4 0-5 0 7 1-13 0 14 0-9 0-1 0 11 0-3 0-11 0 5 0 6 0 5 0-3 1-8 0 10 0 4 0-12 0-8 0 10 0 0 0-4 0-5 0-2 0 20 1-17 0 18 0-9 0 4 0-10 0 12 0-21 0 19 0-7 0-3 1 11 0-19 0-1 0 21 0-5 0 0 0-15 0 16 0-9 0-1 0 17 1-8 0-7 0 15 0-14 0-2 0 10 0 18 0-26 0 0 0 7 1-1 0 8 0-8 0-3 0 6 0-7 0 2 0-15 0 13 0 4 0-8 1-5 0 11 0 4 0-13 0 3 0 0 0 2 0 5 0-8 0 7 0 11 1-12 0 2 0-4 0-5 0 4 0 6 0-13 0 19 0-5 0 5 1-1 0-7 0 9 0-8 0-10 0 22 0-6 0-13 0 5 0 7 0 9 1-23 0-5 0 24 0-7 0 4 0 10 0-16 0 8 0-16 0 0 0 1 1 3 0 1 0-7 0-5 0-2 0 25 0-3 0-6 0 2 0-11 1 4 0-1 0 5 0-2 0 11 0-4 0-4 0 0 0-16 0 23 0-17 1 9 0-7 0 19 0-11 0 6 0-13 0 6 0 4 0-10 0 11 0 2 1-10 0 4 0-3 0-2 0 11 0-6 0-19 0 22 0 2 0-11 1-1 0 4 0 16 0-11 0-8 0-7 0 6 0 14 0-18 0 6 0 4 1 17 0-17 0-5 0-6 0 10 0-1 0 4 0-7 0 1 0 17 0-16 1 5 0-1 0-1 0-3 0 0 0-1 0-3 0 8 0-6 0 7 1-15 0 9 0 6 0 11 0 8 0-14 0 14 0-28 0-6 0 24 0-8 1 1 0 0 0 1 0-12 0 6 0-3 0-8 0 9 0 3 0 0 0 9 1-6 0-9 0-2 0 4 0 12 0-14 0-1 0 3 0 13 0-14 1 6 0 10 0-11 0 5 0 4 0-7 0 0 0-2 0-1 0-5 0 5 1 8 0 6 0 8 0-17 0-3 0-2 0 3 0-2 0 4 0-5 0-8 1 10 0 1 0-2 0 4 0-2 0 24 0-32 0-3 0 18 0-10 1-1 0-11 0 20 0-14 0-6 0 16 0-6 0-10 0 15 0-3 0-16 1 14 0 5 0 3 0 4 0-13 0 2 0-4 0-6 0 18 0-8 0 3 1 1 0 5 0-16 0 21 0-17 0 10 0-1 0-2 0-11 0 5 1 9 0-3 0-4 0 7 0-9 0 2 0 9 0-14 0 13 0-3 0 1 1-2 0-4 0 10 0-2 0-7 0-1 0-9 0 20 0-16 0 4 0-9 1 6 0 25 0-25 0 11 0-12 0 1 0 12 0-6 0-10 0 12 1-9 0 12 0 4 0 3 0-11 0 7 0-7 0-1 0-8 0 1 0-2 1-2 0 12 0-1 0 5 0 8 0-4 0-15 0 22 0-1 0-22 0-8 1 17 0 10 0-7 0-1 0 5 0-1 0-12 0-1 0 21 0-10 1 4 0-23 0 10 0-9 0 8 0 5 0-5 0 9 0-1 0-6 0 10 1-24 0 20 0 0 0 1 0 12 0-5 0-9 0 3 0-8 0 5 0 1 1-7 0 6 0-3 0-4 0-3 0 5 0-2 0 1 0 1 0 0 1 9 0-4 0 2 0-6 0-5 0 1 0 2 0 7 0 4 0-9 0 4 1-5 0-4 0-5 0 4 0 3 0 7 0 12 0-13 0 6 0-12 0-3 1 4 0 4 0 1 0 6 0-8 0-9 0 20 0-14 0-17 0 12 1 13 0-11 0 9 0-11 0 2 0 2 0 2 0 12 0-5 0 16 0-19 1-1 0 6 0-14 0 6 0 1 0 12 0-18 0-7 0 12 0-6 1 14 0-3 0 3 0-2 0-4 0 3 0-1 0-11 0 16 0-10 0 17 1-25 0 13 0 3 0-7 0-2 0 1 0-5 0 16 0-11 0-3 0 6 1-11 0 11 0 3 0-5 0 7 0-12 0-2 0 2 0 17 0-26 1 13 0 14 0-8 0 2 0 2 0-5 0-12 0 18 0 2 0-5 0-7 1-4 0 1 0 8 0-1 0-1 0-21 0 15 0 10 0 8 0-5 0-12 1 5 0 7 0-3 0-5 0 11 0-5 0-6 0 0 0-23 0 29 1-4 0-11 0 8 0-8 0 11 0 2 0 2 0-1 0 1 0-12 0-2 1 8 0 1 0-8 0-2 0 11 0-6 0 5 0 1 0-16 0 17 0-9 1 6 0 1 0-7 0 0 0 14 0-2 0-9 0-16 0 31 0-4 1-15 0 13 0-13 0 14 0 0 0-8 0 2 0 0 0-3 0 17 0-15 1 6 0 1 0-5 0 1 0-4 0-18 0 25 0 2 0 18 0-21 0-11 0 9 1-12 0 15 0-12 0 17 0-15 0 4 0 9 0-15 0 7 0-8 1 4 0 5 0 4 0-9 0 6 0-1 0-9 0 17 0-17 0 7 0-4 1 5 0-9 0 16 0-1 0-5 0-4 0-4 0-3 0 13 0-2 0 16 1-1 0-27 0 12 0-3 0 11 0 7 0-27 0 10 0-22 0 26 1-8 0 6 0 3 0-5 0-4 0-10 0 18 0-13 0 13 0-8 0 11 1-8 0 12 0-11 0 3 0-1 0-5 0-1 0 17 0-9 0 3 0-16 1 28 0-16 0-20 0 20 0-2 0-12 0 12 0-2 0 3 0 0 1-1 0-2 0-12 0 14 0 1 0-8 0 10 0-7 0-3 0 6 0 3 1 0 0-5 0 19 0-6 0-11 0 7 0-12 0 3 0 5 0-3 0 3 1-4 0-12 0 8 0 6 0-4 0 6 0 6 0-20 0 16 0-9 1 7 0-4 0 4 0-8 0 9 0-20 0 20 0 1 0 18 0-24 0-10 1 16 0-12 0 3 0 14 0-13 0-2 0-3 0 1 0 15 0-5 0 2 1-2 0-4 0 8 0-12 0 5 0-8 0-5 0 27 0-24 0 8 1 3 0-1 0-9 0 9 0-11 0 10 0 6 0-3 0-6 0-8 0 13 1 6 0-1 0-7 0 1 0 12 0-5 0 4 0-1 0-15 0 5 0 1 1-5 0 9 0 2 0-8 0 3 0 7 0-16 0 1 0-2 0 8 1 6 0-10 0-2 0 4 0 21 0-22 0 26 0-19 0-7 0 11 0-12 1 13 0-12 0 4 0 3 0-7 0 7 0-10 0 7 0 3 0-9 0-12 1 10 0 15 0-7 0 5 0-16 0 3 0 8 0 2 0-14 0-2 1 17 0 5 0-10 0 10 0-15 0 4 0 6 0-6 0 20 0-6 0-1 1-17 0 3 0 15 0-14 0-8 0 9 0 0 0-2 0-5 0 26 1-20 0-3 0-2 0 6 0-8 0 19 0-10 0-3 0 20 0-35 0 24 1 1 0-2 0 3 0-10 0 16 0-20 0 2 0 11 0-1 0-12 0 9 1-7 0 1 0 4 0 0 0 3 0-4 0 8 0-18 0 14 0-21 1 27 0-14 0-4 0 18 0 8 0-5 0-12 0-1 0 2 0 0 0-1 1-4 0 2 0-3 0 4 0 6 0-6 0 8 0-9 0 8 0-14 0 14 1-6 0-7 0 5 0 5 0-7 0 8 0-18 0 1 0-5 0 24 1-15 0 14 0-9 0 4 0-9 0 8 0 1 0 7 0-2 0-13 0 4 1 24 0-19 0 4 0-20 0 17 0-11 0 5 0 8 0-6 0 1 0-8 1 4 0-2 0 3 0 4 0-8 0 14 0-1 0-6 0-12 0 10 1 16 0-9 0-5 0 8 0-7 0-10 0 9 0-4 0-11 0 15 0 9 1-3 0 1 0 0 0-7 0-5 0 5 0-3 0 5 0-4 0 11 0-11 1 8 0 5 0-9 0 3 0 5 0-14 0 27 0-42 0 13 0 3 1 2 0-9 0 12 0 7 0-16 0 4 0-6 0 1 0 9 0-2 0 1 1 7 0-18 0 4 0 10 0 2 0-1 0-10 0 10 0-8 0 9 0-9 1 30 0-24 0 4 0-4 0-4 0 1 0 9 0-6 0-9 0 5 0 7 1-4 0-8 0 3 0 1 0-6 0 5 0 12 0-3 0-3 0 8 0 4 1-14 0 11 0-13 0 6 0 2 0 3 0-10 0 13 0-2 0-12 0-1 1-1 0 16 0 0 0-9 0-7 0-4 0 8 0 0 0 16 0-19 1 6 0-7 0-9 0 5 0 0 0 15 0-14 0 6 0-1 0 15 0 0 1-15 0 9 0-7 0-10 0-2 0 5 0 0 0 8 0 4 0 2 0-5 1-4 0-12 0 8 0 4 0-12 0 14 0-1 0-13 0 22 0-7 1 6 0-29 0 23 0 4 0-10 0 3 0 11 0 2 0-13 0 4 0-14 1 2 0 4 0 5 0-9 0 26 0-13 0-16 0 20 0-9 0 1 0 3 1-10 0 4 0 3 0 9 0-10 0 1 0-5 0-1 0 14 0 2 1-8 0-3 0 1 0-3 0 9 0-3 0 2 0-4 0-6 0 4 0 35 1-33 0 4 0 2 0-9 0 5 0 5 0-11 0 6 0 6 0-13 0 14 1 1 0-14 0 20 0-23 0 10 0-16 0 17 0-6 0-4 0 2 1 9 0-3 0 3 0-1 0-3 0-11 0-1 0 11 0-4 0 11 0 4 1-5 0-9 0 8 0 5 0-33 0 20 0 10 0-11 0 9 0-2 0 1 1-15 0 3 0 6 0 3 0 5 0-13 0-13 0 21 0-7 0 14 1-11 0 3 0-9 0 12 0 1 0 4 0 4 0-5 0 2 0-10 0-7 1 4 0 1 0 4 0 3 0-6 0-5 0-3 0 6 0 3 0-8 0 11 1 9 0-9 0-12 0 4 0 0 0 3 0-2 0 5 0 7 0-19 1 11 0-2 0 4 0-7 0 18 0-19 0 11 0-1 0-3 0 10 0-11 1-1 0-5 0 5 0-3 0 4 0 16 0-23 0 12 0 2 0-10 1 7 0-6 0 19 0-24 0 5 0 10 0-8 0 11 0-7 0-4 0-16 1 33 0-24 0 18 0-17 0-8 0 12 0 10 0 10 0-3 0-25 0 13 1-5 0 0 0 17 0-18 0 16 0-11 0 7 0-19 0 11 0-5 1 0 0 12 0-18 0 14 0 8 0-20 0 12 0-8 0 4 0-8 0 5 1 11 0-8 0-6 0 6 0-8 0 0 0 14 0-19 0 20 0 14 0-28 1 11 0-8 0-7 0 12 0-12 0 16 0 3 0-6 0-2 0-13 1 8 0-1 0 0 0 1 0 1 0 12 0-8 0 3 0-14 0 11 0-9 1 7 0-5 0 5 0 2 0 7 0-14 0 17 0-6 0-5 0 12 0-6 1-14 0 7 0 10 0-18 0 23 0-6 0-7 0-2 0 4 0 1 1-4 0 0 0-1 0 27 0-22 0 4 0-12 0 14 0-9 0-5 0 13 0-10 1 15 0-18 0 5 0 8 0-10 0 9 0-6 0-1 0 1 0 1 0 16 1-19 0-7 0-4 0 16 0-4 0 3 0-17 0 4 0 15 0-4 1 2 0-11 0 13 0-4 0-13 0 11 0 5 0-1 0 2 0 18 0-24 1 14 0-10 0 12 0-8 0-4 0-6 0 12 0 7 0-5 0 8 0-12 1-5 0-12 0 20 0-13 0 9 0-16 0-7 0 5 0 8 0 12 1-12 0 6 0-3 0-11 0 19 0-7 0-5 0 1 0 2 0 8 0 8 1-18 0 8 0 10 0-5 0-16 0 18 0-4 0-8 0-3 0 9 0 2 1-3 0-1 0-5 0-17 0 59 0-31 0-20 0 5 0 1 0 1 0-6 1 20 0-13 0 0 0 12 0-4 0 2 0-4 0-10 0 0 0-2 0 12 1 1 0 4 0-6 0 16 0-14 0-5 0-7 0 12 0-6 0 0 0 4 1 7 0-6 0-12 0 11 0 2 0 3 0-17 0 2 0-3 0 16 1 7 0-16 0 2 0 2 0 0 0-11 0 2 0 13 0-17 0 19 0 2 1-5 0 1 0-4 0-5 0 3 0 0 0 4 0-2 0 0 0 13 0-20 1 7 0 9 0-8 0 4 0-19 0 25 0-9 0 1 0-4 0 2 1 5 0 1 0-2 0-12 0 3 0 5 0 3 0 4 0-13 0 11 0-12 1 10 0 4 0-6 0-22 0 24 0-12 0 2 0 24 0-20 0 7 0-6 1 13 0-16 0 9 0-6 0 11 0-14 0 4 0 3 0-4 0 6 1-16 0 17 0-12 0 3 0 2 0 5 0 8 0-2 0 2 0-6 0-18 1 13 0 5 0-10 0 6 0 1 0-9 0 16 0 1 0-17 0 7 0-4 1 7 0-6 0 5 0 3 0-21 0 15 0-4 0 8 0 2 0 1 1-8 0 3 0-1 0 1 0 1 0-4 0 2 0 1 0-4 0-1 0 6 1 1 0-3 0 5 0-16 0 9 0 3 0-4 0 2 0-6 0 6 0-4 1-2 0 9 0 8 0-7 0-3 0 0 0 3 0-2 0 12 0-9 1-4 0 6 0-7 0-2 0 3 0-3 0-3 0 6 0-9 0-1 0-6 1 15 0-11 0 2 0 12 0-7 0 2 0 5 0-4 0-5 0-2 1 20 0-6 0-2 0 15 0-17 0-22 0 32 0-21 0 7 0 7 0-2 1-1 0-3 0 14 0-11 0-7 0 14 0-5 0-3 0-1 0-6 0-2 1 3 0 3 0-5 0 11 0 8 0-23 0 8 0 13 0-5 0-11 1 1 0 5 0-11 0 0 0 14 0-3 0 10 0-22 0 15 0 2 0-10 1 50 0-49 0 2 0 12 0-9 0-15 0 12 0 13 0-8 0-1 0-3 0-4 1 15 0-2 0 2 0-11 0-2 0 3 0-1 0 11 0-27 0 15 1-12 0 6 0-2 0 13 0-7 0 4 0 28 0-38 0-5 0 11 0 3 1-5 0 11 0-11 0 8 0-1 0-14 0 18 0-15 0 7 0-2 0 19 1 2 0-19 0-1 0 5 0 2 0 8 0-14 0-1 0-3 0 8 1-13 0 18 0-10 0-10 0 2 0 12 0-14 0 5 0 14 0 1 0 3 1-4 0-4 0 6 0-18 0 6 0 5 0 1 0-9 0 20 0-19 0 9 1 4 0-16 0 25 0-13 0-6 0 3 0-2 0 7 0-2 0 8 1 2 0-19 0 13 0 5 0-12 0 13 0-12 0-15 0 6 0 12 0 6 1-8 0 7 0-7 0-11 0 19 0 73 0-1 0-1 0 0 0 4 0 2 1 1 0-11 0 8 0 1 0-3 0-4 0 6 0-3 0 0 0-3 1 4 0-5 0 9 0-4 0-1 0 0 0 2 0 0 0-1 0 3 0-2 1-4 0 2 0 3 0 2 0-2 0 1 0-4 0-5 0 0 0 14 0-2 1-5 0-9 0 3 0 5 0 6 0 2 0-8 0 1 0-1 0-2 1 3 0-2 0-7 0 11 0-4 0 6 0-5 0 3 0 5 0-3 0-10 1 11 0-6 0 0 0 0 0 0 0 0 0 1 0 3 0-2 0 0 0 6 1-7 0-5 0 5 0 0 0 3 0-6 0 1 0 0 0 8 0-12 1 5 0 5 0-7 0-3 0 1 0 8 0-10 0 7 0 2 0-7 0 3 1 4 0-8 0 1 0 8 0-5 0 2 0-3 0 4 0-2 0 2 0-5 1 7 0-4 0-4 0 7 0-3 0 5 0-3 0-5 0 3 0 0 1 1 0 3 0 4 0-6 0-6 0 6 0-5 0 6 0-7 0 4 0 2 1 3 0-4 0 1 0-1 0 10 0-11 0 0 0 2 0 3 0-8 0 4 1 1 0 2 0-9 0 7 0-2 0 2 0 1 0 1 0-3 0-2 1 6 0-3 0 1 0-9 0 5 0-5 0 3 0 10 0-9 0 6 0-11 1 15 0-10 0 3 0-3 0 1 0 2 0-4 0 2 0 1 0 3 0 2 1-6 0-3 0 2 0-3 0 6 0 0 0-2 0 2 0-2 0 6 1-2 0-1 0 1 0-3 0-4 0 10 0-5 0-6 0 3 0 6 0-8 1 6 0-1 0 1 0-2 0 2 0-6 0 4 0-1 0 1 0 2 0-3 1 0 0 9 0-9 0 7 0-11 0 9 0-6 0 1 0 3 0-5 1 4 0-1 0 4 0-6 0 6 0-7 0 1 0 4 0-3 0 1 0 8 1-8 0-3 0 3 0 7 0-9 0 5 0-6 0 8 0-11 0 3 1-1 0 11 0-1 0-3 0-3 0 1 0-2 0 0 0-3 0 10 0 1 1-2 0-10 0 7 0-1 0-3 0-3 0 7 0-7 0 3 0 10 0-8 1 1 0-4 0 2 0-1 0-3 0 3 0 4 0-2 0 3 0-2 1 0 0 4 0-5 0-7 0 5 0 5 0 0 0-3 0-2 0 9 0-7 1 5 0-4 0 0 0-1 0-1 0-1 0 2 0-5 0 9 0-2 0-3 1 0 0-1 0 6 0-3 0-1 0-3 0 9 0-3 0-7 0 6 1 2 0-5 0 5 0-8 0 9 0-2 0-1 0 0 0-4 0 6 0-4 1-3 0 1 0-1 0 1 0 13 0-12 0 5 0-6 0 11 0-9 0 2 1-5 0 10 0-3 0-6 0 3 0-3 0 5 0 0 0-6 0-2 1 3 0 3 0 1 0-3 0 4 0-6 0 8 0-4 0-3 0-1 0 1 1-1 0 4 0-2 0 7 0-11 0 7 0 5 0-5 0 2 0-1 0-3 1 4 0-6 0 6 0-3 0-1 0-6 0 12 0-2 0-4 0-1 1 3 0 1 0 2 0-1 0-4 0-4 0 12 0-3 0-2 0-1 0-2 1-5 0 6 0 0 0-3 0 8 0-4 0-3 0 0 0 8 0-10 0 7 1 1 0 1 0-7 0-1 0 11 0-11 0 5 0 1 0 1 0 2 1-12 0 6 0 2 0-1 0-1 0-2 0 3 0-2 0 0 0-4 0 5 1-4 0 1 0 7 0-4 0 4 0-7 0 4 0 3 0-7 0-1 0 3 1 5 0-3 0 0 0 2 0-5 0 4 0-2 0-3 0 11 0-6 1-8 0 6 0 0 0 0 0-6 0 2 0-1 0 7 0 1 0-4 0 6 1-5 0 7 0-3 0-8 0 8 0-3 0-7 0 3 0 4 0 1 0-3 1 1 0 4 0 0 0-5 0 2 0-3 0 3 0 1 0 7 0-9 1-1 0 0 0-3 0-2 0 5 0-2 0 7 0-7 0 2 0-5 0 9 1 0 0 2 0-6 0-6 0 0 0 7 0 4 0-4 0 4 0-6 0 5 1 1 0-3 0-2 0 2 0-3 0-2 0 10 0-3 0 0 0-2 1-3 0 2 0 0 0 0 0-3 0 1 0 3 0 0 0-7 0 13 0-7 1 5 0 0 0-2 0-5 0 4 0-11 0 8 0 4 0-7 0 10 0-4 1-1 0-7 0 12 0-8 0 2 0 0 0-6 0 6 0-3 0 1 1 3 0-6 0 2 0 0 0 2 0 0 0 5 0-7 0-3 0-2 0 2 1 5 0 6 0-7 0 1 0-1 0 3 0 2 0-2 0 0 0 4 0-14 1 12 0-6 0 0 0 4 0 1 0-11 0 13 0 0 0-4 0 2 1-7 0 5 0-6 0 2 0 7 0-7 0 7 0-3 0-2 0 4 0-4 1 1 0 7 0-6 0 2 0-2 0 2 0-6 0-3 0 12 0-4 0 0 1-1 0-1 0-1 0 3 0-3 0 1 0-2 0 5 0 4 0-8 1 0 0-1 0 4 0 7 0-7 0-4 0 3 0-2 0 4 0-2 0 3 1-3 0 4 0-5 0-3 0-2 0 8 0-5 0 2 0-5 0 2 1 1 0 3 0 3 0-4 0 2 0-2 0-1 0 5 0 2 0-4 0-2 1 2 0 2 0 2 0-5 0 0 0 0 0 3 0-7 0 5 0-7 0 4 1 6 0-4 0 1 0-1 0 0 0 4 0-4 0 1 0 1 0-2 1-1 0 1 0 5 0-5 0-2 0-1 0-2 0 6 0 0 0 96 0-90 0-3 1-9 0 6 0 1 0-1 0-3 0 3 0 0 0 3 0-4 0 2 0 0 1-6 0 0 0 3 0 0 0-4 0 1 0 2 0 2 0-4 0 3 1 3 0-5 0 0 0-2 0 9 0-3 0-7 0 7 0-5 0 9 0-7 1 4 0-1 0 4 0-6 0 3 0-1 0-3 0 5 0-7 0 7 0 3 1-5 0-1 0-1 0 2 0 5 0-7 0 3 0-5 0 2 0 1 1-5 0 8 0-6 0-1 0 10 0-13 0 12 0-8 0 3 0 2 0-8 1 5 0-1 0-3 0 6 0-1 0-2 0 5 0-6 0 4 0 1 0-6 1 6 0 0 0-4 0 3 0-5 0 4 0 3 0-9 0 5 0-6 1 10 0-6 0 1 0 2 0-2 0 3 0-5 0 0 0 4 0-2 0 1 1 6 0-6 0 1 0 2 0-4 0 0 0-4 0 1 0 7 0-1 0 1 1-4 0 5 0-6 0-1 0-2 0 9 0-2 0 1 0-1 0 3 1-10 0 5 0-5 0-2 0 12 0-3 0-2 0 4 0-1 0 2 0-3 1 1 0-3 0 1 0-6 0 9 0-2 0 2 0-6 0-3 0 2 0 1 1-5 0 9 0 3 0-7 0 7 0-5 0 3 0-3 0-9 0 7 1 4 0-6 0 7 0-2 0 1 0-2 0 7 0-12 0 8 0-5 0 4 1-4 0 0 0 5 0-6 0 10 0-7 0-4 0 13 0-12 0 7 0-3 1 0 0 3 0-2 0-1 0 0 0 4 0-7 0-7 0 11 0 5 1-3 0-9 0 4 0 4 0-7 0 0 0 2 0 7 0-5 0-2 0-1 1 6 0 0 0 0 0-8 0-4 0 0 0 12 0-2 0 1 0-1 0 0 1 3 0-2 0 0 0-2 0 3 0 5 0-10 0 3 0 1 0 4 1-6 0 5 0-4 0 2 0-2 0 3 0-3 0 4 0-12 0 8 0 3 1-13 0 11 0-6 0-3 0 9 0-6 0 6 0-4 0 2 0 1 0-2 1 4 0-4 0 8 0-10 0 4 0-1 0 0 0-7 0 14 0-8 1 2 0 1 0-7 0 6 0-3 0 5 0-2 0 12 0-6 0-3 0 2 1-2 0 4 0-8 0 15 0-13 0 1 0 10 0-13 0 8 0-9 0 10 1-7 0 6 0 0 0-4 0 4 0-3 0 1 0 1 0-5 0 6 1-9 0 8 0-3 0 6 0-2 0-4 0 4 0 1 0-5 0 1 0-1 1 1 0 1 0 0 0 0 0-2 0 17 0-14 0 2 0-1 0-5 0 10 0-8 1 2 0 0 0-6 0 7 0-1 0-2 0 2 0 3 0-3 0-6 1 9 0-2 0-5 0 7 0-6 0 1 0-5 0 14 0-9 0-2 0 5 1-3 0-1 0 0 0 3 0-2 0 1 0-4 0 1 0 5 0 2 1-10 0 6 0 3 0-2 0 2 0 0 0-8 0-1 0 7 0 0 0 2 1-8 0 8 0-2 0-3 0 11 0-13 0 8 0-3 0 6 0 0 0-4 1-7 0 7 0-3 0-9 0 11 0 3 0-8 0-2 0 5 0-1 1 0 0 4 0-9 0 3 0 0 0 0 0 4 0-3 0 2 0 0 0 0 1-3 0 2 0 0 0 2 0-3 0 2 0-2 0 4 0 0 0-3 0 6 1-5 0 0 0 0 0 0 0 0 0 2 0-3 0 8 0 0 0-1 1-8 0 2 0 7 0-1 0-5 0 3 0-4 0 1 0 3 0-7 0 1 1 4 0-2 0 2 0-1 0 2 0-1 0-5 0 5 0-7 0 3 0 0 1-4 0 11 0-2 0-3 0 2 0 0 0-2 0-3 0 11 0-6 1-4 0 11 0-12 0 2 0 2 0-1 0-2 0-1 0 2 0 1 0-1 1-1 0-2 0-2 0 14 0-5 0-5 0 7 0-9 0 7 0-5 0 11 1-12 0 5 0-7 0 6 0-1 0-4 0 5 0-7 0 3 0 6 1-1 0-4 0 0 0 2 0-4 0 2 0 6 0 0 0-11 0 5 0 0 1 1 0-1 0 3 0-2 0 3 0 1 0-4 0-1 0-1 0 2 0 6 1-7 0 0 0-3 0-1 0 5 0 4 0 0 0-7 0 6 0 2 1 1 0-2 0-4 0-2 0 4 0 3 0-3 0-3 0 4 0-5 0 6 1-2 0 0 0-4 0 6 0 3 0-8 0 5 0-3 0-2 0 3 0 6 1-8 0 3 0-4 0-2 0 3 0 3 0 0 0-1 0-2 0 3 1-9 0 5 0-3 0 5 0 2 0-8 0 8 0-3 0 1 0 3 0-8 1 6 0-2 0-4 0 11 0-2 0-3 0 0 0-2 0 2 0-6 0 3 1 7 0-3 0-8 0-2 0 10 0-3 0-1 0 1 0-3 0 4 1-2 0 2 0 3 0-3 0-2 0 5 0-2 0 2 0 0 0-4 0-3 1 5 0 1 0-1 0-7 0 9 0-9 0 5 0 4 0 3 0-2 0-9 1 11 0-5 0 4 0-9 0 4 0 1 0 3 0-8 0 11 0-7 1-3 0-1 0 11 0-10 0 1 0 3 0 1 0-4 0 2 0-5 0 10 1-7 0 8 0-8 0 10 0-9 0 10 0-12 0 7 0 0 0-4 0 0 1-5 0 2 0 5 0-4 0 4 0 3 0-4 0-3 0 5 0-6 1 10 0-7 0 4 0-3 0 4 0-4 0-6 0 10 0-6 0-2 0-3 1 6 0 2 0 2 0-2 0 2 0-3 0 3 0-2 0-7 0 4 0 0 1 1 0-4 0 4 0-4 0 7 0-1 0 0 0-5 0-3 0 7 1-4 0 6 0-2 0-1 0 0 0-3 0 2 0 4 0-3 0-3 0 0 1 2 0 6 0-4 0 2 0 2 0 5 0-4 0-3 0 2 0-3 1 4 0-1 0-4 0-6 0 4 0-4 0 5 0 2 0 0 0-2 0-5 1 5 0-2 0-1 0 1 0 4 0-1 0 2 0-4 0-1 0 1 0-1 1 4 0 0 0 0 0-3 0 0 0 2 0-8 0 15 0-6 0 0 1-1 0 9 0-10 0-4 0 6 0 3 0 6 0-10 0-5 0 3 0-1 1 3 0 8 0-8 0 3 0-6 0-3 0 4 0 1 0 0 0-3 0 7 1 0 0-7 0 1 0 1 0 4 0-2 0 0 0-4 0 6 0 4 1-7 0-2 0 0 0 3 0-1 0 0 0 3 0-6 0 5 0-2 0 4 1-3 0-1 0 1 0 0 0 1 0-5 0-2 0 10 0-4 0 3 0-1 1-4 0 0 0 6 0 2 0-15 0 9 0 1 0-4 0 3 0 0 1 0 0 0 0 2 0-8 0 10 0-3 0 6 0-5 0 0 0-4 0 4 1 2 0-9 0 2 0 0 0 3 0 0 0 1 0-4 0 8 0-11 0 3 1-2 0-1 0 11 0-10 0-1 0 3 0 3 0-4 0 3 0 0 1 0 0 0 0 0 0 0 0 4 0 0 0-2 0-1 0-4 0 6 0-1 1 3 0-4 0-3 0-1 0 0 0 9 0-8 0 2 0 5 0 4 0-7 1-5 0 4 0 2 0-3 0 1 0-1 0-3 0 5 0-2 0 6 1-9 0 6 0-4 0-1 0 0 0 4 0-1 0-2 0 8 0-5 0 3 1-3 0 2 0-1 0-2 0-3 0 4 0-2 0 5 0-8 0 2 0 5 1-2 0-3 0 11 0-11 0 2 0 8 0-14 0 4 0 1 0-5 1 1 0 5 0 0 0-2 0 5 0-3 0-3 0-5 0 8 0 0 0-6 1 8 0-3 0-1 0 0 0 3 0-6 0 5 0-7 0 6 0 1 0 0 1 2 0-2 0 1 0-1 0-1 0 0 0 10 0-6 0 1 0-1 1-3 0 5 0-4 0-4 0 4 0 2 0 3 0-9 0 4 0-7 0 1 1 1 0 6 0-2 0-6 0 3 0 6 0-9 0 3 0 6 0-6 0 1 1 1 0-1 0-1 0 5 0 1 0-3 0-1 0 1 0 0 0 2 1-4 0 1 0-2 0 3 0-1 0-3 0 2 0-3 0 7 0 2 0-9 1 6 0-1 0 0 0-6 0 1 0 4 0-2 0-4 0 13 0-10 0 0 1 3 0 0 0 0 0-2 0 5 0-2 0-1 0-4 0 5 0 0 1-6 0 9 0-5 0-3 0 5 0 3 0-3 0 5 0-1 0 0 0-8 1 3 0 0 0-6 0 8 0-4 0 0 0 6 0-1 0-5 0 1 0 6 1-5 0 8 0-6 0 11 0-11 0-11 0 6 0 8 0-7 0 0 1 3 0 0 0-1 0-3 0-3 0 9 0-8 0 3 0 2 0-6 0 1 1 8 0 2 0-4 0 2 0-5 0 17 0-20 0 2 0 4 0 0 0 1 1-3 0 10 0-15 0 7 0-1 0 4 0-10 0 3 0 8 0-6 1-1 0 2 0 1 0-3 0-2 0 10 0 0 0-1 0-4 0 2 0-3 1 0 0 10 0-7 0-2 0-1 0-4 0 4 0-6 0 7 0-2 1-5 0 9 0-2 0 1 0-1 0 4 0-4 0 2 0 3 0-1 0 1 1-1 0 2 0-4 0 1 0 3 0-1 0-4 0-1 0 3 0-1 0-3 1-4 0 4 0 1 0 0 0 3 0-10 0 10 0-5 0 5 0-3 1-2 0 0 0-9 0 9 0 10 0 0 0-6 0 3 0 1 0-11 0 6 1-2 0-1 0 4 0-4 0 0 0 0 0 4 0-11 0 8 0-2 0 1 1 0 0 7 0 1 0-5 0 0 0-1 0 1 0 0 0-2 0 0 1 3 0 0 0-9 0 7 0 4 0-3 0-3 0 0 0 5 0-1 0-6 1-2 0 0 0 2 0 2 0 6 0 2 0-6 0 3 0-4 0 7 0-7 1-6 0 7 0-5 0 8 0-2 0 8 0-10 0 6 0-6 0 3 1-2 0 5 0-11 0 8 0-15 0 6 0 6 0 3 0-7 0 1 0-1 1 7 0-8 0 1 0 9 0 3 0-9 0 3 0-4 0 7 0-6 0-7 1 11 0-1 0-4 0 6 0-3 0 2 0-3 0-3 0 5 0-1 1-1 0-7 0 8 0 8 0-5 0 1 0-5 0-3 0 4 0-1 0-3 1 4 0-5 0-1 0 12 0-2 0-9 0 8 0 2 0-6 0 0 0 1 1-2 0-6 0 10 0-3 0 5 0-7 0 4 0-3 0 4 0-1 1-3 0 3 0-2 0 7 0-8 0 1 0-1 0 1 0 1 0 3 0 0 1-7 0 3 0 0 0 3 0 3 0-15 0 6 0 4 0 0 0-3 0 6 1 1 0-4 0 5 0-6 0-2 0 6 0-8 0 1 0 0 0 2 1-8 0 8 0 0 0 0 0 4 0-1 0 0 0-10 0 9 0-1 0 3 1 6 0-8 0-1 0-1 0 3 0 2 0-5 0 2 0 0 0 3 0-4 1 5 0-7 0-2 0 1 0 2 0-3 0 0 0 6 0-5 0 2 1 4 0-3 0 1 0-3 0 6 0 0 0-4 0 2 0-8 0 14 0-11 1-3 0 2 0 2 0 0 0 5 0-2 0-3 0 0 0 2 0 0 0 1 1-3 0-1 0 3 0-6 0 2 0 6 0-4 0 0 0 5 0-9 1 4 0 2 0-2 0 6 0-4 0-3 0 3 0 8 0-5 0 2 0-9 1 10 0-7 0-2 0 7 0-8 0 6 0 5 0-4 0 1 0-3 0-2 1 4 0 0 0-7 0 9 0-7 0 6 0-1 0-1 0-4 0 3 1-2 0 3 0-10 0 6 0-1 0 2 0 0 0-6 0 0 0 7 0-6 1 7 0 6 0-11 0 2 0-1 0 5 0 4 0-8 0 8 0-13 0 5 1 4 0 0 0-1 0 4 0-3 0 3 0-6 0 6 0-4 0 0 1 0 0-3 0-2 0-2 0 14 0-3 0-1 0-9 0 8 0-1 0 3 1-7 0 5 0 0 0-6 0 3 0 3 0-2 0-6 0 10 0 1 0-3 1 1 0-1 0-3 0 1 0-8 0 14 0-7 0 0 0 3 0-2 1 2 0-1 0-9 0 4 0 8 0-8 0 5 0 3 0-1 0-4 0 4 1-4 0 1 0-3 0-1 0 6 0-3 0 7 0-14 0 2 0 8 1-4 0 2 0 1 0 0 0-1 0-2 0 1 0 4 0 3 0-4 0-1 1-9 0 10 0 0 0 2 0-6 0 7 0-10 0 2 0 5 0-3 0-3 1 3 0-2 0 4 0-2 0 0 0 2 0-2 0-4 0 9 0-3 1-7 0 11 0-5 0-2 0 0 0 2 0-6 0 0 0 12 0-8 0 4 1 1 0-3 0 2 0-6 0-1 0 9 0-1 0-2 0-4 0 3 0 4 1-8 0 2 0-7 0 6 0 4 0 4 0-8 0-1 0 4 0 3 1-12 0 13 0-3 0-2 0 4 0-6 0-1 0 7 0-5 0 2 0-5 1 9 0-4 0-1 0-3 0 0 0 7 0-3 0-2 0-5 0 4 0-1 1 9 0-10 0 3 0-4 0 8 0-4 0 6 0-6 0 0 0 0 1-1 0 2 0-1 0 9 0-5 0-4 0 3 0-2 0 8 0-6 0 6 1-16 0 14 0-2 0-7 0 1 0 2 0 2 0-1 0 2 0-6 0 6 1-1 0 5 0-6 0 8 0-3 0-2 0-4 0-1 0 1 0 0 1 2 0-1 0 1 0-7 0 8 0-4 0 3 0-5 0 2 0 5 0-6 1 4 0 5 0-7 0-7 0 7 0-1 0 2 0 4 0-5 0-2 0 2 1 9 0-12 0 3 0-2 0 5 0-7 0 10 0-4 0-3 0-3 1 4 0 2 0-2 0 2 0 4 0-5 0-3 0 0 0 5 0 2 0 0 1-10 0 7 0-2 0 4 0-6 0 1 0 6 0-7 0 6 0-8 0 6 1-3 0 2 0 4 0-4 0 2 0-1 0-1 0 3 0-8 0 7 1 0 0-7 0 4 0-2 0 6 0-3 0-2 0 5 0-1 0 2 0-8 1 3 0 2 0 4 0-7 0 3 0 1 0 3 0-4 0 1 0 0 0-4 1-3 0 4 0 0 0 0 0 4 0-4 0 0 0-4 0 0 0 5 1 0 0-4 0 8 0-2 0-5 0-4 0 8 0-6 0 5 0 4 0-1 1-4 0 3 0-4 0 4 0-8 0 0 0 5 0 1 0 1 0-4 0 6 1 1 0-1 0 3 0-5 0 0 0-2 0 2 0-2 0-3 0 7 1 0 0-7 0 3 0 4 0-2 0 1 0-7 0 3 0 3 0-3 0 3 1-1 0-1 0 1 0 4 0-6 0-4 0 9 0-7 0 4 0-3 0 4 1-3 0-2 0 11 0-5 0 1 0-4 0 3 0-2 0-7 0 5 1 4 0-1 0 0 0 0 0 2 0-1 0 3 0-2 0-6 0 5 0-2 1-7 0 6 0 9 0-6 0-1 0-3 0 4 0-1 0-11 0 14 0-2 1-2 0-3 0 1 0 6 0-4 0-1 0 0 0 3 0 0 0-1 1 0 0 0 0-1 0 0 0-3 0 2 0 1 0 2 0-3 0 3 0 0 1 5 0-4 0 0 0-2 0-3 0-5 0 13 0-1 0-8 0 4 0-1 1-2 0 4 0-1 0 2 0-2 0-4 0 3 0-5 0 8 0 0 1-6 0 5 0-6 0 0 0 8 0-8 0 2 0 0 0 1 0-4 0-2 1 11 0-8 0 7 0-4 0 0 0 0 0 2 0-4 0 7 0-4 1 4 0-1 0-8 0 6 0-2 0 3 0-2 0 2 0-1 0-3 0 1 1-4 0-4 0 12 0-8 0 5 0-5 0 2 0 3 0 1 0-3 0 4 1 3 0-4 0-4 0 5 0-7 0-2 0 6 0 3 0-3 0-2 1-1 0 2 0-4 0 7 0-1 0 1 0-3 0 0 0-1 0 2 0 8 1-5 0-1 0-3 0 1 0 0 0 2 0-1 0 0 0 0 0-2 0 4 1-1 0-7 0 5 0 0 0 5 0-9 0 12 0-6 0-3 0 2 1 0 0 4 0-7 0 6 0 2 0-9 0-2 0 6 0 1 0 4 0-2 1-1 0-3 0-1 0 2 0-4 0 5 0-1 0 1 0-1 0-4 0 3 1-1 0 6 0 4 0-8 0-3 0 1 0 0 0 1 0 0 0 0 1-1 0-3 0 9 0-1 0 2 0 0 0-4 0 0 0 3 0-4 0 3 1-1 0 1 0 2 0-6 0 4 0 6 0-9 0 2 0-4 0-5 0 3 1-2 0 6 0-2 0 6 0-8 0 5 0-4 0 3 0-5 0 4 1 4 0-3 0-2 0 3 0 5 0-1 0-6 0-2 0 3 0 1 0 1 1 0 0-1 0-2 0-2 0-1 0 8 0-4 0 2 0 4 0 1 0-5 1-3 0-6 0 10 0-4 0 3 0-2 0 3 0 3 0-3 0-4 1-3 0 2 0 5 0-5 0 1 0 3 0 1 0-7 0 11 0-10 0 4 1 0 0-6 0 6 0-1 0 6 0-5 0-4 0 7 0-6 0 1 0 2 1 2 0-1 0 0 0-8 0 4 0 7 0-5 0 9 0-12 0 6 1 4 0-2 0-12 0 8 0 2 0 0 0-8 0 3 0-1 0 1 0 9 1-11 0 2 0 6 0-5 0 0 0-7 0 4 0 12 0-5 0-4 0 0 1-2 0 1 0-1 0 1 0 0 0-1 0 6 0-2 0-3 0-2 1 4 0 5 0-4 0 0 0-4 0-1 0 3 0 3 0-2 0-3 0 3 1 0 0 0 0 4 0-4 0-8 0 8 0-1 0 3 0 0 0-1 0-1 1-3 0 2 0 8 0-4 0-3 0 1 0-7 0 12 0-6 0-4 1 1 0 2 0-4 0 10 0-12 0 4 0 8 0 0 0-4 0-3 0-1 1 7 0 0 0-9 0 12 0-5 0-2 0-3 0 5 0-3 0 6 0-5 1-4 0 6 0-7 0 4 0 5 0-1 0-8 0 8 0 1 0-7 1-3 0 3 0-4 0 8 0-1 0-2 0 3 0-4 0 3 0 2 0-2 1 5 0-7 0 2 0 2 0 0 0-1 0 0 0 2 0-8 0 9 0-5 1 4 0-5 0 6 0 3 0-5 0 1 0-2 0-4 0-1 0 3 1 0 0 2 0-3 0 4 0 2 0-4 0 3 0-5 0 3 0 5 0-7 1-3 0 10 0-15 0 3 0 5 0-1 0 4 0 3 0-5 0 2 0 2 1 0 0-6 0-2 0 23 0-18 0 3 0-7 0 4 0 5 0-3 0-1 1 2 0 9 0-19 0 9 0 3 0-13 0 8 0-2 0 5 0-2 0 5 1-3 0 2 0-5 0 5 0-11 0 7 0 0 0 1 0-7 0 9 1 1 0-1 0-7 0 1 0 1 0 1 0-3 0 3 0 3 0-15 0 8 1 8 0-4 0 0 0 0 0-5 0 4 0 1 0-6 0 3 0-2 0 9 1-5 0-5 0 6 0 3 0-6 0 2 0 3 0 0 0-2 0-1 1-3 0 4 0-3 0 0 0 3 0-3 0 1 0 0 0 5 0-6 0 5 1 0 0-2 0 1 0 0 0 1 0-6 0 1 0 0 0 2 0 2 0-6 1 1 0 2 0 0 0 5 0 1 0 1 0-2 0-3 0 0 0 3 1-5 0-1 0 6 0-4 0 6 0 7 0-11 0-3 0 2 0-1 0 0 1 0 0 0 0 3 0-7 0 11 0-3 0-7 0 7 0 0 0 2 0-4 1 2 0-6 0 5 0-2 0-3 0 3 0-5 0 9 0-2 0-3 1 0 0 1 0 1 0 0 0-1 0-5 0 6 0-3 0-4 0 9 0-5 1-2 0 9 0-3 0-1 0-1 0 1 0 1 0-9 0 4 0 2 0-2 1 0 0 2 0 6 0-8 0 6 0-6 0 1 0-1 0 10 0-9 1-2 0 12 0-10 0 0 0 1 0-4 0 8 0-4 0 2 0 6 0-3 1-4 0 2 0-4 0 2 0-4 0 5 0-2 0 1 0 0 0-4 0 2 1 4 0 4 0-10 0 1 0 3 0-3 0 2 0-2 0 2 0 2 1-1 0-1 0 0 0 0 0-9 0 14 0 4 0-7 0 4 0-9 0 4 1 1 0 1 0 2 0-4 0 4 0-4 0 2 0-13 0 8 0 3 0 0 1-5 0 8 0-5 0 1 0 4 0 0 0-4 0-6 0 9 0-1 1-7 0 8 0-3 0 6 0-8 0 7 0-7 0-5 0 8 0 0 0-2 1 4 0 2 0-3 0-4 0 4 0 1 0-3 0 3 0 1 0-1 0 2 1 0 0-3 0 3 0-4 0 6 0-11 0-4 0 7 0 2 0-11 1 11 0 2 0-6 0 4 0-3 0 3 0 0 0 1 0-2 0 4 0-1 1 0 0-1 0 1 0-7 0 7 0-2 0 3 0-10 0 5 0 2 0 5 1-5 0-6 0 7 0-3 0 5 0-1 0-2 0-2 0-1 0 12 1-3 0-3 0 2 0-9 0 4 0 4 0-1 0-5 0-1 0 2 0-3 1 8 0-3 0-5 0 2 0 3 0 1 0-1 0 2 0-2 0-1 0-1 1 0 0 2 0-3 0 0 0-1 0-1 0 1 0 3 0-2 0 3 1 6 0-4 0-9 0 7 0-2 0-8 0 12 0 0 0-6 0 6 0-2 1-2 0 1 0-1 0 4 0 2 0-6 0-3 0 7 0-10 0 0 0 14 1-6 0 3 0-4 0-5 0 4 0-3 0 4 0 5 0-3 0-5 1 0 0 0 0 2 0 1 0 4 0-8 0 2 0 2 0 4 0-1 0 1 1-5 0 3 0-1 0 2 0-5 0-2 0 12 0-7 0 6 0-5 0-7 1 7 0 1 0-13 0 11 0-1 0 1 0-5 0 7 0-3 0 0 1-4 0 2 0 6 0-7 0 15 0-12 0-4 0 2 0-1 0 3 0 1 1 0 0 0 0 5 0-4 0-1 0-2 0-2 0 6 0-7 0 10 1-8 0 0 0-2 0 9 0-2 0-7 0-1 0 9 0-6 0 9 0-13 1 6 0 1 0-2 0 3 0-9 0 11 0-6 0 1 0 2 0-2 0-2 1-2 0 6 0-1 0 4 0-6 0 1 0-2 0-2 0 10 0-6 1 5 0-8 0 2 0-2 0 0 0 1 0 3 0-8 0 9 0 1 0-5 1 11 0-5 0-5 0-4 0 7 0-2 0-1 0 4 0-5 0 7 0-2 1 0 0-1 0-6 0 6 0 1 0-2 0 2 0-9 0 11 0-8 1 9 0-8 0 3 0-6 0 8 0-8 0 6 0 1 0-1 0-7 0 8 1-1 0 1 0 3 0-8 0 4 0 0 0-3 0 1 0 1 0 1 0-4 1 0 0 6 0-5 0-1 0 2 0 6 0-2 0 2 0-5 0 6 1-9 0 2 0 2 0 6 0-3 0-2 0-2 0 3 0-3 0-4 0-2 1 8 0 0 0 0 0 1 0-3 0 1 0 5 0-5 0-4 0 5 0-6 1 13 0-6 0-5 0 5 0-5 0-4 0 9 0-4 0 2 0-2 1 4 0-8 0 4 0 0 0 4 0 0 0-1 0-2 0-1 0 3 0 1 1-8 0 5 0-8 0 11 0-1 0-5 0-3 0 10 0-4 0-3 0 2 1 7 0-4 0 4 0-6 0 6 0-6 0 0 0 4 0-6 0 9 1-8 0-5 0 4 0 6 0-5 0 6 0-2 0-7 0 3 0-5 0 3 1 3 0-2 0 0 0-4 0 6 0 4 0-3 0 1 0 1 0-3 0-2 1 5 0-3 0-3 0 0 0-2 0 9 0-2 0 2 0-9 0 8 1-5 0 2 0-2 0 4 0-7 0 6 0-2 0-3 0 4 0 7 0-15 1 7 0 1 0-1 0 1 0 2 0-2 0 2 0 4 0-11 0 4 0 3 1 5 0-8 0 3 0 1 0-2 0-1 0-3 0 1 0-3 0 6 1-1 0-1 0-1 0-1 0 2 0 4 0 2 0-6 0-3 0 7 0 3 1-5 0-7 0 7 0 4 0-1 0-4 0 1 0-2 0-6 0 11 0-6 1-4 0 14 0-9 0 0 0 3 0 2 0-7 0 6 0-11 0 12 1-8 0 1 0 0 0 2 0 2 0 3 0 1 0-2 0-3 0 7 0-5 1-3 0 0 0-1 0-1 0-1 0 2 0-3 0 10 0-8 0 3 0 0 1 2 0 2 0-5 0-3 0 4 0 5 0 4 0-4 0-2 0-3 1-4 0 4 0 2 0-1 0-2 0 1 0 5 0 0 0-5 0 5 0 4 1 0 0-6 0-4 0 10 0-6 0 5 0-8 0-3 0 6 0-2 0 3 1 2 0-6 0 3 0-6 0-2 0 7 0 3 0-1 0-4 0-2 1 2 0 6 0-4 0-1 0 1 0-2 0 0 0 0 0-4 0 7 0-9 1 7 0 9 0-8 0-3 0 0 0-2 0 5 0 5 0-2 0-3 1-1 0 3 0-7 0 8 0-2 0-1 0 0 0 0 0 0 0 1 0-5 1 1 0 1 0 7 0-4 0 2 0-2 0 3 0-12 0 5 0-1 0 0 1 4 0 5 0-1 0 3 0-6 0-2 0-2 0 2 0 2 0-4 1 2 0-3 0 4 0-2 0-1 0 2 0 1 0 0 0 2 0-5 0 5 1-4 0 8 0-10 0 2 0 0 0-2 0 2 0 0 0 6 0-6 0 3 1-8 0 9 0-3 0 3 0-6 0 4 0 1 0 1 0 3 0-5 1 0 0-4 0 4 0-2 0 5 0-7 0 4 0-4 0 7 0-13 0 12 1-6 0 9 0-9 0 2 0-4 0 4 0-2 0 3 0 1 0-1 0-2 1 5 0 3 0-2 0-2 0 3 0-3 0-2 0-3 0 2 0 0 1-3 0 6 0 2 0-5 0 8 0-9 0 0 0-2 0 4 0-1 0 1 1-2 0 2 0-4 0 4 0-2 0 3 0 2 0-1 0 0 0-2 0 1 1-6 0 3 0 2 0-2 0-1 0 1 0 3 0-1 0-3 0 1 1 6 0-7 0 9 0-9 0-1 0 4 0-3 0 3 0 1 0 0 0-6 1 6 0-2 0 9 0-4 0-7 0 7 0-9 0 5 0 3 0-4 0 3 1-2 0 1 0-7 0 4 0-5 0 4 0 1 0-3 0-1 0 4 1 0 0 5 0-2 0 3 0-8 0 2 0-6 0 5 0-1 0 2 0 2 1-2 0-1 0 5 0 0 0-3 0 3 0 1 0-5 0 6 0-8 0 6 1 0 0 8 0-12 0 5 0-1 0 5 0-2 0-6 0 1 0 1 1-7 0 8 0-7 0 6 0-1 0 5 0-6 0 5 0-3 0 0 0 2 1 0 0 2 0-8 0 4 0 2 0-1 0-1 0 0 0-4 0-2 0 14 1-11 0 5 0-2 0-5 0 6 0 0 0-4 0 2 0 9 0-10 1-1 0-2 0 7 0-4 0 1 0-2 0 5 0-9 0 1 0 3 0 2 1-6 0 7 0-2 0-3 0 5 0-4 0 1 0 1 0 1 0-4 0-1 1 6 0 3 0-5 0 0 0 2 0-9 0 9 0-6 0 4 0 5 1-4 0 1 0-4 0-2 0 5 0-2 0 8 0-1 0-7 0 3 0 0 1-7 0 6 0-2 0 5 0-3 0 1 0 2 0-4 0-2 0-1 0 1 1 3 0 2 0-3 0 0 0-1 0 4 0-4 0 0 0 1 0 0 1-1 0 2 0 0 0-9 0 4 0 6 0-2 0-1 0 5 0-2 0-8 1 10 0-3 0 0 0 0 0 3 0-4 0-2 0 6 0-4 0 4 0-8 1 4 0-1 0-2 0 0 0 1 0 3 0 1 0 3 0-9 0 12 1-7 0 7 0-4 0 2 0-5 0-3 0 5 0-1 0-8 0 10 0 1 1-5 0 2 0-7 0 2 0 3 0 3 0 1 0-9 0 2 0 10 0-6 1 0 0-1 0 2 0-3 0-4 0 4 0 0 0 0 0 3 0-1 1 0 0 4 0-1 0-2 0-4 0 5 0-7 0 7 0 6 0-10 0 8 1 0 0-13 0 8 0-6 0 4 0 2 0-3 0-1 0 2 0-2 1-1 0 6 0-2 0-2 0 2 0 2 0 3 0-5 0 2 0-3 0-2 1 3 0-1 0 2 0-2 0 4 0-1 0-2 0 0 0 5 0-4 0 1 1 1 0-7 0 1 0-1 0 10 0-8 0 0 0-3 0 13 0-9 1 10 0-8 0-6 0 8 0-1 0-6 0 3 0 3 0 1 0 1 0-4 1 0 0 5 0 0 0-1 0 4 0-13 0 3 0 3 0 2 0 1 0-6 1 1 0 4 0 0 0-4 0 4 0 5 0-13 0 3 0 0 0 4 1-4 0 0 0 3 0 3 0-6 0 8 0-3 0-4 0-4 0 5 0-3 1 7 0-11 0 7 0 1 0-5 0 9 0-4 0-5 0 5 0 4 0-5 1 7 0-11 0 5 0-2 0 0 0 4 0 0 0-2 0-2 0-1 1 0 0 1 0-2 0 4 0-1 0 4 0-6 0 2 0-1 0 3 0 0 1-1 0 2 0-7 0 3 0-3 0 2 0 4 0-6 0 9 0-8 0 3 1-4 0 7 0-1 0-1 0-1 0 1 0 2 0-9 0 5 0 0 1 3 0-3 0-1 0 10 0-5 0-1 0-5 0 2 0 5 0-5 0-2 1 9 0-1 0-10 0 4 0 3 0-5 0 5 0 2 0-2 0-7 0 8 1-4 0 3 0-2 0-3 0 0" fill="none" stroke="none" marker-mid="url(#mo)"/>
<path d="M129.5 64.5H904.5V779.5H129.5ZM139.5 779.5v-8M139.5 64.5v8M207.5 779.5v-8M207.5 64.5v8M276.5 779.5v-8M276.5 64.5v8M344.5 779.5v-8M344.5 64.5v8M413.5 779.5v-8M413.5 64.5v8M482.5 779.5v-8M482.5 64.5v8M550.5 779.5v-8M550.5 64.5v8M619.5 779.5v-8M619.5 64.5v8M687.5 779.5v-8M687.5 64.5v8M756.5 779.5v-8M756.5 64.5v8M824.5 779.5v-8M824.5 64.5v8M893.5 779.5v-8M893.5 64.5v8M129.5 688.5h8M904.5 688.5h-8M129.5 577.5h8M904.5 577.5h-8M129.5 466.5h8M904.5 466.5h-8M129.5 355.5h8M904.5 355.5h-8M129.5 244.5h8M904.5 244.5h-8M129.5 133.5h8M904.5 133.5h-8" stroke="#262626" stroke-width="1" fill="none"/>
<g fill="#262626" font-size="22.5"><text x="139.0" y="808" text-anchor="middle" textLength="55" lengthAdjust="spacingAndGlyphs">2003</text><text x="207.0" y="808" text-anchor="middle" textLength="55" lengthAdjust="spacingAndGlyphs">2005</text><text x="276.0" y="808" text-anchor="middle" textLength="55" lengthAdjust="spacingAndGlyphs">2007</text><text x="344.0" y="808" text-anchor="middle" textLength="55" lengthAdjust="spacingAndGlyphs">2009</text><text x="413.0" y="808" text-anchor="middle" textLength="55" lengthAdjust="spacingAndGlyphs">2011</text><text x="482.0" y="808" text-anchor="middle" textLength="55" lengthAdjust="spacingAndGlyphs">2013</text><text x="550.0" y="808" text-anchor="middle" textLength="55" lengthAdjust="spacingAndGlyphs">2015</text><text x="619.0" y="808" text-anchor="middle" textLength="55" lengthAdjust="spacingAndGlyphs">2017</text><text x="687.0" y="808" text-anchor="middle" textLength="55" lengthAdjust="spacingAndGlyphs">2019</text><text x="756.0" y="808" text-anchor="middle" textLength="55" lengthAdjust="spacingAndGlyphs">2021</text><text x="824.0" y="808" text-anchor="middle" textLength="55" lengthAdjust="spacingAndGlyphs">2023</text><text x="893.0" y="808" text-anchor="middle" textLength="55" lengthAdjust="spacingAndGlyphs">2025</text><text x="120" y="695.5" text-anchor="end" textLength="33.5" lengthAdjust="spacingAndGlyphs">0.1</text><text x="120" y="584.5" text-anchor="end" textLength="48" lengthAdjust="spacingAndGlyphs">0.15</text><text x="120" y="473.5" text-anchor="end" textLength="33.5" lengthAdjust="spacingAndGlyphs">0.2</text><text x="120" y="362.5" text-anchor="end" textLength="48" lengthAdjust="spacingAndGlyphs">0.25</text><text x="120" y="251.5" text-anchor="end" textLength="33.5" lengthAdjust="spacingAndGlyphs">0.3</text><text x="120" y="140.5" text-anchor="end" textLength="48" lengthAdjust="spacingAndGlyphs">0.35</text></g>
<text transform="translate(60 422) rotate(-90)" text-anchor="middle" font-size="24" fill="#262626" textLength="458" lengthAdjust="spacingAndGlyphs">Noise Equivalent Delta Temperature (K)</text>
<g font-weight="bold" font-size="23.8" fill="#000" text-anchor="middle">
<text x="515.5" y="22.9" textLength="422" lengthAdjust="spacingAndGlyphs">AIRS Channel 971 NEdT (@250K)</text>
<text x="515.5" y="52.9" textLength="278" lengthAdjust="spacingAndGlyphs">[M-06, 987.829 cm-1]</text>
</g>
<rect x="937.5" y="64.5" width="138" height="86" fill="#fff" stroke="#262626" stroke-width="1"/>
<path d="M972.5 76.5l9 9M972.5 85.5l9-9" stroke="#00ff00" fill="none"/>
<path d="M971 107.5h13M977.5 101v13" stroke="#ff0000" fill="none"/>
<circle cx="977.5" cy="133.5" r="6" stroke="#0000ff" fill="none"/>
<g font-size="19" fill="#000">
<text x="1016" y="87.6" textLength="50" lengthAdjust="spacingAndGlyphs">Mean</text>
<text x="1016" y="113.7" textLength="38" lengthAdjust="spacingAndGlyphs">Max</text>
<text x="1016" y="139.7" textLength="32.3" lengthAdjust="spacingAndGlyphs">Min</text>
</g>
<g>
<circle cx="936" cy="25.9" r="20.9" fill="#1d409a"/>
<ellipse cx="934" cy="24" rx="15" ry="4.5" transform="rotate(50 934 24)" fill="none" stroke="#fff" stroke-width="0.7" opacity="0.5"/>
<g fill="#fff"><circle cx="926" cy="12" r=".7"/><circle cx="941" cy="9" r=".6"/><circle cx="921" cy="20" r=".6"/><circle cx="948" cy="37" r=".6"/><circle cx="929" cy="40" r=".6"/><circle cx="950" cy="31" r=".5"/><circle cx="922" cy="34" r=".5"/></g>
<path d="M964 8L950 13.5L938 20L913 31.5L938 24L950 21L957 17Z" fill="#ec3b2a"/>
<text x="936.5" y="29.8" font-size="11.5" font-weight="bold" fill="#fff" text-anchor="middle" textLength="36" lengthAdjust="spacingAndGlyphs" font-family="Liberation Sans,sans-serif">NASA</text>
</g>
<text x="966" y="24.7" font-size="13" font-weight="bold" fill="#000" textLength="175" lengthAdjust="spacingAndGlyphs">Jet Propulsion Laboratory</text>
<text x="966" y="37.6" font-size="11" fill="#000" textLength="174" lengthAdjust="spacingAndGlyphs">California Institute of Technology</text>
</svg>
</body></html>
